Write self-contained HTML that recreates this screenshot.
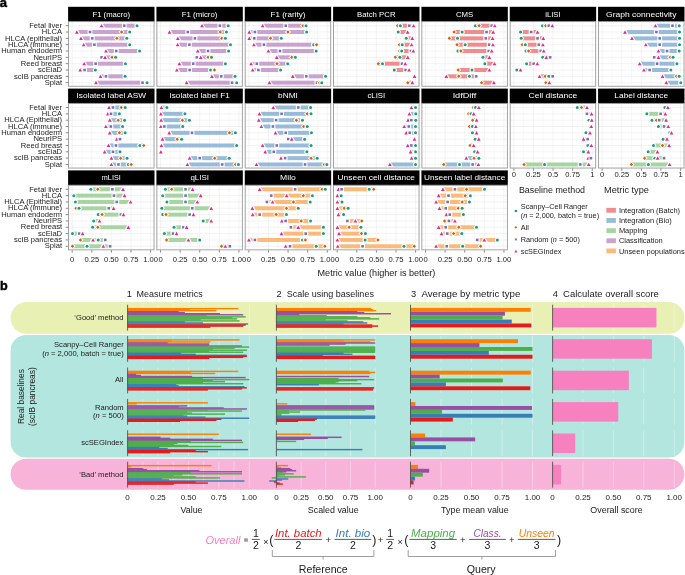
<!DOCTYPE html>
<html><head><meta charset="utf-8"><style>
html,body{margin:0;padding:0;background:#fff;width:685px;height:575px;overflow:hidden}
svg{display:block;will-change:transform}
text{font-family:"Liberation Sans", sans-serif}
</style></head><body>
<svg width="685" height="575" viewBox="0 0 685 575">
<rect x="0" y="0" width="685" height="575" fill="#fff"/>
<g font-family='"Liberation Sans", sans-serif'>
<text x="-0.2" y="6.9" font-size="13" fill="#000" font-weight="bold" stroke="#000" stroke-width="0.45">a</text>
<rect x="68.1" y="6.8" width="86.4" height="14.8" fill="#000"/>
<text x="111.3" y="16.5" font-size="8.1" fill="#fff" text-anchor="middle" textLength="37.6" lengthAdjust="spacingAndGlyphs">F1 (macro)</text>
<line x1="72.2" y1="21.6" x2="72.2" y2="86.7" stroke="#ebebeb" stroke-width="0.6"/>
<line x1="82" y1="21.6" x2="82" y2="86.7" stroke="#f4f4f4" stroke-width="0.6"/>
<line x1="91.8" y1="21.6" x2="91.8" y2="86.7" stroke="#ebebeb" stroke-width="0.6"/>
<line x1="101.6" y1="21.6" x2="101.6" y2="86.7" stroke="#f4f4f4" stroke-width="0.6"/>
<line x1="111.4" y1="21.6" x2="111.4" y2="86.7" stroke="#ebebeb" stroke-width="0.6"/>
<line x1="121.2" y1="21.6" x2="121.2" y2="86.7" stroke="#f4f4f4" stroke-width="0.6"/>
<line x1="131" y1="21.6" x2="131" y2="86.7" stroke="#ebebeb" stroke-width="0.6"/>
<line x1="140.8" y1="21.6" x2="140.8" y2="86.7" stroke="#f4f4f4" stroke-width="0.6"/>
<line x1="150.6" y1="21.6" x2="150.6" y2="86.7" stroke="#ebebeb" stroke-width="0.6"/>
<line x1="68.1" y1="25.7" x2="154.5" y2="25.7" stroke="#ebebeb" stroke-width="0.6"/>
<line x1="68.1" y1="32.03" x2="154.5" y2="32.03" stroke="#ebebeb" stroke-width="0.6"/>
<line x1="68.1" y1="38.36" x2="154.5" y2="38.36" stroke="#ebebeb" stroke-width="0.6"/>
<line x1="68.1" y1="44.69" x2="154.5" y2="44.69" stroke="#ebebeb" stroke-width="0.6"/>
<line x1="68.1" y1="51.02" x2="154.5" y2="51.02" stroke="#ebebeb" stroke-width="0.6"/>
<line x1="68.1" y1="57.35" x2="154.5" y2="57.35" stroke="#ebebeb" stroke-width="0.6"/>
<line x1="68.1" y1="63.68" x2="154.5" y2="63.68" stroke="#ebebeb" stroke-width="0.6"/>
<line x1="68.1" y1="70.01" x2="154.5" y2="70.01" stroke="#ebebeb" stroke-width="0.6"/>
<line x1="68.1" y1="76.34" x2="154.5" y2="76.34" stroke="#ebebeb" stroke-width="0.6"/>
<line x1="68.1" y1="82.67" x2="154.5" y2="82.67" stroke="#ebebeb" stroke-width="0.6"/>
<rect x="101.58" y="23.7" width="35.46" height="4" fill="#c9a2d0"/>
<polygon points="101.58,23.9 99.73,27.3 103.43,27.3" fill="#fff" stroke="#fff" stroke-width="2.4" stroke-linejoin="miter"/>
<polygon points="101.58,23.9 99.73,27.3 103.43,27.3" fill="#e7298a"/>
<rect x="121.83" y="23.3" width="4.8" height="4.8" fill="#fff"/>
<rect x="122.93" y="24.4" width="2.6" height="2.6" fill="#7570b3"/>
<circle cx="137.04" cy="25.7" r="2.6" fill="#fff"/>
<circle cx="137.04" cy="25.7" r="1.5" fill="#1b9e77"/>
<rect x="76.82" y="30.03" width="52.88" height="4" fill="#c9a2d0"/>
<polygon points="76.82,30.23 74.97,33.63 78.67,33.63" fill="#fff" stroke="#fff" stroke-width="2.4" stroke-linejoin="miter"/>
<polygon points="76.82,30.23 74.97,33.63 78.67,33.63" fill="#e7298a"/>
<rect x="87.62" y="29.63" width="4.8" height="4.8" fill="#fff"/>
<rect x="88.72" y="30.73" width="2.6" height="2.6" fill="#7570b3"/>
<polygon points="121.65,28.98 124.7,32.03 121.65,35.08 118.6,32.03" fill="#fff"/>
<polygon points="121.65,30.28 123.4,32.03 121.65,33.78 119.9,32.03" fill="#d95f02"/>
<circle cx="129.7" cy="32.03" r="2.6" fill="#fff"/>
<circle cx="129.7" cy="32.03" r="1.5" fill="#1b9e77"/>
<rect x="80.96" y="36.36" width="45.85" height="4" fill="#c9a2d0"/>
<polygon points="80.96,36.56 79.11,39.96 82.81,39.96" fill="#fff" stroke="#fff" stroke-width="2.4" stroke-linejoin="miter"/>
<polygon points="80.96,36.56 79.11,39.96 82.81,39.96" fill="#e7298a"/>
<rect x="89.81" y="35.96" width="4.8" height="4.8" fill="#fff"/>
<rect x="90.91" y="37.06" width="2.6" height="2.6" fill="#7570b3"/>
<polygon points="116.89,35.31 119.94,38.36 116.89,41.41 113.84,38.36" fill="#fff"/>
<polygon points="116.89,36.61 118.64,38.36 116.89,40.11 115.14,38.36" fill="#d95f02"/>
<circle cx="126.81" cy="38.36" r="2.6" fill="#fff"/>
<circle cx="126.81" cy="38.36" r="1.5" fill="#1b9e77"/>
<rect x="83.62" y="42.69" width="46.08" height="4" fill="#c9a2d0"/>
<polygon points="83.62,42.89 81.77,46.29 85.47,46.29" fill="#fff" stroke="#fff" stroke-width="2.4" stroke-linejoin="miter"/>
<polygon points="83.62,42.89 81.77,46.29 85.47,46.29" fill="#e7298a"/>
<rect x="91.99" y="42.29" width="4.8" height="4.8" fill="#fff"/>
<rect x="93.09" y="43.39" width="2.6" height="2.6" fill="#7570b3"/>
<circle cx="129.7" cy="44.69" r="2.6" fill="#fff"/>
<circle cx="129.7" cy="44.69" r="1.5" fill="#1b9e77"/>
<rect x="105.95" y="49.02" width="33.59" height="4" fill="#c9a2d0"/>
<polygon points="105.95,49.22 104.1,52.62 107.8,52.62" fill="#fff" stroke="#fff" stroke-width="2.4" stroke-linejoin="miter"/>
<polygon points="105.95,49.22 104.1,52.62 107.8,52.62" fill="#e7298a"/>
<rect x="113.86" y="48.62" width="4.8" height="4.8" fill="#fff"/>
<rect x="114.96" y="49.72" width="2.6" height="2.6" fill="#7570b3"/>
<circle cx="139.54" cy="51.02" r="2.6" fill="#fff"/>
<circle cx="139.54" cy="51.02" r="1.5" fill="#1b9e77"/>
<rect x="101.58" y="55.35" width="14.06" height="4" fill="#c9a2d0"/>
<rect x="99.18" y="54.95" width="4.8" height="4.8" fill="#fff"/>
<rect x="100.28" y="56.05" width="2.6" height="2.6" fill="#7570b3"/>
<polygon points="105.02,55.55 103.17,58.95 106.87,58.95" fill="#fff" stroke="#fff" stroke-width="2.4" stroke-linejoin="miter"/>
<polygon points="105.02,55.55 103.17,58.95 106.87,58.95" fill="#e7298a"/>
<polygon points="112.05,54.3 115.1,57.35 112.05,60.4 109,57.35" fill="#fff"/>
<polygon points="112.05,55.6 113.8,57.35 112.05,59.1 110.3,57.35" fill="#d95f02"/>
<circle cx="115.64" cy="57.35" r="2.6" fill="#fff"/>
<circle cx="115.64" cy="57.35" r="1.5" fill="#1b9e77"/>
<rect x="84.16" y="61.68" width="41.32" height="4" fill="#c9a2d0"/>
<polygon points="84.16,61.88 82.31,65.28 86.01,65.28" fill="#fff" stroke="#fff" stroke-width="2.4" stroke-linejoin="miter"/>
<polygon points="84.16,61.88 82.31,65.28 86.01,65.28" fill="#e7298a"/>
<rect x="93.24" y="61.28" width="4.8" height="4.8" fill="#fff"/>
<rect x="94.34" y="62.38" width="2.6" height="2.6" fill="#7570b3"/>
<circle cx="125.48" cy="63.68" r="2.6" fill="#fff"/>
<circle cx="125.48" cy="63.68" r="1.5" fill="#1b9e77"/>
<rect x="80.18" y="68.01" width="15.23" height="4" fill="#c9a2d0"/>
<polygon points="80.18,68.21 78.33,71.61 82.03,71.61" fill="#fff" stroke="#fff" stroke-width="2.4" stroke-linejoin="miter"/>
<polygon points="80.18,68.21 78.33,71.61 82.03,71.61" fill="#e7298a"/>
<rect x="82.15" y="67.61" width="4.8" height="4.8" fill="#fff"/>
<rect x="83.25" y="68.71" width="2.6" height="2.6" fill="#7570b3"/>
<circle cx="95.41" cy="70.01" r="2.6" fill="#fff"/>
<circle cx="95.41" cy="70.01" r="1.5" fill="#1b9e77"/>
<rect x="100.49" y="74.34" width="24.6" height="4" fill="#c9a2d0"/>
<polygon points="100.49,74.54 98.64,77.94 102.34,77.94" fill="#fff" stroke="#fff" stroke-width="2.4" stroke-linejoin="miter"/>
<polygon points="100.49,74.54 98.64,77.94 102.34,77.94" fill="#e7298a"/>
<rect x="103.55" y="73.94" width="4.8" height="4.8" fill="#fff"/>
<rect x="104.65" y="75.04" width="2.6" height="2.6" fill="#7570b3"/>
<circle cx="125.09" cy="76.34" r="2.6" fill="#fff"/>
<circle cx="125.09" cy="76.34" r="1.5" fill="#1b9e77"/>
<rect x="96.03" y="80.67" width="51" height="4" fill="#c9a2d0"/>
<polygon points="96.03,80.87 94.18,84.27 97.88,84.27" fill="#fff" stroke="#fff" stroke-width="2.4" stroke-linejoin="miter"/>
<polygon points="96.03,80.87 94.18,84.27 97.88,84.27" fill="#e7298a"/>
<rect x="140.11" y="80.27" width="4.8" height="4.8" fill="#fff"/>
<rect x="141.21" y="81.37" width="2.6" height="2.6" fill="#7570b3"/>
<circle cx="147.04" cy="82.67" r="2.6" fill="#fff"/>
<circle cx="147.04" cy="82.67" r="1.5" fill="#1b9e77"/>
<rect x="68.55" y="21.6" width="85.5" height="64.65" fill="none" stroke="#999" stroke-width="0.9"/>
<line x1="65.7" y1="25.7" x2="68.1" y2="25.7" stroke="#555" stroke-width="0.7"/>
<text x="62.1" y="27.9" font-size="7.6" fill="#1a1a1a" text-anchor="end">Fetal liver</text>
<line x1="65.7" y1="32.03" x2="68.1" y2="32.03" stroke="#555" stroke-width="0.7"/>
<text x="62.1" y="34.23" font-size="7.6" fill="#1a1a1a" text-anchor="end">HLCA</text>
<line x1="65.7" y1="38.36" x2="68.1" y2="38.36" stroke="#555" stroke-width="0.7"/>
<text x="62.1" y="40.56" font-size="7.6" fill="#1a1a1a" text-anchor="end">HLCA (epithelial)</text>
<line x1="65.7" y1="44.69" x2="68.1" y2="44.69" stroke="#555" stroke-width="0.7"/>
<text x="62.1" y="46.89" font-size="7.6" fill="#1a1a1a" text-anchor="end">HLCA (immune)</text>
<line x1="65.7" y1="51.02" x2="68.1" y2="51.02" stroke="#555" stroke-width="0.7"/>
<text x="62.1" y="53.22" font-size="7.6" fill="#1a1a1a" text-anchor="end">Human endoderm</text>
<line x1="65.7" y1="57.35" x2="68.1" y2="57.35" stroke="#555" stroke-width="0.7"/>
<text x="62.1" y="59.55" font-size="7.6" fill="#1a1a1a" text-anchor="end">NeurIPS</text>
<line x1="65.7" y1="63.68" x2="68.1" y2="63.68" stroke="#555" stroke-width="0.7"/>
<text x="62.1" y="65.88" font-size="7.6" fill="#1a1a1a" text-anchor="end">Reed breast</text>
<line x1="65.7" y1="70.01" x2="68.1" y2="70.01" stroke="#555" stroke-width="0.7"/>
<text x="62.1" y="72.21" font-size="7.6" fill="#1a1a1a" text-anchor="end">scEiaD</text>
<line x1="65.7" y1="76.34" x2="68.1" y2="76.34" stroke="#555" stroke-width="0.7"/>
<text x="62.1" y="78.54" font-size="7.6" fill="#1a1a1a" text-anchor="end">scIB pancreas</text>
<line x1="65.7" y1="82.67" x2="68.1" y2="82.67" stroke="#555" stroke-width="0.7"/>
<text x="62.1" y="84.87" font-size="7.6" fill="#1a1a1a" text-anchor="end">Splat</text>
<rect x="156.43" y="6.8" width="86.4" height="14.8" fill="#000"/>
<text x="199.63" y="16.5" font-size="8.1" fill="#fff" text-anchor="middle" textLength="35.6" lengthAdjust="spacingAndGlyphs">F1 (micro)</text>
<line x1="160.53" y1="21.6" x2="160.53" y2="86.7" stroke="#ebebeb" stroke-width="0.6"/>
<line x1="170.33" y1="21.6" x2="170.33" y2="86.7" stroke="#f4f4f4" stroke-width="0.6"/>
<line x1="180.13" y1="21.6" x2="180.13" y2="86.7" stroke="#ebebeb" stroke-width="0.6"/>
<line x1="189.93" y1="21.6" x2="189.93" y2="86.7" stroke="#f4f4f4" stroke-width="0.6"/>
<line x1="199.73" y1="21.6" x2="199.73" y2="86.7" stroke="#ebebeb" stroke-width="0.6"/>
<line x1="209.53" y1="21.6" x2="209.53" y2="86.7" stroke="#f4f4f4" stroke-width="0.6"/>
<line x1="219.33" y1="21.6" x2="219.33" y2="86.7" stroke="#ebebeb" stroke-width="0.6"/>
<line x1="229.13" y1="21.6" x2="229.13" y2="86.7" stroke="#f4f4f4" stroke-width="0.6"/>
<line x1="238.93" y1="21.6" x2="238.93" y2="86.7" stroke="#ebebeb" stroke-width="0.6"/>
<line x1="156.43" y1="25.7" x2="242.83" y2="25.7" stroke="#ebebeb" stroke-width="0.6"/>
<line x1="156.43" y1="32.03" x2="242.83" y2="32.03" stroke="#ebebeb" stroke-width="0.6"/>
<line x1="156.43" y1="38.36" x2="242.83" y2="38.36" stroke="#ebebeb" stroke-width="0.6"/>
<line x1="156.43" y1="44.69" x2="242.83" y2="44.69" stroke="#ebebeb" stroke-width="0.6"/>
<line x1="156.43" y1="51.02" x2="242.83" y2="51.02" stroke="#ebebeb" stroke-width="0.6"/>
<line x1="156.43" y1="57.35" x2="242.83" y2="57.35" stroke="#ebebeb" stroke-width="0.6"/>
<line x1="156.43" y1="63.68" x2="242.83" y2="63.68" stroke="#ebebeb" stroke-width="0.6"/>
<line x1="156.43" y1="70.01" x2="242.83" y2="70.01" stroke="#ebebeb" stroke-width="0.6"/>
<line x1="156.43" y1="76.34" x2="242.83" y2="76.34" stroke="#ebebeb" stroke-width="0.6"/>
<line x1="156.43" y1="82.67" x2="242.83" y2="82.67" stroke="#ebebeb" stroke-width="0.6"/>
<rect x="201.97" y="23.7" width="26.24" height="4" fill="#c9a2d0"/>
<polygon points="201.97,23.9 200.12,27.3 203.82,27.3" fill="#fff" stroke="#fff" stroke-width="2.4" stroke-linejoin="miter"/>
<polygon points="201.97,23.9 200.12,27.3 203.82,27.3" fill="#e7298a"/>
<rect x="217.45" y="23.3" width="4.8" height="4.8" fill="#fff"/>
<rect x="218.55" y="24.4" width="2.6" height="2.6" fill="#7570b3"/>
<circle cx="228.21" cy="25.7" r="2.6" fill="#fff"/>
<circle cx="228.21" cy="25.7" r="1.5" fill="#1b9e77"/>
<rect x="169.47" y="30.03" width="56.94" height="4" fill="#c9a2d0"/>
<polygon points="169.47,30.23 167.62,33.63 171.32,33.63" fill="#fff" stroke="#fff" stroke-width="2.4" stroke-linejoin="miter"/>
<polygon points="169.47,30.23 167.62,33.63 171.32,33.63" fill="#e7298a"/>
<rect x="185.43" y="29.63" width="4.8" height="4.8" fill="#fff"/>
<rect x="186.53" y="30.73" width="2.6" height="2.6" fill="#7570b3"/>
<polygon points="220.24,28.98 223.29,32.03 220.24,35.08 217.19,32.03" fill="#fff"/>
<polygon points="220.24,30.28 221.99,32.03 220.24,33.78 218.49,32.03" fill="#d95f02"/>
<circle cx="226.41" cy="32.03" r="2.6" fill="#fff"/>
<circle cx="226.41" cy="32.03" r="1.5" fill="#1b9e77"/>
<rect x="177.83" y="36.36" width="47.57" height="4" fill="#c9a2d0"/>
<polygon points="177.83,36.56 175.98,39.96 179.68,39.96" fill="#fff" stroke="#fff" stroke-width="2.4" stroke-linejoin="miter"/>
<polygon points="177.83,36.56 175.98,39.96 179.68,39.96" fill="#e7298a"/>
<rect x="192.54" y="35.96" width="4.8" height="4.8" fill="#fff"/>
<rect x="193.64" y="37.06" width="2.6" height="2.6" fill="#7570b3"/>
<polygon points="221.81,35.31 224.86,38.36 221.81,41.41 218.76,38.36" fill="#fff"/>
<polygon points="221.81,36.61 223.56,38.36 221.81,40.11 220.06,38.36" fill="#d95f02"/>
<circle cx="225.4" cy="38.36" r="2.6" fill="#fff"/>
<circle cx="225.4" cy="38.36" r="1.5" fill="#1b9e77"/>
<rect x="177.6" y="42.69" width="52.88" height="4" fill="#c9a2d0"/>
<polygon points="177.6,42.89 175.75,46.29 179.45,46.29" fill="#fff" stroke="#fff" stroke-width="2.4" stroke-linejoin="miter"/>
<polygon points="177.6,42.89 175.75,46.29 179.45,46.29" fill="#e7298a"/>
<rect x="186.99" y="42.29" width="4.8" height="4.8" fill="#fff"/>
<rect x="188.09" y="43.39" width="2.6" height="2.6" fill="#7570b3"/>
<circle cx="230.48" cy="44.69" r="2.6" fill="#fff"/>
<circle cx="230.48" cy="44.69" r="1.5" fill="#1b9e77"/>
<rect x="197.75" y="49.02" width="30.85" height="4" fill="#c9a2d0"/>
<polygon points="197.75,49.22 195.9,52.62 199.6,52.62" fill="#fff" stroke="#fff" stroke-width="2.4" stroke-linejoin="miter"/>
<polygon points="197.75,49.22 195.9,52.62 199.6,52.62" fill="#e7298a"/>
<rect x="205.66" y="48.62" width="4.8" height="4.8" fill="#fff"/>
<rect x="206.76" y="49.72" width="2.6" height="2.6" fill="#7570b3"/>
<circle cx="228.6" cy="51.02" r="2.6" fill="#fff"/>
<circle cx="228.6" cy="51.02" r="1.5" fill="#1b9e77"/>
<rect x="196.81" y="55.35" width="14.68" height="4" fill="#c9a2d0"/>
<rect x="194.41" y="54.95" width="4.8" height="4.8" fill="#fff"/>
<rect x="195.51" y="56.05" width="2.6" height="2.6" fill="#7570b3"/>
<polygon points="200.72,55.55 198.87,58.95 202.57,58.95" fill="#fff" stroke="#fff" stroke-width="2.4" stroke-linejoin="miter"/>
<polygon points="200.72,55.55 198.87,58.95 202.57,58.95" fill="#e7298a"/>
<polygon points="208.06,54.3 211.11,57.35 208.06,60.4 205.01,57.35" fill="#fff"/>
<polygon points="208.06,55.6 209.81,57.35 208.06,59.1 206.31,57.35" fill="#d95f02"/>
<circle cx="211.5" cy="57.35" r="2.6" fill="#fff"/>
<circle cx="211.5" cy="57.35" r="1.5" fill="#1b9e77"/>
<rect x="179.39" y="61.68" width="46.01" height="4" fill="#c9a2d0"/>
<polygon points="179.39,61.88 177.54,65.28 181.24,65.28" fill="#fff" stroke="#fff" stroke-width="2.4" stroke-linejoin="miter"/>
<polygon points="179.39,61.88 177.54,65.28 181.24,65.28" fill="#e7298a"/>
<rect x="190.82" y="61.28" width="4.8" height="4.8" fill="#fff"/>
<rect x="191.92" y="62.38" width="2.6" height="2.6" fill="#7570b3"/>
<circle cx="225.4" cy="63.68" r="2.6" fill="#fff"/>
<circle cx="225.4" cy="63.68" r="1.5" fill="#1b9e77"/>
<rect x="176.82" y="68.01" width="37.65" height="4" fill="#c9a2d0"/>
<polygon points="176.82,68.21 174.97,71.61 178.67,71.61" fill="#fff" stroke="#fff" stroke-width="2.4" stroke-linejoin="miter"/>
<polygon points="176.82,68.21 174.97,71.61 178.67,71.61" fill="#e7298a"/>
<rect x="187.23" y="67.61" width="4.8" height="4.8" fill="#fff"/>
<rect x="188.33" y="68.71" width="2.6" height="2.6" fill="#7570b3"/>
<circle cx="210.56" cy="70.01" r="2.6" fill="#fff"/>
<circle cx="210.56" cy="70.01" r="1.5" fill="#1b9e77"/>
<polygon points="214.46,66.96 217.51,70.01 214.46,73.06 211.41,70.01" fill="#fff"/>
<polygon points="214.46,68.26 216.21,70.01 214.46,71.76 212.71,70.01" fill="#d95f02"/>
<rect x="211.89" y="74.34" width="23.12" height="4" fill="#c9a2d0"/>
<polygon points="211.89,74.54 210.04,77.94 213.74,77.94" fill="#fff" stroke="#fff" stroke-width="2.4" stroke-linejoin="miter"/>
<polygon points="211.89,74.54 210.04,77.94 213.74,77.94" fill="#e7298a"/>
<rect x="218.86" y="73.94" width="4.8" height="4.8" fill="#fff"/>
<rect x="219.96" y="75.04" width="2.6" height="2.6" fill="#7570b3"/>
<circle cx="235.01" cy="76.34" r="2.6" fill="#fff"/>
<circle cx="235.01" cy="76.34" r="1.5" fill="#1b9e77"/>
<rect x="186.58" y="80.67" width="50.07" height="4" fill="#c9a2d0"/>
<polygon points="186.58,80.87 184.73,84.27 188.43,84.27" fill="#fff" stroke="#fff" stroke-width="2.4" stroke-linejoin="miter"/>
<polygon points="186.58,80.87 184.73,84.27 188.43,84.27" fill="#e7298a"/>
<rect x="229.64" y="80.27" width="4.8" height="4.8" fill="#fff"/>
<rect x="230.74" y="81.37" width="2.6" height="2.6" fill="#7570b3"/>
<circle cx="236.65" cy="82.67" r="2.6" fill="#fff"/>
<circle cx="236.65" cy="82.67" r="1.5" fill="#1b9e77"/>
<rect x="156.88" y="21.6" width="85.5" height="64.65" fill="none" stroke="#999" stroke-width="0.9"/>
<rect x="244.76" y="6.8" width="86.4" height="14.8" fill="#000"/>
<text x="287.96" y="16.5" font-size="8.1" fill="#fff" text-anchor="middle" textLength="34.7" lengthAdjust="spacingAndGlyphs">F1 (rarity)</text>
<line x1="248.86" y1="21.6" x2="248.86" y2="86.7" stroke="#ebebeb" stroke-width="0.6"/>
<line x1="258.66" y1="21.6" x2="258.66" y2="86.7" stroke="#f4f4f4" stroke-width="0.6"/>
<line x1="268.46" y1="21.6" x2="268.46" y2="86.7" stroke="#ebebeb" stroke-width="0.6"/>
<line x1="278.26" y1="21.6" x2="278.26" y2="86.7" stroke="#f4f4f4" stroke-width="0.6"/>
<line x1="288.06" y1="21.6" x2="288.06" y2="86.7" stroke="#ebebeb" stroke-width="0.6"/>
<line x1="297.86" y1="21.6" x2="297.86" y2="86.7" stroke="#f4f4f4" stroke-width="0.6"/>
<line x1="307.66" y1="21.6" x2="307.66" y2="86.7" stroke="#ebebeb" stroke-width="0.6"/>
<line x1="317.46" y1="21.6" x2="317.46" y2="86.7" stroke="#f4f4f4" stroke-width="0.6"/>
<line x1="327.26" y1="21.6" x2="327.26" y2="86.7" stroke="#ebebeb" stroke-width="0.6"/>
<line x1="244.76" y1="25.7" x2="331.16" y2="25.7" stroke="#ebebeb" stroke-width="0.6"/>
<line x1="244.76" y1="32.03" x2="331.16" y2="32.03" stroke="#ebebeb" stroke-width="0.6"/>
<line x1="244.76" y1="38.36" x2="331.16" y2="38.36" stroke="#ebebeb" stroke-width="0.6"/>
<line x1="244.76" y1="44.69" x2="331.16" y2="44.69" stroke="#ebebeb" stroke-width="0.6"/>
<line x1="244.76" y1="51.02" x2="331.16" y2="51.02" stroke="#ebebeb" stroke-width="0.6"/>
<line x1="244.76" y1="57.35" x2="331.16" y2="57.35" stroke="#ebebeb" stroke-width="0.6"/>
<line x1="244.76" y1="63.68" x2="331.16" y2="63.68" stroke="#ebebeb" stroke-width="0.6"/>
<line x1="244.76" y1="70.01" x2="331.16" y2="70.01" stroke="#ebebeb" stroke-width="0.6"/>
<line x1="244.76" y1="76.34" x2="331.16" y2="76.34" stroke="#ebebeb" stroke-width="0.6"/>
<line x1="244.76" y1="82.67" x2="331.16" y2="82.67" stroke="#ebebeb" stroke-width="0.6"/>
<rect x="262.62" y="23.7" width="43.43" height="4" fill="#c9a2d0"/>
<polygon points="262.62,23.9 260.77,27.3 264.47,27.3" fill="#fff" stroke="#fff" stroke-width="2.4" stroke-linejoin="miter"/>
<polygon points="262.62,23.9 260.77,27.3 264.47,27.3" fill="#e7298a"/>
<rect x="283.34" y="23.3" width="4.8" height="4.8" fill="#fff"/>
<rect x="284.44" y="24.4" width="2.6" height="2.6" fill="#7570b3"/>
<polygon points="303.08,22.65 306.13,25.7 303.08,28.75 300.03,25.7" fill="#fff"/>
<polygon points="303.08,23.95 304.83,25.7 303.08,27.45 301.33,25.7" fill="#d95f02"/>
<circle cx="306.05" cy="25.7" r="2.6" fill="#fff"/>
<circle cx="306.05" cy="25.7" r="1.5" fill="#1b9e77"/>
<rect x="249.27" y="30.03" width="57.33" height="4" fill="#c9a2d0"/>
<polygon points="249.27,30.23 247.42,33.63 251.12,33.63" fill="#fff" stroke="#fff" stroke-width="2.4" stroke-linejoin="miter"/>
<polygon points="249.27,30.23 247.42,33.63 251.12,33.63" fill="#e7298a"/>
<rect x="252.49" y="29.63" width="4.8" height="4.8" fill="#fff"/>
<rect x="253.59" y="30.73" width="2.6" height="2.6" fill="#7570b3"/>
<polygon points="287.93,28.98 290.98,32.03 287.93,35.08 284.88,32.03" fill="#fff"/>
<polygon points="287.93,30.28 289.68,32.03 287.93,33.78 286.18,32.03" fill="#d95f02"/>
<circle cx="306.6" cy="32.03" r="2.6" fill="#fff"/>
<circle cx="306.6" cy="32.03" r="1.5" fill="#1b9e77"/>
<rect x="249.27" y="36.36" width="32.02" height="4" fill="#c9a2d0"/>
<polygon points="249.27,36.56 247.42,39.96 251.12,39.96" fill="#fff" stroke="#fff" stroke-width="2.4" stroke-linejoin="miter"/>
<polygon points="249.27,36.56 247.42,39.96 251.12,39.96" fill="#e7298a"/>
<rect x="251.87" y="35.96" width="4.8" height="4.8" fill="#fff"/>
<rect x="252.97" y="37.06" width="2.6" height="2.6" fill="#7570b3"/>
<polygon points="270.59,35.31 273.64,38.36 270.59,41.41 267.54,38.36" fill="#fff"/>
<polygon points="270.59,36.61 272.34,38.36 270.59,40.11 268.84,38.36" fill="#d95f02"/>
<circle cx="281.29" cy="38.36" r="2.6" fill="#fff"/>
<circle cx="281.29" cy="38.36" r="1.5" fill="#1b9e77"/>
<rect x="253.88" y="42.69" width="62.72" height="4" fill="#c9a2d0"/>
<polygon points="253.88,42.89 252.03,46.29 255.73,46.29" fill="#fff" stroke="#fff" stroke-width="2.4" stroke-linejoin="miter"/>
<polygon points="253.88,42.89 252.03,46.29 255.73,46.29" fill="#e7298a"/>
<rect x="261.55" y="42.29" width="4.8" height="4.8" fill="#fff"/>
<rect x="262.65" y="43.39" width="2.6" height="2.6" fill="#7570b3"/>
<circle cx="313.63" cy="44.69" r="2.6" fill="#fff"/>
<circle cx="313.63" cy="44.69" r="1.5" fill="#1b9e77"/>
<polygon points="316.6,41.64 319.65,44.69 316.6,47.74 313.55,44.69" fill="#fff"/>
<polygon points="316.6,42.94 318.35,44.69 316.6,46.44 314.85,44.69" fill="#d95f02"/>
<rect x="268.4" y="49.02" width="47.8" height="4" fill="#c9a2d0"/>
<polygon points="268.4,49.22 266.55,52.62 270.25,52.62" fill="#fff" stroke="#fff" stroke-width="2.4" stroke-linejoin="miter"/>
<polygon points="268.4,49.22 266.55,52.62 270.25,52.62" fill="#e7298a"/>
<rect x="277.56" y="48.62" width="4.8" height="4.8" fill="#fff"/>
<rect x="278.66" y="49.72" width="2.6" height="2.6" fill="#7570b3"/>
<circle cx="316.21" cy="51.02" r="2.6" fill="#fff"/>
<circle cx="316.21" cy="51.02" r="1.5" fill="#1b9e77"/>
<rect x="276.76" y="55.35" width="18.59" height="4" fill="#c9a2d0"/>
<polygon points="276.76,55.55 274.91,58.95 278.61,58.95" fill="#fff" stroke="#fff" stroke-width="2.4" stroke-linejoin="miter"/>
<polygon points="276.76,55.55 274.91,58.95 278.61,58.95" fill="#e7298a"/>
<polygon points="291.76,54.3 294.81,57.35 291.76,60.4 288.71,57.35" fill="#fff"/>
<polygon points="291.76,55.6 293.51,57.35 291.76,59.1 290.01,57.35" fill="#d95f02"/>
<circle cx="295.35" cy="57.35" r="2.6" fill="#fff"/>
<circle cx="295.35" cy="57.35" r="1.5" fill="#1b9e77"/>
<rect x="251.06" y="61.68" width="36.63" height="4" fill="#c9a2d0"/>
<polygon points="251.06,61.88 249.21,65.28 252.91,65.28" fill="#fff" stroke="#fff" stroke-width="2.4" stroke-linejoin="miter"/>
<polygon points="251.06,61.88 249.21,65.28 252.91,65.28" fill="#e7298a"/>
<rect x="254.44" y="61.28" width="4.8" height="4.8" fill="#fff"/>
<rect x="255.54" y="62.38" width="2.6" height="2.6" fill="#7570b3"/>
<polygon points="277,60.63 280.05,63.68 277,66.73 273.95,63.68" fill="#fff"/>
<polygon points="277,61.93 278.75,63.68 277,65.43 275.25,63.68" fill="#d95f02"/>
<circle cx="287.7" cy="63.68" r="2.6" fill="#fff"/>
<circle cx="287.7" cy="63.68" r="1.5" fill="#1b9e77"/>
<rect x="252.7" y="68.01" width="27.88" height="4" fill="#c9a2d0"/>
<polygon points="252.7,68.21 250.85,71.61 254.55,71.61" fill="#fff" stroke="#fff" stroke-width="2.4" stroke-linejoin="miter"/>
<polygon points="252.7,68.21 250.85,71.61 254.55,71.61" fill="#e7298a"/>
<rect x="256.01" y="67.61" width="4.8" height="4.8" fill="#fff"/>
<rect x="257.11" y="68.71" width="2.6" height="2.6" fill="#7570b3"/>
<circle cx="280.59" cy="70.01" r="2.6" fill="#fff"/>
<circle cx="280.59" cy="70.01" r="1.5" fill="#1b9e77"/>
<rect x="292.77" y="74.34" width="32.81" height="4" fill="#c9a2d0"/>
<polygon points="292.77,74.54 290.92,77.94 294.62,77.94" fill="#fff" stroke="#fff" stroke-width="2.4" stroke-linejoin="miter"/>
<polygon points="292.77,74.54 290.92,77.94 294.62,77.94" fill="#e7298a"/>
<rect x="303.89" y="73.94" width="4.8" height="4.8" fill="#fff"/>
<rect x="304.99" y="75.04" width="2.6" height="2.6" fill="#7570b3"/>
<circle cx="325.58" cy="76.34" r="2.6" fill="#fff"/>
<circle cx="325.58" cy="76.34" r="1.5" fill="#1b9e77"/>
<rect x="269.42" y="80.67" width="52.33" height="4" fill="#c9a2d0"/>
<polygon points="269.42,80.87 267.57,84.27 271.27,84.27" fill="#fff" stroke="#fff" stroke-width="2.4" stroke-linejoin="miter"/>
<polygon points="269.42,80.87 267.57,84.27 271.27,84.27" fill="#e7298a"/>
<rect x="314.59" y="80.27" width="4.8" height="4.8" fill="#fff"/>
<rect x="315.69" y="81.37" width="2.6" height="2.6" fill="#7570b3"/>
<polygon points="319.56,79.62 322.61,82.67 319.56,85.72 316.51,82.67" fill="#fff"/>
<polygon points="319.56,80.92 321.31,82.67 319.56,84.42 317.81,82.67" fill="#d95f02"/>
<circle cx="321.75" cy="82.67" r="2.6" fill="#fff"/>
<circle cx="321.75" cy="82.67" r="1.5" fill="#1b9e77"/>
<rect x="245.21" y="21.6" width="85.5" height="64.65" fill="none" stroke="#999" stroke-width="0.9"/>
<rect x="333.09" y="6.8" width="86.4" height="14.8" fill="#000"/>
<text x="376.29" y="16.5" font-size="8.1" fill="#fff" text-anchor="middle" textLength="38.5" lengthAdjust="spacingAndGlyphs">Batch PCR</text>
<line x1="337.19" y1="21.6" x2="337.19" y2="86.7" stroke="#ebebeb" stroke-width="0.6"/>
<line x1="346.99" y1="21.6" x2="346.99" y2="86.7" stroke="#f4f4f4" stroke-width="0.6"/>
<line x1="356.79" y1="21.6" x2="356.79" y2="86.7" stroke="#ebebeb" stroke-width="0.6"/>
<line x1="366.59" y1="21.6" x2="366.59" y2="86.7" stroke="#f4f4f4" stroke-width="0.6"/>
<line x1="376.39" y1="21.6" x2="376.39" y2="86.7" stroke="#ebebeb" stroke-width="0.6"/>
<line x1="386.19" y1="21.6" x2="386.19" y2="86.7" stroke="#f4f4f4" stroke-width="0.6"/>
<line x1="395.99" y1="21.6" x2="395.99" y2="86.7" stroke="#ebebeb" stroke-width="0.6"/>
<line x1="405.79" y1="21.6" x2="405.79" y2="86.7" stroke="#f4f4f4" stroke-width="0.6"/>
<line x1="415.59" y1="21.6" x2="415.59" y2="86.7" stroke="#ebebeb" stroke-width="0.6"/>
<line x1="333.09" y1="25.7" x2="419.49" y2="25.7" stroke="#ebebeb" stroke-width="0.6"/>
<line x1="333.09" y1="32.03" x2="419.49" y2="32.03" stroke="#ebebeb" stroke-width="0.6"/>
<line x1="333.09" y1="38.36" x2="419.49" y2="38.36" stroke="#ebebeb" stroke-width="0.6"/>
<line x1="333.09" y1="44.69" x2="419.49" y2="44.69" stroke="#ebebeb" stroke-width="0.6"/>
<line x1="333.09" y1="51.02" x2="419.49" y2="51.02" stroke="#ebebeb" stroke-width="0.6"/>
<line x1="333.09" y1="57.35" x2="419.49" y2="57.35" stroke="#ebebeb" stroke-width="0.6"/>
<line x1="333.09" y1="63.68" x2="419.49" y2="63.68" stroke="#ebebeb" stroke-width="0.6"/>
<line x1="333.09" y1="70.01" x2="419.49" y2="70.01" stroke="#ebebeb" stroke-width="0.6"/>
<line x1="333.09" y1="76.34" x2="419.49" y2="76.34" stroke="#ebebeb" stroke-width="0.6"/>
<line x1="333.09" y1="82.67" x2="419.49" y2="82.67" stroke="#ebebeb" stroke-width="0.6"/>
<rect x="397.48" y="23.7" width="16.09" height="4" fill="#f08c8d"/>
<polygon points="397.48,22.65 400.53,25.7 397.48,28.75 394.43,25.7" fill="#fff"/>
<polygon points="397.48,23.95 399.23,25.7 397.48,27.45 395.73,25.7" fill="#d95f02"/>
<circle cx="400.37" cy="25.7" r="2.6" fill="#fff"/>
<circle cx="400.37" cy="25.7" r="1.5" fill="#1b9e77"/>
<rect x="406.96" y="23.3" width="4.8" height="4.8" fill="#fff"/>
<rect x="408.06" y="24.4" width="2.6" height="2.6" fill="#7570b3"/>
<polygon points="413.57,23.9 411.72,27.3 415.42,27.3" fill="#fff" stroke="#fff" stroke-width="2.4" stroke-linejoin="miter"/>
<polygon points="413.57,23.9 411.72,27.3 415.42,27.3" fill="#e7298a"/>
<rect x="398.19" y="30.03" width="9.37" height="4" fill="#f08c8d"/>
<circle cx="398.19" cy="32.03" r="2.6" fill="#fff"/>
<circle cx="398.19" cy="32.03" r="1.5" fill="#1b9e77"/>
<polygon points="407.56,30.23 405.71,33.63 409.41,33.63" fill="#fff" stroke="#fff" stroke-width="2.4" stroke-linejoin="miter"/>
<polygon points="407.56,30.23 405.71,33.63 409.41,33.63" fill="#e7298a"/>
<rect x="406.23" y="36.36" width="6.09" height="4" fill="#f08c8d"/>
<circle cx="406.23" cy="38.36" r="2.6" fill="#fff"/>
<circle cx="406.23" cy="38.36" r="1.5" fill="#1b9e77"/>
<polygon points="412.32,36.56 410.47,39.96 414.17,39.96" fill="#fff" stroke="#fff" stroke-width="2.4" stroke-linejoin="miter"/>
<polygon points="412.32,36.56 410.47,39.96 414.17,39.96" fill="#e7298a"/>
<rect x="399.44" y="42.69" width="12.18" height="4" fill="#f08c8d"/>
<polygon points="399.44,41.64 402.49,44.69 399.44,47.74 396.39,44.69" fill="#fff"/>
<polygon points="399.44,42.94 401.19,44.69 399.44,46.44 397.69,44.69" fill="#d95f02"/>
<circle cx="402.25" cy="44.69" r="2.6" fill="#fff"/>
<circle cx="402.25" cy="44.69" r="1.5" fill="#1b9e77"/>
<polygon points="411.62,42.89 409.77,46.29 413.47,46.29" fill="#fff" stroke="#fff" stroke-width="2.4" stroke-linejoin="miter"/>
<polygon points="411.62,42.89 409.77,46.29 413.47,46.29" fill="#e7298a"/>
<rect x="399.67" y="49.02" width="13.67" height="4" fill="#f08c8d"/>
<polygon points="399.67,47.97 402.72,51.02 399.67,54.07 396.62,51.02" fill="#fff"/>
<polygon points="399.67,49.27 401.42,51.02 399.67,52.77 397.92,51.02" fill="#d95f02"/>
<circle cx="401.7" cy="51.02" r="2.6" fill="#fff"/>
<circle cx="401.7" cy="51.02" r="1.5" fill="#1b9e77"/>
<rect x="408.6" y="48.62" width="4.8" height="4.8" fill="#fff"/>
<rect x="409.7" y="49.72" width="2.6" height="2.6" fill="#7570b3"/>
<polygon points="413.34,49.22 411.49,52.62 415.19,52.62" fill="#fff" stroke="#fff" stroke-width="2.4" stroke-linejoin="miter"/>
<polygon points="413.34,49.22 411.49,52.62 415.19,52.62" fill="#e7298a"/>
<rect x="395.3" y="55.35" width="12.5" height="4" fill="#f08c8d"/>
<polygon points="395.3,54.3 398.35,57.35 395.3,60.4 392.25,57.35" fill="#fff"/>
<polygon points="395.3,55.6 397.05,57.35 395.3,59.1 393.55,57.35" fill="#d95f02"/>
<circle cx="399.83" cy="57.35" r="2.6" fill="#fff"/>
<circle cx="399.83" cy="57.35" r="1.5" fill="#1b9e77"/>
<polygon points="407.79,55.55 405.94,58.95 409.64,58.95" fill="#fff" stroke="#fff" stroke-width="2.4" stroke-linejoin="miter"/>
<polygon points="407.79,55.55 405.94,58.95 409.64,58.95" fill="#e7298a"/>
<rect x="378.27" y="61.68" width="26.95" height="4" fill="#f08c8d"/>
<polygon points="378.27,60.63 381.32,63.68 378.27,66.73 375.22,63.68" fill="#fff"/>
<polygon points="378.27,61.93 380.02,63.68 378.27,65.43 376.52,63.68" fill="#d95f02"/>
<circle cx="382.49" cy="63.68" r="2.6" fill="#fff"/>
<circle cx="382.49" cy="63.68" r="1.5" fill="#1b9e77"/>
<rect x="399.61" y="61.28" width="4.8" height="4.8" fill="#fff"/>
<rect x="400.71" y="62.38" width="2.6" height="2.6" fill="#7570b3"/>
<polygon points="405.22,61.88 403.37,65.28 407.07,65.28" fill="#fff" stroke="#fff" stroke-width="2.4" stroke-linejoin="miter"/>
<polygon points="405.22,61.88 403.37,65.28 407.07,65.28" fill="#e7298a"/>
<rect x="394.28" y="68.01" width="14.76" height="4" fill="#f08c8d"/>
<circle cx="394.28" cy="70.01" r="2.6" fill="#fff"/>
<circle cx="394.28" cy="70.01" r="1.5" fill="#1b9e77"/>
<rect x="403.21" y="67.61" width="4.8" height="4.8" fill="#fff"/>
<rect x="404.31" y="68.71" width="2.6" height="2.6" fill="#7570b3"/>
<polygon points="409.04,68.21 407.19,71.61 410.89,71.61" fill="#fff" stroke="#fff" stroke-width="2.4" stroke-linejoin="miter"/>
<polygon points="409.04,68.21 407.19,71.61 410.89,71.61" fill="#e7298a"/>
<polygon points="414.51,74.54 412.66,77.94 416.36,77.94" fill="#fff" stroke="#fff" stroke-width="2.4" stroke-linejoin="miter"/>
<polygon points="414.51,74.54 412.66,77.94 416.36,77.94" fill="#e7298a"/>
<rect x="407.79" y="80.67" width="4.53" height="4" fill="#f08c8d"/>
<polygon points="407.79,79.62 410.84,82.67 407.79,85.72 404.74,82.67" fill="#fff"/>
<polygon points="407.79,80.92 409.54,82.67 407.79,84.42 406.04,82.67" fill="#d95f02"/>
<polygon points="412.32,80.87 410.47,84.27 414.17,84.27" fill="#fff" stroke="#fff" stroke-width="2.4" stroke-linejoin="miter"/>
<polygon points="412.32,80.87 410.47,84.27 414.17,84.27" fill="#e7298a"/>
<rect x="333.54" y="21.6" width="85.5" height="64.65" fill="none" stroke="#999" stroke-width="0.9"/>
<rect x="421.42" y="6.8" width="86.4" height="14.8" fill="#000"/>
<text x="464.62" y="16.5" font-size="8.1" fill="#fff" text-anchor="middle" textLength="17.3" lengthAdjust="spacingAndGlyphs">CMS</text>
<line x1="425.52" y1="21.6" x2="425.52" y2="86.7" stroke="#ebebeb" stroke-width="0.6"/>
<line x1="435.32" y1="21.6" x2="435.32" y2="86.7" stroke="#f4f4f4" stroke-width="0.6"/>
<line x1="445.12" y1="21.6" x2="445.12" y2="86.7" stroke="#ebebeb" stroke-width="0.6"/>
<line x1="454.92" y1="21.6" x2="454.92" y2="86.7" stroke="#f4f4f4" stroke-width="0.6"/>
<line x1="464.72" y1="21.6" x2="464.72" y2="86.7" stroke="#ebebeb" stroke-width="0.6"/>
<line x1="474.52" y1="21.6" x2="474.52" y2="86.7" stroke="#f4f4f4" stroke-width="0.6"/>
<line x1="484.32" y1="21.6" x2="484.32" y2="86.7" stroke="#ebebeb" stroke-width="0.6"/>
<line x1="494.12" y1="21.6" x2="494.12" y2="86.7" stroke="#f4f4f4" stroke-width="0.6"/>
<line x1="503.92" y1="21.6" x2="503.92" y2="86.7" stroke="#ebebeb" stroke-width="0.6"/>
<line x1="421.42" y1="25.7" x2="507.82" y2="25.7" stroke="#ebebeb" stroke-width="0.6"/>
<line x1="421.42" y1="32.03" x2="507.82" y2="32.03" stroke="#ebebeb" stroke-width="0.6"/>
<line x1="421.42" y1="38.36" x2="507.82" y2="38.36" stroke="#ebebeb" stroke-width="0.6"/>
<line x1="421.42" y1="44.69" x2="507.82" y2="44.69" stroke="#ebebeb" stroke-width="0.6"/>
<line x1="421.42" y1="51.02" x2="507.82" y2="51.02" stroke="#ebebeb" stroke-width="0.6"/>
<line x1="421.42" y1="57.35" x2="507.82" y2="57.35" stroke="#ebebeb" stroke-width="0.6"/>
<line x1="421.42" y1="63.68" x2="507.82" y2="63.68" stroke="#ebebeb" stroke-width="0.6"/>
<line x1="421.42" y1="70.01" x2="507.82" y2="70.01" stroke="#ebebeb" stroke-width="0.6"/>
<line x1="421.42" y1="76.34" x2="507.82" y2="76.34" stroke="#ebebeb" stroke-width="0.6"/>
<line x1="421.42" y1="82.67" x2="507.82" y2="82.67" stroke="#ebebeb" stroke-width="0.6"/>
<rect x="475.47" y="23.7" width="19.29" height="4" fill="#f08c8d"/>
<circle cx="475.47" cy="25.7" r="2.6" fill="#fff"/>
<circle cx="475.47" cy="25.7" r="1.5" fill="#1b9e77"/>
<polygon points="479.06,22.65 482.11,25.7 479.06,28.75 476.01,25.7" fill="#fff"/>
<polygon points="479.06,23.95 480.81,25.7 479.06,27.45 477.31,25.7" fill="#d95f02"/>
<rect x="489.31" y="23.3" width="4.8" height="4.8" fill="#fff"/>
<rect x="490.41" y="24.4" width="2.6" height="2.6" fill="#7570b3"/>
<polygon points="494.76,23.9 492.91,27.3 496.61,27.3" fill="#fff" stroke="#fff" stroke-width="2.4" stroke-linejoin="miter"/>
<polygon points="494.76,23.9 492.91,27.3 496.61,27.3" fill="#e7298a"/>
<rect x="454.06" y="30.03" width="39.13" height="4" fill="#f08c8d"/>
<polygon points="454.06,28.98 457.11,32.03 454.06,35.08 451.01,32.03" fill="#fff"/>
<polygon points="454.06,30.28 455.81,32.03 454.06,33.78 452.31,32.03" fill="#d95f02"/>
<circle cx="462.11" cy="32.03" r="2.6" fill="#fff"/>
<circle cx="462.11" cy="32.03" r="1.5" fill="#1b9e77"/>
<rect x="484.16" y="29.63" width="4.8" height="4.8" fill="#fff"/>
<rect x="485.26" y="30.73" width="2.6" height="2.6" fill="#7570b3"/>
<polygon points="493.2,30.23 491.35,33.63 495.05,33.63" fill="#fff" stroke="#fff" stroke-width="2.4" stroke-linejoin="miter"/>
<polygon points="493.2,30.23 491.35,33.63 495.05,33.63" fill="#e7298a"/>
<rect x="449.3" y="36.36" width="43.27" height="4" fill="#f08c8d"/>
<polygon points="449.3,35.31 452.35,38.36 449.3,41.41 446.25,38.36" fill="#fff"/>
<polygon points="449.3,36.61 451.05,38.36 449.3,40.11 447.55,38.36" fill="#d95f02"/>
<circle cx="457.5" cy="38.36" r="2.6" fill="#fff"/>
<circle cx="457.5" cy="38.36" r="1.5" fill="#1b9e77"/>
<rect x="483.38" y="35.96" width="4.8" height="4.8" fill="#fff"/>
<rect x="484.48" y="37.06" width="2.6" height="2.6" fill="#7570b3"/>
<polygon points="492.57,36.56 490.72,39.96 494.42,39.96" fill="#fff" stroke="#fff" stroke-width="2.4" stroke-linejoin="miter"/>
<polygon points="492.57,36.56 490.72,39.96 494.42,39.96" fill="#e7298a"/>
<rect x="457.03" y="42.69" width="35.93" height="4" fill="#f08c8d"/>
<polygon points="457.03,41.64 460.08,44.69 457.03,47.74 453.98,44.69" fill="#fff"/>
<polygon points="457.03,42.94 458.78,44.69 457.03,46.44 455.28,44.69" fill="#d95f02"/>
<circle cx="465.16" cy="44.69" r="2.6" fill="#fff"/>
<circle cx="465.16" cy="44.69" r="1.5" fill="#1b9e77"/>
<rect x="486.74" y="42.29" width="4.8" height="4.8" fill="#fff"/>
<rect x="487.84" y="43.39" width="2.6" height="2.6" fill="#7570b3"/>
<polygon points="492.96,42.89 491.11,46.29 494.81,46.29" fill="#fff" stroke="#fff" stroke-width="2.4" stroke-linejoin="miter"/>
<polygon points="492.96,42.89 491.11,46.29 494.81,46.29" fill="#e7298a"/>
<rect x="457.89" y="49.02" width="33.82" height="4" fill="#f08c8d"/>
<circle cx="457.89" cy="51.02" r="2.6" fill="#fff"/>
<circle cx="457.89" cy="51.02" r="1.5" fill="#1b9e77"/>
<polygon points="460.86,47.97 463.91,51.02 460.86,54.07 457.81,51.02" fill="#fff"/>
<polygon points="460.86,49.27 462.61,51.02 460.86,52.77 459.11,51.02" fill="#d95f02"/>
<rect x="486.34" y="48.62" width="4.8" height="4.8" fill="#fff"/>
<rect x="487.44" y="49.72" width="2.6" height="2.6" fill="#7570b3"/>
<polygon points="491.71,49.22 489.86,52.62 493.56,52.62" fill="#fff" stroke="#fff" stroke-width="2.4" stroke-linejoin="miter"/>
<polygon points="491.71,49.22 489.86,52.62 493.56,52.62" fill="#e7298a"/>
<rect x="482.96" y="55.35" width="6.4" height="4" fill="#f08c8d"/>
<circle cx="482.96" cy="57.35" r="2.6" fill="#fff"/>
<circle cx="482.96" cy="57.35" r="1.5" fill="#1b9e77"/>
<polygon points="489.37,55.55 487.52,58.95 491.22,58.95" fill="#fff" stroke="#fff" stroke-width="2.4" stroke-linejoin="miter"/>
<polygon points="489.37,55.55 487.52,58.95 491.22,58.95" fill="#e7298a"/>
<rect x="484.84" y="61.68" width="9.69" height="4" fill="#f08c8d"/>
<circle cx="484.84" cy="63.68" r="2.6" fill="#fff"/>
<circle cx="484.84" cy="63.68" r="1.5" fill="#1b9e77"/>
<polygon points="494.52,61.88 492.67,65.28 496.37,65.28" fill="#fff" stroke="#fff" stroke-width="2.4" stroke-linejoin="miter"/>
<polygon points="494.52,61.88 492.67,65.28 496.37,65.28" fill="#e7298a"/>
<rect x="458.13" y="68.01" width="31.24" height="4" fill="#f08c8d"/>
<polygon points="458.13,66.96 461.18,70.01 458.13,73.06 455.08,70.01" fill="#fff"/>
<polygon points="458.13,68.26 459.88,70.01 458.13,71.76 456.38,70.01" fill="#d95f02"/>
<circle cx="472.03" cy="70.01" r="2.6" fill="#fff"/>
<circle cx="472.03" cy="70.01" r="1.5" fill="#1b9e77"/>
<polygon points="489.37,68.21 487.52,71.61 491.22,71.61" fill="#fff" stroke="#fff" stroke-width="2.4" stroke-linejoin="miter"/>
<polygon points="489.37,68.21 487.52,71.61 491.22,71.61" fill="#e7298a"/>
<rect x="446.33" y="74.34" width="29.84" height="4" fill="#f08c8d"/>
<polygon points="446.33,74.54 444.48,77.94 448.18,77.94" fill="#fff" stroke="#fff" stroke-width="2.4" stroke-linejoin="miter"/>
<polygon points="446.33,74.54 444.48,77.94 448.18,77.94" fill="#e7298a"/>
<polygon points="458.83,73.29 461.88,76.34 458.83,79.39 455.78,76.34" fill="#fff"/>
<polygon points="458.83,74.59 460.58,76.34 458.83,78.09 457.08,76.34" fill="#d95f02"/>
<circle cx="469.45" cy="76.34" r="2.6" fill="#fff"/>
<circle cx="469.45" cy="76.34" r="1.5" fill="#1b9e77"/>
<rect x="473.77" y="73.94" width="4.8" height="4.8" fill="#fff"/>
<rect x="474.87" y="75.04" width="2.6" height="2.6" fill="#7570b3"/>
<rect x="481.64" y="80.67" width="12.26" height="4" fill="#f08c8d"/>
<polygon points="481.64,79.62 484.69,82.67 481.64,85.72 478.59,82.67" fill="#fff"/>
<polygon points="481.64,80.92 483.39,82.67 481.64,84.42 479.89,82.67" fill="#d95f02"/>
<polygon points="493.9,80.87 492.05,84.27 495.75,84.27" fill="#fff" stroke="#fff" stroke-width="2.4" stroke-linejoin="miter"/>
<polygon points="493.9,80.87 492.05,84.27 495.75,84.27" fill="#e7298a"/>
<rect x="421.87" y="21.6" width="85.5" height="64.65" fill="none" stroke="#999" stroke-width="0.9"/>
<rect x="509.75" y="6.8" width="86.4" height="14.8" fill="#000"/>
<text x="552.95" y="16.5" font-size="8.1" fill="#fff" text-anchor="middle" textLength="15.5" lengthAdjust="spacingAndGlyphs">iLISI</text>
<line x1="513.85" y1="21.6" x2="513.85" y2="86.7" stroke="#ebebeb" stroke-width="0.6"/>
<line x1="523.65" y1="21.6" x2="523.65" y2="86.7" stroke="#f4f4f4" stroke-width="0.6"/>
<line x1="533.45" y1="21.6" x2="533.45" y2="86.7" stroke="#ebebeb" stroke-width="0.6"/>
<line x1="543.25" y1="21.6" x2="543.25" y2="86.7" stroke="#f4f4f4" stroke-width="0.6"/>
<line x1="553.05" y1="21.6" x2="553.05" y2="86.7" stroke="#ebebeb" stroke-width="0.6"/>
<line x1="562.85" y1="21.6" x2="562.85" y2="86.7" stroke="#f4f4f4" stroke-width="0.6"/>
<line x1="572.65" y1="21.6" x2="572.65" y2="86.7" stroke="#ebebeb" stroke-width="0.6"/>
<line x1="582.45" y1="21.6" x2="582.45" y2="86.7" stroke="#f4f4f4" stroke-width="0.6"/>
<line x1="592.25" y1="21.6" x2="592.25" y2="86.7" stroke="#ebebeb" stroke-width="0.6"/>
<line x1="509.75" y1="25.7" x2="596.15" y2="25.7" stroke="#ebebeb" stroke-width="0.6"/>
<line x1="509.75" y1="32.03" x2="596.15" y2="32.03" stroke="#ebebeb" stroke-width="0.6"/>
<line x1="509.75" y1="38.36" x2="596.15" y2="38.36" stroke="#ebebeb" stroke-width="0.6"/>
<line x1="509.75" y1="44.69" x2="596.15" y2="44.69" stroke="#ebebeb" stroke-width="0.6"/>
<line x1="509.75" y1="51.02" x2="596.15" y2="51.02" stroke="#ebebeb" stroke-width="0.6"/>
<line x1="509.75" y1="57.35" x2="596.15" y2="57.35" stroke="#ebebeb" stroke-width="0.6"/>
<line x1="509.75" y1="63.68" x2="596.15" y2="63.68" stroke="#ebebeb" stroke-width="0.6"/>
<line x1="509.75" y1="70.01" x2="596.15" y2="70.01" stroke="#ebebeb" stroke-width="0.6"/>
<line x1="509.75" y1="76.34" x2="596.15" y2="76.34" stroke="#ebebeb" stroke-width="0.6"/>
<line x1="509.75" y1="82.67" x2="596.15" y2="82.67" stroke="#ebebeb" stroke-width="0.6"/>
<rect x="542.46" y="23.7" width="9.84" height="4" fill="#f08c8d"/>
<circle cx="542.46" cy="25.7" r="2.6" fill="#fff"/>
<circle cx="542.46" cy="25.7" r="1.5" fill="#1b9e77"/>
<polygon points="545.67,22.65 548.72,25.7 545.67,28.75 542.62,25.7" fill="#fff"/>
<polygon points="545.67,23.95 547.42,25.7 545.67,27.45 543.92,25.7" fill="#d95f02"/>
<rect x="546.47" y="23.3" width="4.8" height="4.8" fill="#fff"/>
<rect x="547.57" y="24.4" width="2.6" height="2.6" fill="#7570b3"/>
<polygon points="552.3,23.9 550.45,27.3 554.15,27.3" fill="#fff" stroke="#fff" stroke-width="2.4" stroke-linejoin="miter"/>
<polygon points="552.3,23.9 550.45,27.3 554.15,27.3" fill="#e7298a"/>
<rect x="520.59" y="30.03" width="16.95" height="4" fill="#f08c8d"/>
<circle cx="520.59" cy="32.03" r="2.6" fill="#fff"/>
<circle cx="520.59" cy="32.03" r="1.5" fill="#1b9e77"/>
<rect x="528.74" y="29.63" width="4.8" height="4.8" fill="#fff"/>
<rect x="529.84" y="30.73" width="2.6" height="2.6" fill="#7570b3"/>
<polygon points="537.54,30.23 535.69,33.63 539.39,33.63" fill="#fff" stroke="#fff" stroke-width="2.4" stroke-linejoin="miter"/>
<polygon points="537.54,30.23 535.69,33.63 539.39,33.63" fill="#e7298a"/>
<rect x="521.22" y="36.36" width="22.1" height="4" fill="#f08c8d"/>
<circle cx="521.22" cy="38.36" r="2.6" fill="#fff"/>
<circle cx="521.22" cy="38.36" r="1.5" fill="#1b9e77"/>
<rect x="535.14" y="35.96" width="4.8" height="4.8" fill="#fff"/>
<rect x="536.24" y="37.06" width="2.6" height="2.6" fill="#7570b3"/>
<polygon points="543.32,36.56 541.47,39.96 545.17,39.96" fill="#fff" stroke="#fff" stroke-width="2.4" stroke-linejoin="miter"/>
<polygon points="543.32,36.56 541.47,39.96 545.17,39.96" fill="#e7298a"/>
<rect x="522.16" y="42.69" width="20.78" height="4" fill="#f08c8d"/>
<polygon points="522.16,41.64 525.21,44.69 522.16,47.74 519.11,44.69" fill="#fff"/>
<polygon points="522.16,42.94 523.91,44.69 522.16,46.44 520.41,44.69" fill="#d95f02"/>
<circle cx="525.36" cy="44.69" r="2.6" fill="#fff"/>
<circle cx="525.36" cy="44.69" r="1.5" fill="#1b9e77"/>
<rect x="536.47" y="42.29" width="4.8" height="4.8" fill="#fff"/>
<rect x="537.57" y="43.39" width="2.6" height="2.6" fill="#7570b3"/>
<polygon points="542.93,42.89 541.08,46.29 544.78,46.29" fill="#fff" stroke="#fff" stroke-width="2.4" stroke-linejoin="miter"/>
<polygon points="542.93,42.89 541.08,46.29 544.78,46.29" fill="#e7298a"/>
<rect x="525.98" y="49.02" width="17.73" height="4" fill="#f08c8d"/>
<circle cx="525.98" cy="51.02" r="2.6" fill="#fff"/>
<circle cx="525.98" cy="51.02" r="1.5" fill="#1b9e77"/>
<polygon points="528.56,47.97 531.61,51.02 528.56,54.07 525.51,51.02" fill="#fff"/>
<polygon points="528.56,49.27 530.31,51.02 528.56,52.77 526.81,51.02" fill="#d95f02"/>
<rect x="538.34" y="48.62" width="4.8" height="4.8" fill="#fff"/>
<rect x="539.44" y="49.72" width="2.6" height="2.6" fill="#7570b3"/>
<polygon points="543.71,49.22 541.86,52.62 545.56,52.62" fill="#fff" stroke="#fff" stroke-width="2.4" stroke-linejoin="miter"/>
<polygon points="543.71,49.22 541.86,52.62 545.56,52.62" fill="#e7298a"/>
<rect x="542.7" y="55.35" width="7.42" height="4" fill="#f08c8d"/>
<circle cx="542.7" cy="57.35" r="2.6" fill="#fff"/>
<circle cx="542.7" cy="57.35" r="1.5" fill="#1b9e77"/>
<polygon points="546.29,55.55 544.44,58.95 548.14,58.95" fill="#fff" stroke="#fff" stroke-width="2.4" stroke-linejoin="miter"/>
<polygon points="546.29,55.55 544.44,58.95 548.14,58.95" fill="#e7298a"/>
<rect x="547.72" y="54.95" width="4.8" height="4.8" fill="#fff"/>
<rect x="548.82" y="56.05" width="2.6" height="2.6" fill="#7570b3"/>
<rect x="526.61" y="61.68" width="10.7" height="4" fill="#f08c8d"/>
<circle cx="526.61" cy="63.68" r="2.6" fill="#fff"/>
<circle cx="526.61" cy="63.68" r="1.5" fill="#1b9e77"/>
<rect x="531.32" y="61.28" width="4.8" height="4.8" fill="#fff"/>
<rect x="532.42" y="62.38" width="2.6" height="2.6" fill="#7570b3"/>
<polygon points="537.31,61.88 535.46,65.28 539.16,65.28" fill="#fff" stroke="#fff" stroke-width="2.4" stroke-linejoin="miter"/>
<polygon points="537.31,61.88 535.46,65.28 539.16,65.28" fill="#e7298a"/>
<rect x="516.77" y="68.01" width="3.83" height="4" fill="#f08c8d"/>
<circle cx="516.77" cy="70.01" r="2.6" fill="#fff"/>
<circle cx="516.77" cy="70.01" r="1.5" fill="#1b9e77"/>
<polygon points="520.59,68.21 518.74,71.61 522.44,71.61" fill="#fff" stroke="#fff" stroke-width="2.4" stroke-linejoin="miter"/>
<polygon points="520.59,68.21 518.74,71.61 522.44,71.61" fill="#e7298a"/>
<rect x="539.5" y="74.34" width="13.2" height="4" fill="#f08c8d"/>
<polygon points="539.5,74.54 537.65,77.94 541.35,77.94" fill="#fff" stroke="#fff" stroke-width="2.4" stroke-linejoin="miter"/>
<polygon points="539.5,74.54 537.65,77.94 541.35,77.94" fill="#e7298a"/>
<polygon points="545.28,73.29 548.33,76.34 545.28,79.39 542.23,76.34" fill="#fff"/>
<polygon points="545.28,74.59 547.03,76.34 545.28,78.09 543.53,76.34" fill="#d95f02"/>
<circle cx="548.87" cy="76.34" r="2.6" fill="#fff"/>
<circle cx="548.87" cy="76.34" r="1.5" fill="#1b9e77"/>
<rect x="550.3" y="73.94" width="4.8" height="4.8" fill="#fff"/>
<rect x="551.4" y="75.04" width="2.6" height="2.6" fill="#7570b3"/>
<rect x="545.9" y="80.67" width="3.44" height="4" fill="#f08c8d"/>
<polygon points="545.9,79.62 548.95,82.67 545.9,85.72 542.85,82.67" fill="#fff"/>
<polygon points="545.9,80.92 547.65,82.67 545.9,84.42 544.15,82.67" fill="#d95f02"/>
<polygon points="549.34,80.87 547.49,84.27 551.19,84.27" fill="#fff" stroke="#fff" stroke-width="2.4" stroke-linejoin="miter"/>
<polygon points="549.34,80.87 547.49,84.27 551.19,84.27" fill="#e7298a"/>
<rect x="510.2" y="21.6" width="85.5" height="64.65" fill="none" stroke="#999" stroke-width="0.9"/>
<rect x="598.08" y="6.8" width="86.4" height="14.8" fill="#000"/>
<text x="641.28" y="16.5" font-size="8.1" fill="#fff" text-anchor="middle" textLength="70.4" lengthAdjust="spacingAndGlyphs">Graph connectivity</text>
<line x1="602.18" y1="21.6" x2="602.18" y2="86.7" stroke="#ebebeb" stroke-width="0.6"/>
<line x1="611.98" y1="21.6" x2="611.98" y2="86.7" stroke="#f4f4f4" stroke-width="0.6"/>
<line x1="621.78" y1="21.6" x2="621.78" y2="86.7" stroke="#ebebeb" stroke-width="0.6"/>
<line x1="631.58" y1="21.6" x2="631.58" y2="86.7" stroke="#f4f4f4" stroke-width="0.6"/>
<line x1="641.38" y1="21.6" x2="641.38" y2="86.7" stroke="#ebebeb" stroke-width="0.6"/>
<line x1="651.18" y1="21.6" x2="651.18" y2="86.7" stroke="#f4f4f4" stroke-width="0.6"/>
<line x1="660.98" y1="21.6" x2="660.98" y2="86.7" stroke="#ebebeb" stroke-width="0.6"/>
<line x1="670.78" y1="21.6" x2="670.78" y2="86.7" stroke="#f4f4f4" stroke-width="0.6"/>
<line x1="680.58" y1="21.6" x2="680.58" y2="86.7" stroke="#ebebeb" stroke-width="0.6"/>
<line x1="598.08" y1="25.7" x2="684.48" y2="25.7" stroke="#ebebeb" stroke-width="0.6"/>
<line x1="598.08" y1="32.03" x2="684.48" y2="32.03" stroke="#ebebeb" stroke-width="0.6"/>
<line x1="598.08" y1="38.36" x2="684.48" y2="38.36" stroke="#ebebeb" stroke-width="0.6"/>
<line x1="598.08" y1="44.69" x2="684.48" y2="44.69" stroke="#ebebeb" stroke-width="0.6"/>
<line x1="598.08" y1="51.02" x2="684.48" y2="51.02" stroke="#ebebeb" stroke-width="0.6"/>
<line x1="598.08" y1="57.35" x2="684.48" y2="57.35" stroke="#ebebeb" stroke-width="0.6"/>
<line x1="598.08" y1="63.68" x2="684.48" y2="63.68" stroke="#ebebeb" stroke-width="0.6"/>
<line x1="598.08" y1="70.01" x2="684.48" y2="70.01" stroke="#ebebeb" stroke-width="0.6"/>
<line x1="598.08" y1="76.34" x2="684.48" y2="76.34" stroke="#ebebeb" stroke-width="0.6"/>
<line x1="598.08" y1="82.67" x2="684.48" y2="82.67" stroke="#ebebeb" stroke-width="0.6"/>
<rect x="655.45" y="23.7" width="23.74" height="4" fill="#99bbda"/>
<polygon points="655.45,23.9 653.6,27.3 657.3,27.3" fill="#fff" stroke="#fff" stroke-width="2.4" stroke-linejoin="miter"/>
<polygon points="655.45,23.9 653.6,27.3 657.3,27.3" fill="#e7298a"/>
<rect x="670.13" y="23.3" width="4.8" height="4.8" fill="#fff"/>
<rect x="671.23" y="24.4" width="2.6" height="2.6" fill="#7570b3"/>
<circle cx="679.19" cy="25.7" r="2.6" fill="#fff"/>
<circle cx="679.19" cy="25.7" r="1.5" fill="#1b9e77"/>
<rect x="625.04" y="30.03" width="54.46" height="4" fill="#99bbda"/>
<polygon points="625.04,30.23 623.19,33.63 626.89,33.63" fill="#fff" stroke="#fff" stroke-width="2.4" stroke-linejoin="miter"/>
<polygon points="625.04,30.23 623.19,33.63 626.89,33.63" fill="#e7298a"/>
<rect x="653.99" y="29.63" width="4.8" height="4.8" fill="#fff"/>
<rect x="655.09" y="30.73" width="2.6" height="2.6" fill="#7570b3"/>
<circle cx="679.51" cy="32.03" r="2.6" fill="#fff"/>
<circle cx="679.51" cy="32.03" r="1.5" fill="#1b9e77"/>
<rect x="631.94" y="36.36" width="47.57" height="4" fill="#99bbda"/>
<polygon points="631.94,36.56 630.09,39.96 633.79,39.96" fill="#fff" stroke="#fff" stroke-width="2.4" stroke-linejoin="miter"/>
<polygon points="631.94,36.56 630.09,39.96 633.79,39.96" fill="#e7298a"/>
<rect x="657.28" y="35.96" width="4.8" height="4.8" fill="#fff"/>
<rect x="658.38" y="37.06" width="2.6" height="2.6" fill="#7570b3"/>
<circle cx="679.51" cy="38.36" r="2.6" fill="#fff"/>
<circle cx="679.51" cy="38.36" r="1.5" fill="#1b9e77"/>
<rect x="645.81" y="42.69" width="33.7" height="4" fill="#99bbda"/>
<polygon points="645.81,42.89 643.96,46.29 647.66,46.29" fill="#fff" stroke="#fff" stroke-width="2.4" stroke-linejoin="miter"/>
<polygon points="645.81,42.89 643.96,46.29 647.66,46.29" fill="#e7298a"/>
<rect x="657.28" y="42.29" width="4.8" height="4.8" fill="#fff"/>
<rect x="658.38" y="43.39" width="2.6" height="2.6" fill="#7570b3"/>
<circle cx="679.51" cy="44.69" r="2.6" fill="#fff"/>
<circle cx="679.51" cy="44.69" r="1.5" fill="#1b9e77"/>
<rect x="658.43" y="49.02" width="20.77" height="4" fill="#99bbda"/>
<polygon points="658.43,49.22 656.58,52.62 660.28,52.62" fill="#fff" stroke="#fff" stroke-width="2.4" stroke-linejoin="miter"/>
<polygon points="658.43,49.22 656.58,52.62 660.28,52.62" fill="#e7298a"/>
<rect x="664.65" y="48.62" width="4.8" height="4.8" fill="#fff"/>
<rect x="665.75" y="49.72" width="2.6" height="2.6" fill="#7570b3"/>
<circle cx="679.19" cy="51.02" r="2.6" fill="#fff"/>
<circle cx="679.19" cy="51.02" r="1.5" fill="#1b9e77"/>
<rect x="654.19" y="55.35" width="18.89" height="4" fill="#99bbda"/>
<rect x="651.79" y="54.95" width="4.8" height="4.8" fill="#fff"/>
<rect x="652.89" y="56.05" width="2.6" height="2.6" fill="#7570b3"/>
<polygon points="658.43,55.55 656.58,58.95 660.28,58.95" fill="#fff" stroke="#fff" stroke-width="2.4" stroke-linejoin="miter"/>
<polygon points="658.43,55.55 656.58,58.95 660.28,58.95" fill="#e7298a"/>
<polygon points="670.26,54.3 673.31,57.35 670.26,60.4 667.21,57.35" fill="#fff"/>
<polygon points="670.26,55.6 672.01,57.35 670.26,59.1 668.51,57.35" fill="#d95f02"/>
<circle cx="673.08" cy="57.35" r="2.6" fill="#fff"/>
<circle cx="673.08" cy="57.35" r="1.5" fill="#1b9e77"/>
<rect x="639.62" y="61.68" width="37.3" height="4" fill="#99bbda"/>
<polygon points="639.62,61.88 637.77,65.28 641.47,65.28" fill="#fff" stroke="#fff" stroke-width="2.4" stroke-linejoin="miter"/>
<polygon points="639.62,61.88 637.77,65.28 641.47,65.28" fill="#e7298a"/>
<rect x="654.69" y="61.28" width="4.8" height="4.8" fill="#fff"/>
<rect x="655.79" y="62.38" width="2.6" height="2.6" fill="#7570b3"/>
<circle cx="676.92" cy="63.68" r="2.6" fill="#fff"/>
<circle cx="676.92" cy="63.68" r="1.5" fill="#1b9e77"/>
<rect x="643.93" y="68.01" width="26.96" height="4" fill="#99bbda"/>
<polygon points="643.93,68.21 642.08,71.61 645.78,71.61" fill="#fff" stroke="#fff" stroke-width="2.4" stroke-linejoin="miter"/>
<polygon points="643.93,68.21 642.08,71.61 645.78,71.61" fill="#e7298a"/>
<rect x="647.25" y="67.61" width="4.8" height="4.8" fill="#fff"/>
<rect x="648.35" y="68.71" width="2.6" height="2.6" fill="#7570b3"/>
<circle cx="670.89" cy="70.01" r="2.6" fill="#fff"/>
<circle cx="670.89" cy="70.01" r="1.5" fill="#1b9e77"/>
<rect x="662.5" y="74.34" width="16.69" height="4" fill="#99bbda"/>
<polygon points="662.5,74.54 660.65,77.94 664.35,77.94" fill="#fff" stroke="#fff" stroke-width="2.4" stroke-linejoin="miter"/>
<polygon points="662.5,74.54 660.65,77.94 664.35,77.94" fill="#e7298a"/>
<polygon points="676.37,73.29 679.42,76.34 676.37,79.39 673.32,76.34" fill="#fff"/>
<polygon points="676.37,74.59 678.12,76.34 676.37,78.09 674.62,76.34" fill="#d95f02"/>
<circle cx="679.19" cy="76.34" r="2.6" fill="#fff"/>
<circle cx="679.19" cy="76.34" r="1.5" fill="#1b9e77"/>
<rect x="666.34" y="80.67" width="14.42" height="4" fill="#99bbda"/>
<polygon points="666.34,80.87 664.49,84.27 668.19,84.27" fill="#fff" stroke="#fff" stroke-width="2.4" stroke-linejoin="miter"/>
<polygon points="666.34,80.87 664.49,84.27 668.19,84.27" fill="#e7298a"/>
<circle cx="680.76" cy="82.67" r="2.6" fill="#fff"/>
<circle cx="680.76" cy="82.67" r="1.5" fill="#1b9e77"/>
<rect x="598.53" y="21.6" width="85.5" height="64.65" fill="none" stroke="#999" stroke-width="0.9"/>
<rect x="68.1" y="88.6" width="86.4" height="14.8" fill="#000"/>
<text x="111.3" y="98.3" font-size="8.1" fill="#fff" text-anchor="middle" textLength="69.5" lengthAdjust="spacingAndGlyphs">Isolated label ASW</text>
<line x1="72.2" y1="103.4" x2="72.2" y2="168.5" stroke="#ebebeb" stroke-width="0.6"/>
<line x1="82" y1="103.4" x2="82" y2="168.5" stroke="#f4f4f4" stroke-width="0.6"/>
<line x1="91.8" y1="103.4" x2="91.8" y2="168.5" stroke="#ebebeb" stroke-width="0.6"/>
<line x1="101.6" y1="103.4" x2="101.6" y2="168.5" stroke="#f4f4f4" stroke-width="0.6"/>
<line x1="111.4" y1="103.4" x2="111.4" y2="168.5" stroke="#ebebeb" stroke-width="0.6"/>
<line x1="121.2" y1="103.4" x2="121.2" y2="168.5" stroke="#f4f4f4" stroke-width="0.6"/>
<line x1="131" y1="103.4" x2="131" y2="168.5" stroke="#ebebeb" stroke-width="0.6"/>
<line x1="140.8" y1="103.4" x2="140.8" y2="168.5" stroke="#f4f4f4" stroke-width="0.6"/>
<line x1="150.6" y1="103.4" x2="150.6" y2="168.5" stroke="#ebebeb" stroke-width="0.6"/>
<line x1="68.1" y1="107.5" x2="154.5" y2="107.5" stroke="#ebebeb" stroke-width="0.6"/>
<line x1="68.1" y1="113.83" x2="154.5" y2="113.83" stroke="#ebebeb" stroke-width="0.6"/>
<line x1="68.1" y1="120.16" x2="154.5" y2="120.16" stroke="#ebebeb" stroke-width="0.6"/>
<line x1="68.1" y1="126.49" x2="154.5" y2="126.49" stroke="#ebebeb" stroke-width="0.6"/>
<line x1="68.1" y1="132.82" x2="154.5" y2="132.82" stroke="#ebebeb" stroke-width="0.6"/>
<line x1="68.1" y1="139.15" x2="154.5" y2="139.15" stroke="#ebebeb" stroke-width="0.6"/>
<line x1="68.1" y1="145.48" x2="154.5" y2="145.48" stroke="#ebebeb" stroke-width="0.6"/>
<line x1="68.1" y1="151.81" x2="154.5" y2="151.81" stroke="#ebebeb" stroke-width="0.6"/>
<line x1="68.1" y1="158.14" x2="154.5" y2="158.14" stroke="#ebebeb" stroke-width="0.6"/>
<line x1="68.1" y1="164.47" x2="154.5" y2="164.47" stroke="#ebebeb" stroke-width="0.6"/>
<rect x="109.08" y="105.5" width="16.09" height="4" fill="#99bbda"/>
<polygon points="109.08,105.7 107.23,109.1 110.93,109.1" fill="#fff" stroke="#fff" stroke-width="2.4" stroke-linejoin="miter"/>
<polygon points="109.08,105.7 107.23,109.1 110.93,109.1" fill="#e7298a"/>
<rect x="110.58" y="105.1" width="4.8" height="4.8" fill="#fff"/>
<rect x="111.68" y="106.2" width="2.6" height="2.6" fill="#7570b3"/>
<polygon points="121.34,104.45 124.39,107.5 121.34,110.55 118.29,107.5" fill="#fff"/>
<polygon points="121.34,105.75 123.09,107.5 121.34,109.25 119.59,107.5" fill="#d95f02"/>
<circle cx="125.17" cy="107.5" r="2.6" fill="#fff"/>
<circle cx="125.17" cy="107.5" r="1.5" fill="#1b9e77"/>
<rect x="107.83" y="111.83" width="11.56" height="4" fill="#99bbda"/>
<polygon points="107.83,112.03 105.98,115.43 109.68,115.43" fill="#fff" stroke="#fff" stroke-width="2.4" stroke-linejoin="miter"/>
<polygon points="107.83,112.03 105.98,115.43 109.68,115.43" fill="#e7298a"/>
<rect x="108.63" y="111.43" width="4.8" height="4.8" fill="#fff"/>
<rect x="109.73" y="112.53" width="2.6" height="2.6" fill="#7570b3"/>
<circle cx="119.39" cy="113.83" r="2.6" fill="#fff"/>
<circle cx="119.39" cy="113.83" r="1.5" fill="#1b9e77"/>
<rect x="109.78" y="118.16" width="14.76" height="4" fill="#99bbda"/>
<polygon points="109.78,118.36 107.93,121.76 111.63,121.76" fill="#fff" stroke="#fff" stroke-width="2.4" stroke-linejoin="miter"/>
<polygon points="109.78,118.36 107.93,121.76 111.63,121.76" fill="#e7298a"/>
<polygon points="118.14,117.11 121.19,120.16 118.14,123.21 115.09,120.16" fill="#fff"/>
<polygon points="118.14,118.41 119.89,120.16 118.14,121.91 116.39,120.16" fill="#d95f02"/>
<circle cx="124.54" cy="120.16" r="2.6" fill="#fff"/>
<circle cx="124.54" cy="120.16" r="1.5" fill="#1b9e77"/>
<rect x="105.88" y="124.49" width="16.72" height="4" fill="#99bbda"/>
<polygon points="105.88,124.69 104.03,128.09 107.73,128.09" fill="#fff" stroke="#fff" stroke-width="2.4" stroke-linejoin="miter"/>
<polygon points="105.88,124.69 104.03,128.09 107.73,128.09" fill="#e7298a"/>
<rect x="108.4" y="124.09" width="4.8" height="4.8" fill="#fff"/>
<rect x="109.5" y="125.19" width="2.6" height="2.6" fill="#7570b3"/>
<circle cx="122.59" cy="126.49" r="2.6" fill="#fff"/>
<circle cx="122.59" cy="126.49" r="1.5" fill="#1b9e77"/>
<rect x="109.78" y="130.82" width="15.39" height="4" fill="#99bbda"/>
<polygon points="109.78,131.02 107.93,134.42 111.63,134.42" fill="#fff" stroke="#fff" stroke-width="2.4" stroke-linejoin="miter"/>
<polygon points="109.78,131.02 107.93,134.42 111.63,134.42" fill="#e7298a"/>
<polygon points="119.39,129.77 122.44,132.82 119.39,135.87 116.34,132.82" fill="#fff"/>
<polygon points="119.39,131.07 121.14,132.82 119.39,134.57 117.64,132.82" fill="#d95f02"/>
<circle cx="125.17" cy="132.82" r="2.6" fill="#fff"/>
<circle cx="125.17" cy="132.82" r="1.5" fill="#1b9e77"/>
<rect x="116.81" y="137.15" width="3.2" height="4" fill="#99bbda"/>
<polygon points="116.81,137.35 114.96,140.75 118.66,140.75" fill="#fff" stroke="#fff" stroke-width="2.4" stroke-linejoin="miter"/>
<polygon points="116.81,137.35 114.96,140.75 118.66,140.75" fill="#e7298a"/>
<rect x="117.61" y="136.75" width="4.8" height="4.8" fill="#fff"/>
<rect x="118.71" y="137.85" width="2.6" height="2.6" fill="#7570b3"/>
<rect x="108.45" y="143.48" width="35.3" height="4" fill="#99bbda"/>
<polygon points="108.45,143.68 106.6,147.08 110.3,147.08" fill="#fff" stroke="#fff" stroke-width="2.4" stroke-linejoin="miter"/>
<polygon points="108.45,143.68 106.6,147.08 110.3,147.08" fill="#e7298a"/>
<rect x="113.55" y="143.08" width="4.8" height="4.8" fill="#fff"/>
<rect x="114.65" y="144.18" width="2.6" height="2.6" fill="#7570b3"/>
<circle cx="139.93" cy="145.48" r="2.6" fill="#fff"/>
<circle cx="139.93" cy="145.48" r="1.5" fill="#1b9e77"/>
<polygon points="143.76,142.43 146.81,145.48 143.76,148.53 140.71,145.48" fill="#fff"/>
<polygon points="143.76,143.73 145.51,145.48 143.76,147.23 142.01,145.48" fill="#d95f02"/>
<rect x="104.63" y="149.81" width="15.39" height="4" fill="#99bbda"/>
<polygon points="104.63,150.01 102.78,153.41 106.48,153.41" fill="#fff" stroke="#fff" stroke-width="2.4" stroke-linejoin="miter"/>
<polygon points="104.63,150.01 102.78,153.41 106.48,153.41" fill="#e7298a"/>
<rect x="110.58" y="149.41" width="4.8" height="4.8" fill="#fff"/>
<rect x="111.68" y="150.51" width="2.6" height="2.6" fill="#7570b3"/>
<circle cx="120.01" cy="151.81" r="2.6" fill="#fff"/>
<circle cx="120.01" cy="151.81" r="1.5" fill="#1b9e77"/>
<rect x="111.42" y="156.14" width="15.62" height="4" fill="#99bbda"/>
<polygon points="111.42,156.34 109.57,159.74 113.27,159.74" fill="#fff" stroke="#fff" stroke-width="2.4" stroke-linejoin="miter"/>
<polygon points="111.42,156.34 109.57,159.74 113.27,159.74" fill="#e7298a"/>
<polygon points="120.64,155.09 123.69,158.14 120.64,161.19 117.59,158.14" fill="#fff"/>
<polygon points="120.64,156.39 122.39,158.14 120.64,159.89 118.89,158.14" fill="#d95f02"/>
<circle cx="127.04" cy="158.14" r="2.6" fill="#fff"/>
<circle cx="127.04" cy="158.14" r="1.5" fill="#1b9e77"/>
<rect x="111.42" y="162.47" width="19.76" height="4" fill="#99bbda"/>
<polygon points="111.42,162.67 109.57,166.07 113.27,166.07" fill="#fff" stroke="#fff" stroke-width="2.4" stroke-linejoin="miter"/>
<polygon points="111.42,162.67 109.57,166.07 113.27,166.07" fill="#e7298a"/>
<rect x="116.05" y="162.07" width="4.8" height="4.8" fill="#fff"/>
<rect x="117.15" y="163.17" width="2.6" height="2.6" fill="#7570b3"/>
<circle cx="128.37" cy="164.47" r="2.6" fill="#fff"/>
<circle cx="128.37" cy="164.47" r="1.5" fill="#1b9e77"/>
<polygon points="131.18,161.42 134.23,164.47 131.18,167.52 128.13,164.47" fill="#fff"/>
<polygon points="131.18,162.72 132.93,164.47 131.18,166.22 129.43,164.47" fill="#d95f02"/>
<rect x="68.55" y="103.4" width="85.5" height="64.65" fill="none" stroke="#999" stroke-width="0.9"/>
<line x1="65.7" y1="107.5" x2="68.1" y2="107.5" stroke="#555" stroke-width="0.7"/>
<text x="62.1" y="109.7" font-size="7.6" fill="#1a1a1a" text-anchor="end">Fetal liver</text>
<line x1="65.7" y1="113.83" x2="68.1" y2="113.83" stroke="#555" stroke-width="0.7"/>
<text x="62.1" y="116.03" font-size="7.6" fill="#1a1a1a" text-anchor="end">HLCA</text>
<line x1="65.7" y1="120.16" x2="68.1" y2="120.16" stroke="#555" stroke-width="0.7"/>
<text x="62.1" y="122.36" font-size="7.6" fill="#1a1a1a" text-anchor="end">HLCA (Epithelial)</text>
<line x1="65.7" y1="126.49" x2="68.1" y2="126.49" stroke="#555" stroke-width="0.7"/>
<text x="62.1" y="128.69" font-size="7.6" fill="#1a1a1a" text-anchor="end">HLCA (immune)</text>
<line x1="65.7" y1="132.82" x2="68.1" y2="132.82" stroke="#555" stroke-width="0.7"/>
<text x="62.1" y="135.02" font-size="7.6" fill="#1a1a1a" text-anchor="end">Human endoderm</text>
<line x1="65.7" y1="139.15" x2="68.1" y2="139.15" stroke="#555" stroke-width="0.7"/>
<text x="62.1" y="141.35" font-size="7.6" fill="#1a1a1a" text-anchor="end">NeurIPS</text>
<line x1="65.7" y1="145.48" x2="68.1" y2="145.48" stroke="#555" stroke-width="0.7"/>
<text x="62.1" y="147.68" font-size="7.6" fill="#1a1a1a" text-anchor="end">Reed breast</text>
<line x1="65.7" y1="151.81" x2="68.1" y2="151.81" stroke="#555" stroke-width="0.7"/>
<text x="62.1" y="154.01" font-size="7.6" fill="#1a1a1a" text-anchor="end">scEiaD</text>
<line x1="65.7" y1="158.14" x2="68.1" y2="158.14" stroke="#555" stroke-width="0.7"/>
<text x="62.1" y="160.34" font-size="7.6" fill="#1a1a1a" text-anchor="end">scIB pancreas</text>
<line x1="65.7" y1="164.47" x2="68.1" y2="164.47" stroke="#555" stroke-width="0.7"/>
<text x="62.1" y="166.67" font-size="7.6" fill="#1a1a1a" text-anchor="end">Splat</text>
<rect x="156.43" y="88.6" width="86.4" height="14.8" fill="#000"/>
<text x="199.63" y="98.3" font-size="8.1" fill="#fff" text-anchor="middle" textLength="60.3" lengthAdjust="spacingAndGlyphs">Isolated label F1</text>
<line x1="160.53" y1="103.4" x2="160.53" y2="168.5" stroke="#ebebeb" stroke-width="0.6"/>
<line x1="170.33" y1="103.4" x2="170.33" y2="168.5" stroke="#f4f4f4" stroke-width="0.6"/>
<line x1="180.13" y1="103.4" x2="180.13" y2="168.5" stroke="#ebebeb" stroke-width="0.6"/>
<line x1="189.93" y1="103.4" x2="189.93" y2="168.5" stroke="#f4f4f4" stroke-width="0.6"/>
<line x1="199.73" y1="103.4" x2="199.73" y2="168.5" stroke="#ebebeb" stroke-width="0.6"/>
<line x1="209.53" y1="103.4" x2="209.53" y2="168.5" stroke="#f4f4f4" stroke-width="0.6"/>
<line x1="219.33" y1="103.4" x2="219.33" y2="168.5" stroke="#ebebeb" stroke-width="0.6"/>
<line x1="229.13" y1="103.4" x2="229.13" y2="168.5" stroke="#f4f4f4" stroke-width="0.6"/>
<line x1="238.93" y1="103.4" x2="238.93" y2="168.5" stroke="#ebebeb" stroke-width="0.6"/>
<line x1="156.43" y1="107.5" x2="242.83" y2="107.5" stroke="#ebebeb" stroke-width="0.6"/>
<line x1="156.43" y1="113.83" x2="242.83" y2="113.83" stroke="#ebebeb" stroke-width="0.6"/>
<line x1="156.43" y1="120.16" x2="242.83" y2="120.16" stroke="#ebebeb" stroke-width="0.6"/>
<line x1="156.43" y1="126.49" x2="242.83" y2="126.49" stroke="#ebebeb" stroke-width="0.6"/>
<line x1="156.43" y1="132.82" x2="242.83" y2="132.82" stroke="#ebebeb" stroke-width="0.6"/>
<line x1="156.43" y1="139.15" x2="242.83" y2="139.15" stroke="#ebebeb" stroke-width="0.6"/>
<line x1="156.43" y1="145.48" x2="242.83" y2="145.48" stroke="#ebebeb" stroke-width="0.6"/>
<line x1="156.43" y1="151.81" x2="242.83" y2="151.81" stroke="#ebebeb" stroke-width="0.6"/>
<line x1="156.43" y1="158.14" x2="242.83" y2="158.14" stroke="#ebebeb" stroke-width="0.6"/>
<line x1="156.43" y1="164.47" x2="242.83" y2="164.47" stroke="#ebebeb" stroke-width="0.6"/>
<rect x="161.43" y="105.5" width="5.47" height="4" fill="#99bbda"/>
<polygon points="161.43,105.7 159.58,109.1 163.28,109.1" fill="#fff" stroke="#fff" stroke-width="2.4" stroke-linejoin="miter"/>
<polygon points="161.43,105.7 159.58,109.1 163.28,109.1" fill="#e7298a"/>
<circle cx="166.9" cy="107.5" r="2.6" fill="#fff"/>
<circle cx="166.9" cy="107.5" r="1.5" fill="#1b9e77"/>
<rect x="160.88" y="111.83" width="24.06" height="4" fill="#99bbda"/>
<polygon points="160.88,112.03 159.03,115.43 162.73,115.43" fill="#fff" stroke="#fff" stroke-width="2.4" stroke-linejoin="miter"/>
<polygon points="160.88,112.03 159.03,115.43 162.73,115.43" fill="#e7298a"/>
<circle cx="184.94" cy="113.83" r="2.6" fill="#fff"/>
<circle cx="184.94" cy="113.83" r="1.5" fill="#1b9e77"/>
<rect x="161.12" y="118.16" width="28.28" height="4" fill="#99bbda"/>
<polygon points="161.12,118.36 159.27,121.76 162.97,121.76" fill="#fff" stroke="#fff" stroke-width="2.4" stroke-linejoin="miter"/>
<polygon points="161.12,118.36 159.27,121.76 162.97,121.76" fill="#e7298a"/>
<polygon points="182.36,117.11 185.41,120.16 182.36,123.21 179.31,120.16" fill="#fff"/>
<polygon points="182.36,118.41 184.11,120.16 182.36,121.91 180.61,120.16" fill="#d95f02"/>
<circle cx="189.39" cy="120.16" r="2.6" fill="#fff"/>
<circle cx="189.39" cy="120.16" r="1.5" fill="#1b9e77"/>
<rect x="160.88" y="124.49" width="21.87" height="4" fill="#99bbda"/>
<polygon points="160.88,124.69 159.03,128.09 162.73,128.09" fill="#fff" stroke="#fff" stroke-width="2.4" stroke-linejoin="miter"/>
<polygon points="160.88,124.69 159.03,128.09 162.73,128.09" fill="#e7298a"/>
<rect x="161.92" y="124.09" width="4.8" height="4.8" fill="#fff"/>
<rect x="163.02" y="125.19" width="2.6" height="2.6" fill="#7570b3"/>
<circle cx="182.75" cy="126.49" r="2.6" fill="#fff"/>
<circle cx="182.75" cy="126.49" r="1.5" fill="#1b9e77"/>
<rect x="169.24" y="130.82" width="66.16" height="4" fill="#99bbda"/>
<polygon points="169.24,131.02 167.39,134.42 171.09,134.42" fill="#fff" stroke="#fff" stroke-width="2.4" stroke-linejoin="miter"/>
<polygon points="169.24,131.02 167.39,134.42 171.09,134.42" fill="#e7298a"/>
<rect x="189.57" y="130.42" width="4.8" height="4.8" fill="#fff"/>
<rect x="190.67" y="131.52" width="2.6" height="2.6" fill="#7570b3"/>
<polygon points="229.46,129.77 232.51,132.82 229.46,135.87 226.41,132.82" fill="#fff"/>
<polygon points="229.46,131.07 231.21,132.82 229.46,134.57 227.71,132.82" fill="#d95f02"/>
<circle cx="235.4" cy="132.82" r="2.6" fill="#fff"/>
<circle cx="235.4" cy="132.82" r="1.5" fill="#1b9e77"/>
<rect x="162.44" y="137.15" width="19.21" height="4" fill="#99bbda"/>
<polygon points="162.44,137.35 160.59,140.75 164.29,140.75" fill="#fff" stroke="#fff" stroke-width="2.4" stroke-linejoin="miter"/>
<polygon points="162.44,137.35 160.59,140.75 164.29,140.75" fill="#e7298a"/>
<polygon points="177.21,136.1 180.26,139.15 177.21,142.2 174.16,139.15" fill="#fff"/>
<polygon points="177.21,137.4 178.96,139.15 177.21,140.9 175.46,139.15" fill="#d95f02"/>
<circle cx="181.66" cy="139.15" r="2.6" fill="#fff"/>
<circle cx="181.66" cy="139.15" r="1.5" fill="#1b9e77"/>
<rect x="161.43" y="143.48" width="75.22" height="4" fill="#99bbda"/>
<polygon points="161.43,143.68 159.58,147.08 163.28,147.08" fill="#fff" stroke="#fff" stroke-width="2.4" stroke-linejoin="miter"/>
<polygon points="161.43,143.68 159.58,147.08 163.28,147.08" fill="#e7298a"/>
<circle cx="236.65" cy="145.48" r="2.6" fill="#fff"/>
<circle cx="236.65" cy="145.48" r="1.5" fill="#1b9e77"/>
<polygon points="160.88,150.01 159.03,153.41 162.73,153.41" fill="#fff" stroke="#fff" stroke-width="2.4" stroke-linejoin="miter"/>
<polygon points="160.88,150.01 159.03,153.41 162.73,153.41" fill="#e7298a"/>
<rect x="189.63" y="156.14" width="39.6" height="4" fill="#99bbda"/>
<polygon points="189.63,156.34 187.78,159.74 191.48,159.74" fill="#fff" stroke="#fff" stroke-width="2.4" stroke-linejoin="miter"/>
<polygon points="189.63,156.34 187.78,159.74 191.48,159.74" fill="#e7298a"/>
<rect x="197.3" y="155.74" width="4.8" height="4.8" fill="#fff"/>
<rect x="198.4" y="156.84" width="2.6" height="2.6" fill="#7570b3"/>
<polygon points="214.78,155.09 217.83,158.14 214.78,161.19 211.73,158.14" fill="#fff"/>
<polygon points="214.78,156.39 216.53,158.14 214.78,159.89 213.03,158.14" fill="#d95f02"/>
<circle cx="229.23" cy="158.14" r="2.6" fill="#fff"/>
<circle cx="229.23" cy="158.14" r="1.5" fill="#1b9e77"/>
<rect x="187.44" y="162.47" width="51" height="4" fill="#99bbda"/>
<polygon points="187.44,162.67 185.59,166.07 189.29,166.07" fill="#fff" stroke="#fff" stroke-width="2.4" stroke-linejoin="miter"/>
<polygon points="187.44,162.67 185.59,166.07 189.29,166.07" fill="#e7298a"/>
<rect x="219.8" y="162.07" width="4.8" height="4.8" fill="#fff"/>
<rect x="220.9" y="163.17" width="2.6" height="2.6" fill="#7570b3"/>
<polygon points="235.63,161.42 238.68,164.47 235.63,167.52 232.58,164.47" fill="#fff"/>
<polygon points="235.63,162.72 237.38,164.47 235.63,166.22 233.88,164.47" fill="#d95f02"/>
<circle cx="238.44" cy="164.47" r="2.6" fill="#fff"/>
<circle cx="238.44" cy="164.47" r="1.5" fill="#1b9e77"/>
<rect x="156.88" y="103.4" width="85.5" height="64.65" fill="none" stroke="#999" stroke-width="0.9"/>
<rect x="244.76" y="88.6" width="86.4" height="14.8" fill="#000"/>
<text x="287.96" y="98.3" font-size="8.1" fill="#fff" text-anchor="middle" textLength="19.7" lengthAdjust="spacingAndGlyphs">bNMI</text>
<line x1="248.86" y1="103.4" x2="248.86" y2="168.5" stroke="#ebebeb" stroke-width="0.6"/>
<line x1="258.66" y1="103.4" x2="258.66" y2="168.5" stroke="#f4f4f4" stroke-width="0.6"/>
<line x1="268.46" y1="103.4" x2="268.46" y2="168.5" stroke="#ebebeb" stroke-width="0.6"/>
<line x1="278.26" y1="103.4" x2="278.26" y2="168.5" stroke="#f4f4f4" stroke-width="0.6"/>
<line x1="288.06" y1="103.4" x2="288.06" y2="168.5" stroke="#ebebeb" stroke-width="0.6"/>
<line x1="297.86" y1="103.4" x2="297.86" y2="168.5" stroke="#f4f4f4" stroke-width="0.6"/>
<line x1="307.66" y1="103.4" x2="307.66" y2="168.5" stroke="#ebebeb" stroke-width="0.6"/>
<line x1="317.46" y1="103.4" x2="317.46" y2="168.5" stroke="#f4f4f4" stroke-width="0.6"/>
<line x1="327.26" y1="103.4" x2="327.26" y2="168.5" stroke="#ebebeb" stroke-width="0.6"/>
<line x1="244.76" y1="107.5" x2="331.16" y2="107.5" stroke="#ebebeb" stroke-width="0.6"/>
<line x1="244.76" y1="113.83" x2="331.16" y2="113.83" stroke="#ebebeb" stroke-width="0.6"/>
<line x1="244.76" y1="120.16" x2="331.16" y2="120.16" stroke="#ebebeb" stroke-width="0.6"/>
<line x1="244.76" y1="126.49" x2="331.16" y2="126.49" stroke="#ebebeb" stroke-width="0.6"/>
<line x1="244.76" y1="132.82" x2="331.16" y2="132.82" stroke="#ebebeb" stroke-width="0.6"/>
<line x1="244.76" y1="139.15" x2="331.16" y2="139.15" stroke="#ebebeb" stroke-width="0.6"/>
<line x1="244.76" y1="145.48" x2="331.16" y2="145.48" stroke="#ebebeb" stroke-width="0.6"/>
<line x1="244.76" y1="151.81" x2="331.16" y2="151.81" stroke="#ebebeb" stroke-width="0.6"/>
<line x1="244.76" y1="158.14" x2="331.16" y2="158.14" stroke="#ebebeb" stroke-width="0.6"/>
<line x1="244.76" y1="164.47" x2="331.16" y2="164.47" stroke="#ebebeb" stroke-width="0.6"/>
<rect x="273.32" y="105.5" width="37.26" height="4" fill="#99bbda"/>
<polygon points="273.32,105.7 271.47,109.1 275.17,109.1" fill="#fff" stroke="#fff" stroke-width="2.4" stroke-linejoin="miter"/>
<polygon points="273.32,105.7 271.47,109.1 275.17,109.1" fill="#e7298a"/>
<rect x="295.84" y="105.1" width="4.8" height="4.8" fill="#fff"/>
<rect x="296.94" y="106.2" width="2.6" height="2.6" fill="#7570b3"/>
<circle cx="310.58" cy="107.5" r="2.6" fill="#fff"/>
<circle cx="310.58" cy="107.5" r="1.5" fill="#1b9e77"/>
<rect x="259.42" y="111.83" width="51.63" height="4" fill="#99bbda"/>
<polygon points="259.42,112.03 257.57,115.43 261.27,115.43" fill="#fff" stroke="#fff" stroke-width="2.4" stroke-linejoin="miter"/>
<polygon points="259.42,112.03 257.57,115.43 261.27,115.43" fill="#e7298a"/>
<rect x="279.2" y="111.43" width="4.8" height="4.8" fill="#fff"/>
<rect x="280.3" y="112.53" width="2.6" height="2.6" fill="#7570b3"/>
<polygon points="307.22,110.78 310.27,113.83 307.22,116.88 304.17,113.83" fill="#fff"/>
<polygon points="307.22,112.08 308.97,113.83 307.22,115.58 305.47,113.83" fill="#d95f02"/>
<circle cx="311.05" cy="113.83" r="2.6" fill="#fff"/>
<circle cx="311.05" cy="113.83" r="1.5" fill="#1b9e77"/>
<rect x="258.8" y="118.16" width="43.66" height="4" fill="#99bbda"/>
<polygon points="258.8,118.36 256.95,121.76 260.65,121.76" fill="#fff" stroke="#fff" stroke-width="2.4" stroke-linejoin="miter"/>
<polygon points="258.8,118.36 256.95,121.76 260.65,121.76" fill="#e7298a"/>
<rect x="273.74" y="117.76" width="4.8" height="4.8" fill="#fff"/>
<rect x="274.84" y="118.86" width="2.6" height="2.6" fill="#7570b3"/>
<polygon points="296.44,117.11 299.49,120.16 296.44,123.21 293.39,120.16" fill="#fff"/>
<polygon points="296.44,118.41 298.19,120.16 296.44,121.91 294.69,120.16" fill="#d95f02"/>
<circle cx="302.46" cy="120.16" r="2.6" fill="#fff"/>
<circle cx="302.46" cy="120.16" r="1.5" fill="#1b9e77"/>
<rect x="261.37" y="124.49" width="45.85" height="4" fill="#99bbda"/>
<polygon points="261.37,124.69 259.52,128.09 263.22,128.09" fill="#fff" stroke="#fff" stroke-width="2.4" stroke-linejoin="miter"/>
<polygon points="261.37,124.69 259.52,128.09 263.22,128.09" fill="#e7298a"/>
<rect x="270.53" y="124.09" width="4.8" height="4.8" fill="#fff"/>
<rect x="271.63" y="125.19" width="2.6" height="2.6" fill="#7570b3"/>
<polygon points="303.71,123.44 306.76,126.49 303.71,129.54 300.66,126.49" fill="#fff"/>
<polygon points="303.71,124.74 305.46,126.49 303.71,128.24 301.96,126.49" fill="#d95f02"/>
<circle cx="307.22" cy="126.49" r="2.6" fill="#fff"/>
<circle cx="307.22" cy="126.49" r="1.5" fill="#1b9e77"/>
<rect x="275.51" y="130.82" width="35.93" height="4" fill="#99bbda"/>
<polygon points="275.51,131.02 273.66,134.42 277.36,134.42" fill="#fff" stroke="#fff" stroke-width="2.4" stroke-linejoin="miter"/>
<polygon points="275.51,131.02 273.66,134.42 277.36,134.42" fill="#e7298a"/>
<rect x="283.34" y="130.42" width="4.8" height="4.8" fill="#fff"/>
<rect x="284.44" y="131.52" width="2.6" height="2.6" fill="#7570b3"/>
<circle cx="311.44" cy="132.82" r="2.6" fill="#fff"/>
<circle cx="311.44" cy="132.82" r="1.5" fill="#1b9e77"/>
<rect x="288.32" y="137.15" width="16.32" height="4" fill="#99bbda"/>
<rect x="285.92" y="136.75" width="4.8" height="4.8" fill="#fff"/>
<rect x="287.02" y="137.85" width="2.6" height="2.6" fill="#7570b3"/>
<polygon points="291.76,137.35 289.91,140.75 293.61,140.75" fill="#fff" stroke="#fff" stroke-width="2.4" stroke-linejoin="miter"/>
<polygon points="291.76,137.35 289.91,140.75 293.61,140.75" fill="#e7298a"/>
<circle cx="304.65" cy="139.15" r="2.6" fill="#fff"/>
<circle cx="304.65" cy="139.15" r="1.5" fill="#1b9e77"/>
<rect x="262.62" y="143.48" width="48.43" height="4" fill="#99bbda"/>
<polygon points="262.62,143.68 260.77,147.08 264.47,147.08" fill="#fff" stroke="#fff" stroke-width="2.4" stroke-linejoin="miter"/>
<polygon points="262.62,143.68 260.77,147.08 264.47,147.08" fill="#e7298a"/>
<rect x="274.36" y="143.08" width="4.8" height="4.8" fill="#fff"/>
<rect x="275.46" y="144.18" width="2.6" height="2.6" fill="#7570b3"/>
<circle cx="311.05" cy="145.48" r="2.6" fill="#fff"/>
<circle cx="311.05" cy="145.48" r="1.5" fill="#1b9e77"/>
<rect x="265.2" y="149.81" width="41.71" height="4" fill="#99bbda"/>
<polygon points="265.2,150.01 263.35,153.41 267.05,153.41" fill="#fff" stroke="#fff" stroke-width="2.4" stroke-linejoin="miter"/>
<polygon points="265.2,150.01 263.35,153.41 267.05,153.41" fill="#e7298a"/>
<rect x="271.39" y="149.41" width="4.8" height="4.8" fill="#fff"/>
<rect x="272.49" y="150.51" width="2.6" height="2.6" fill="#7570b3"/>
<circle cx="306.91" cy="151.81" r="2.6" fill="#fff"/>
<circle cx="306.91" cy="151.81" r="1.5" fill="#1b9e77"/>
<rect x="280.98" y="156.14" width="36.24" height="4" fill="#99bbda"/>
<polygon points="280.98,156.34 279.13,159.74 282.83,159.74" fill="#fff" stroke="#fff" stroke-width="2.4" stroke-linejoin="miter"/>
<polygon points="280.98,156.34 279.13,159.74 282.83,159.74" fill="#e7298a"/>
<rect x="282.72" y="155.74" width="4.8" height="4.8" fill="#fff"/>
<rect x="283.82" y="156.84" width="2.6" height="2.6" fill="#7570b3"/>
<polygon points="311.05,155.09 314.1,158.14 311.05,161.19 308,158.14" fill="#fff"/>
<polygon points="311.05,156.39 312.8,158.14 311.05,159.89 309.3,158.14" fill="#d95f02"/>
<circle cx="317.22" cy="158.14" r="2.6" fill="#fff"/>
<circle cx="317.22" cy="158.14" r="1.5" fill="#1b9e77"/>
<rect x="256.45" y="162.47" width="70.38" height="4" fill="#99bbda"/>
<polygon points="256.45,162.67 254.6,166.07 258.3,166.07" fill="#fff" stroke="#fff" stroke-width="2.4" stroke-linejoin="miter"/>
<polygon points="256.45,162.67 254.6,166.07 258.3,166.07" fill="#e7298a"/>
<rect x="302.64" y="162.07" width="4.8" height="4.8" fill="#fff"/>
<rect x="303.74" y="163.17" width="2.6" height="2.6" fill="#7570b3"/>
<polygon points="324.25,161.42 327.3,164.47 324.25,167.52 321.2,164.47" fill="#fff"/>
<polygon points="324.25,162.72 326,164.47 324.25,166.22 322.5,164.47" fill="#d95f02"/>
<circle cx="326.83" cy="164.47" r="2.6" fill="#fff"/>
<circle cx="326.83" cy="164.47" r="1.5" fill="#1b9e77"/>
<rect x="245.21" y="103.4" width="85.5" height="64.65" fill="none" stroke="#999" stroke-width="0.9"/>
<rect x="333.09" y="88.6" width="86.4" height="14.8" fill="#000"/>
<text x="376.29" y="98.3" font-size="8.1" fill="#fff" text-anchor="middle" textLength="17.7" lengthAdjust="spacingAndGlyphs">cLISI</text>
<line x1="337.19" y1="103.4" x2="337.19" y2="168.5" stroke="#ebebeb" stroke-width="0.6"/>
<line x1="346.99" y1="103.4" x2="346.99" y2="168.5" stroke="#f4f4f4" stroke-width="0.6"/>
<line x1="356.79" y1="103.4" x2="356.79" y2="168.5" stroke="#ebebeb" stroke-width="0.6"/>
<line x1="366.59" y1="103.4" x2="366.59" y2="168.5" stroke="#f4f4f4" stroke-width="0.6"/>
<line x1="376.39" y1="103.4" x2="376.39" y2="168.5" stroke="#ebebeb" stroke-width="0.6"/>
<line x1="386.19" y1="103.4" x2="386.19" y2="168.5" stroke="#f4f4f4" stroke-width="0.6"/>
<line x1="395.99" y1="103.4" x2="395.99" y2="168.5" stroke="#ebebeb" stroke-width="0.6"/>
<line x1="405.79" y1="103.4" x2="405.79" y2="168.5" stroke="#f4f4f4" stroke-width="0.6"/>
<line x1="415.59" y1="103.4" x2="415.59" y2="168.5" stroke="#ebebeb" stroke-width="0.6"/>
<line x1="333.09" y1="107.5" x2="419.49" y2="107.5" stroke="#ebebeb" stroke-width="0.6"/>
<line x1="333.09" y1="113.83" x2="419.49" y2="113.83" stroke="#ebebeb" stroke-width="0.6"/>
<line x1="333.09" y1="120.16" x2="419.49" y2="120.16" stroke="#ebebeb" stroke-width="0.6"/>
<line x1="333.09" y1="126.49" x2="419.49" y2="126.49" stroke="#ebebeb" stroke-width="0.6"/>
<line x1="333.09" y1="132.82" x2="419.49" y2="132.82" stroke="#ebebeb" stroke-width="0.6"/>
<line x1="333.09" y1="139.15" x2="419.49" y2="139.15" stroke="#ebebeb" stroke-width="0.6"/>
<line x1="333.09" y1="145.48" x2="419.49" y2="145.48" stroke="#ebebeb" stroke-width="0.6"/>
<line x1="333.09" y1="151.81" x2="419.49" y2="151.81" stroke="#ebebeb" stroke-width="0.6"/>
<line x1="333.09" y1="158.14" x2="419.49" y2="158.14" stroke="#ebebeb" stroke-width="0.6"/>
<line x1="333.09" y1="164.47" x2="419.49" y2="164.47" stroke="#ebebeb" stroke-width="0.6"/>
<rect x="411.39" y="105.5" width="4.14" height="4" fill="#99bbda"/>
<polygon points="411.39,105.7 409.54,109.1 413.24,109.1" fill="#fff" stroke="#fff" stroke-width="2.4" stroke-linejoin="miter"/>
<polygon points="411.39,105.7 409.54,109.1 413.24,109.1" fill="#e7298a"/>
<circle cx="415.53" cy="107.5" r="2.6" fill="#fff"/>
<circle cx="415.53" cy="107.5" r="1.5" fill="#1b9e77"/>
<rect x="409.36" y="111.83" width="6.4" height="4" fill="#99bbda"/>
<polygon points="409.36,112.03 407.51,115.43 411.21,115.43" fill="#fff" stroke="#fff" stroke-width="2.4" stroke-linejoin="miter"/>
<polygon points="409.36,112.03 407.51,115.43 411.21,115.43" fill="#e7298a"/>
<circle cx="415.76" cy="113.83" r="2.6" fill="#fff"/>
<circle cx="415.76" cy="113.83" r="1.5" fill="#1b9e77"/>
<rect x="408.03" y="118.16" width="7.73" height="4" fill="#99bbda"/>
<polygon points="408.03,118.36 406.18,121.76 409.88,121.76" fill="#fff" stroke="#fff" stroke-width="2.4" stroke-linejoin="miter"/>
<polygon points="408.03,118.36 406.18,121.76 409.88,121.76" fill="#e7298a"/>
<rect x="408.99" y="117.76" width="4.8" height="4.8" fill="#fff"/>
<rect x="410.09" y="118.86" width="2.6" height="2.6" fill="#7570b3"/>
<circle cx="415.76" cy="120.16" r="2.6" fill="#fff"/>
<circle cx="415.76" cy="120.16" r="1.5" fill="#1b9e77"/>
<rect x="404.2" y="124.49" width="11.33" height="4" fill="#99bbda"/>
<polygon points="404.2,124.69 402.35,128.09 406.05,128.09" fill="#fff" stroke="#fff" stroke-width="2.4" stroke-linejoin="miter"/>
<polygon points="404.2,124.69 402.35,128.09 406.05,128.09" fill="#e7298a"/>
<rect x="406.41" y="124.09" width="4.8" height="4.8" fill="#fff"/>
<rect x="407.51" y="125.19" width="2.6" height="2.6" fill="#7570b3"/>
<circle cx="415.53" cy="126.49" r="2.6" fill="#fff"/>
<circle cx="415.53" cy="126.49" r="1.5" fill="#1b9e77"/>
<rect x="406.23" y="130.82" width="9.29" height="4" fill="#99bbda"/>
<polygon points="406.23,131.02 404.38,134.42 408.08,134.42" fill="#fff" stroke="#fff" stroke-width="2.4" stroke-linejoin="miter"/>
<polygon points="406.23,131.02 404.38,134.42 408.08,134.42" fill="#e7298a"/>
<rect x="407.35" y="130.42" width="4.8" height="4.8" fill="#fff"/>
<rect x="408.45" y="131.52" width="2.6" height="2.6" fill="#7570b3"/>
<circle cx="415.53" cy="132.82" r="2.6" fill="#fff"/>
<circle cx="415.53" cy="132.82" r="1.5" fill="#1b9e77"/>
<polygon points="414.51,137.35 412.66,140.75 416.36,140.75" fill="#fff" stroke="#fff" stroke-width="2.4" stroke-linejoin="miter"/>
<polygon points="414.51,137.35 412.66,140.75 416.36,140.75" fill="#e7298a"/>
<rect x="407.79" y="143.48" width="7.73" height="4" fill="#99bbda"/>
<polygon points="407.79,143.68 405.94,147.08 409.64,147.08" fill="#fff" stroke="#fff" stroke-width="2.4" stroke-linejoin="miter"/>
<polygon points="407.79,143.68 405.94,147.08 409.64,147.08" fill="#e7298a"/>
<rect x="408.99" y="143.08" width="4.8" height="4.8" fill="#fff"/>
<rect x="410.09" y="144.18" width="2.6" height="2.6" fill="#7570b3"/>
<circle cx="415.53" cy="145.48" r="2.6" fill="#fff"/>
<circle cx="415.53" cy="145.48" r="1.5" fill="#1b9e77"/>
<rect x="410.61" y="149.81" width="4.92" height="4" fill="#99bbda"/>
<polygon points="410.61,150.01 408.76,153.41 412.46,153.41" fill="#fff" stroke="#fff" stroke-width="2.4" stroke-linejoin="miter"/>
<polygon points="410.61,150.01 408.76,153.41 412.46,153.41" fill="#e7298a"/>
<circle cx="415.53" cy="151.81" r="2.6" fill="#fff"/>
<circle cx="415.53" cy="151.81" r="1.5" fill="#1b9e77"/>
<rect x="411.62" y="156.14" width="3.91" height="4" fill="#99bbda"/>
<polygon points="411.62,156.34 409.77,159.74 413.47,159.74" fill="#fff" stroke="#fff" stroke-width="2.4" stroke-linejoin="miter"/>
<polygon points="411.62,156.34 409.77,159.74 413.47,159.74" fill="#e7298a"/>
<circle cx="415.53" cy="158.14" r="2.6" fill="#fff"/>
<circle cx="415.53" cy="158.14" r="1.5" fill="#1b9e77"/>
<rect x="389.83" y="162.47" width="25.7" height="4" fill="#99bbda"/>
<polygon points="389.83,162.67 387.98,166.07 391.68,166.07" fill="#fff" stroke="#fff" stroke-width="2.4" stroke-linejoin="miter"/>
<polygon points="389.83,162.67 387.98,166.07 391.68,166.07" fill="#e7298a"/>
<circle cx="415.53" cy="164.47" r="2.6" fill="#fff"/>
<circle cx="415.53" cy="164.47" r="1.5" fill="#1b9e77"/>
<rect x="333.54" y="103.4" width="85.5" height="64.65" fill="none" stroke="#999" stroke-width="0.9"/>
<rect x="421.42" y="88.6" width="86.4" height="14.8" fill="#000"/>
<text x="464.62" y="98.3" font-size="8.1" fill="#fff" text-anchor="middle" textLength="23.2" lengthAdjust="spacingAndGlyphs">ldfDiff</text>
<line x1="425.52" y1="103.4" x2="425.52" y2="168.5" stroke="#ebebeb" stroke-width="0.6"/>
<line x1="435.32" y1="103.4" x2="435.32" y2="168.5" stroke="#f4f4f4" stroke-width="0.6"/>
<line x1="445.12" y1="103.4" x2="445.12" y2="168.5" stroke="#ebebeb" stroke-width="0.6"/>
<line x1="454.92" y1="103.4" x2="454.92" y2="168.5" stroke="#f4f4f4" stroke-width="0.6"/>
<line x1="464.72" y1="103.4" x2="464.72" y2="168.5" stroke="#ebebeb" stroke-width="0.6"/>
<line x1="474.52" y1="103.4" x2="474.52" y2="168.5" stroke="#f4f4f4" stroke-width="0.6"/>
<line x1="484.32" y1="103.4" x2="484.32" y2="168.5" stroke="#ebebeb" stroke-width="0.6"/>
<line x1="494.12" y1="103.4" x2="494.12" y2="168.5" stroke="#f4f4f4" stroke-width="0.6"/>
<line x1="503.92" y1="103.4" x2="503.92" y2="168.5" stroke="#ebebeb" stroke-width="0.6"/>
<line x1="421.42" y1="107.5" x2="507.82" y2="107.5" stroke="#ebebeb" stroke-width="0.6"/>
<line x1="421.42" y1="113.83" x2="507.82" y2="113.83" stroke="#ebebeb" stroke-width="0.6"/>
<line x1="421.42" y1="120.16" x2="507.82" y2="120.16" stroke="#ebebeb" stroke-width="0.6"/>
<line x1="421.42" y1="126.49" x2="507.82" y2="126.49" stroke="#ebebeb" stroke-width="0.6"/>
<line x1="421.42" y1="132.82" x2="507.82" y2="132.82" stroke="#ebebeb" stroke-width="0.6"/>
<line x1="421.42" y1="139.15" x2="507.82" y2="139.15" stroke="#ebebeb" stroke-width="0.6"/>
<line x1="421.42" y1="145.48" x2="507.82" y2="145.48" stroke="#ebebeb" stroke-width="0.6"/>
<line x1="421.42" y1="151.81" x2="507.82" y2="151.81" stroke="#ebebeb" stroke-width="0.6"/>
<line x1="421.42" y1="158.14" x2="507.82" y2="158.14" stroke="#ebebeb" stroke-width="0.6"/>
<line x1="421.42" y1="164.47" x2="507.82" y2="164.47" stroke="#ebebeb" stroke-width="0.6"/>
<rect x="473.28" y="105.5" width="5.55" height="4" fill="#99bbda"/>
<polygon points="473.28,104.45 476.33,107.5 473.28,110.55 470.23,107.5" fill="#fff"/>
<polygon points="473.28,105.75 475.03,107.5 473.28,109.25 471.53,107.5" fill="#d95f02"/>
<circle cx="475.47" cy="107.5" r="2.6" fill="#fff"/>
<circle cx="475.47" cy="107.5" r="1.5" fill="#1b9e77"/>
<polygon points="478.83,105.7 476.98,109.1 480.68,109.1" fill="#fff" stroke="#fff" stroke-width="2.4" stroke-linejoin="miter"/>
<polygon points="478.83,105.7 476.98,109.1 480.68,109.1" fill="#e7298a"/>
<rect x="468.59" y="111.83" width="5.08" height="4" fill="#99bbda"/>
<polygon points="468.59,110.78 471.64,113.83 468.59,116.88 465.54,113.83" fill="#fff"/>
<polygon points="468.59,112.08 470.34,113.83 468.59,115.58 466.84,113.83" fill="#d95f02"/>
<circle cx="471.09" cy="113.83" r="2.6" fill="#fff"/>
<circle cx="471.09" cy="113.83" r="1.5" fill="#1b9e77"/>
<polygon points="473.67,112.03 471.82,115.43 475.52,115.43" fill="#fff" stroke="#fff" stroke-width="2.4" stroke-linejoin="miter"/>
<polygon points="473.67,112.03 471.82,115.43 475.52,115.43" fill="#e7298a"/>
<rect x="472.65" y="118.16" width="3.91" height="4" fill="#99bbda"/>
<polygon points="472.65,117.11 475.7,120.16 472.65,123.21 469.6,120.16" fill="#fff"/>
<polygon points="472.65,118.41 474.4,120.16 472.65,121.91 470.9,120.16" fill="#d95f02"/>
<polygon points="476.56,118.36 474.71,121.76 478.41,121.76" fill="#fff" stroke="#fff" stroke-width="2.4" stroke-linejoin="miter"/>
<polygon points="476.56,118.36 474.71,121.76 478.41,121.76" fill="#e7298a"/>
<rect x="469.45" y="124.49" width="6.4" height="4" fill="#99bbda"/>
<polygon points="469.45,123.44 472.5,126.49 469.45,129.54 466.4,126.49" fill="#fff"/>
<polygon points="469.45,124.74 471.2,126.49 469.45,128.24 467.7,126.49" fill="#d95f02"/>
<circle cx="472.42" cy="126.49" r="2.6" fill="#fff"/>
<circle cx="472.42" cy="126.49" r="1.5" fill="#1b9e77"/>
<polygon points="475.86,124.69 474.01,128.09 477.71,128.09" fill="#fff" stroke="#fff" stroke-width="2.4" stroke-linejoin="miter"/>
<polygon points="475.86,124.69 474.01,128.09 477.71,128.09" fill="#e7298a"/>
<rect x="472.42" y="130.82" width="4.14" height="4" fill="#99bbda"/>
<circle cx="472.42" cy="132.82" r="2.6" fill="#fff"/>
<circle cx="472.42" cy="132.82" r="1.5" fill="#1b9e77"/>
<polygon points="476.56,131.02 474.71,134.42 478.41,134.42" fill="#fff" stroke="#fff" stroke-width="2.4" stroke-linejoin="miter"/>
<polygon points="476.56,131.02 474.71,134.42 478.41,134.42" fill="#e7298a"/>
<rect x="475.23" y="137.15" width="3.59" height="4" fill="#99bbda"/>
<circle cx="475.23" cy="139.15" r="2.6" fill="#fff"/>
<circle cx="475.23" cy="139.15" r="1.5" fill="#1b9e77"/>
<polygon points="478.83,137.35 476.98,140.75 480.68,140.75" fill="#fff" stroke="#fff" stroke-width="2.4" stroke-linejoin="miter"/>
<polygon points="478.83,137.35 476.98,140.75 480.68,140.75" fill="#e7298a"/>
<rect x="470.08" y="143.48" width="3.59" height="4" fill="#99bbda"/>
<polygon points="470.08,142.43 473.13,145.48 470.08,148.53 467.03,145.48" fill="#fff"/>
<polygon points="470.08,143.73 471.83,145.48 470.08,147.23 468.33,145.48" fill="#d95f02"/>
<polygon points="473.67,143.68 471.82,147.08 475.52,147.08" fill="#fff" stroke="#fff" stroke-width="2.4" stroke-linejoin="miter"/>
<polygon points="473.67,143.68 471.82,147.08 475.52,147.08" fill="#e7298a"/>
<rect x="474.61" y="149.81" width="2.97" height="4" fill="#99bbda"/>
<circle cx="474.61" cy="151.81" r="2.6" fill="#fff"/>
<circle cx="474.61" cy="151.81" r="1.5" fill="#1b9e77"/>
<polygon points="477.58,150.01 475.73,153.41 479.43,153.41" fill="#fff" stroke="#fff" stroke-width="2.4" stroke-linejoin="miter"/>
<polygon points="477.58,150.01 475.73,153.41 479.43,153.41" fill="#e7298a"/>
<rect x="466.25" y="156.14" width="12.58" height="4" fill="#99bbda"/>
<polygon points="466.25,156.34 464.4,159.74 468.1,159.74" fill="#fff" stroke="#fff" stroke-width="2.4" stroke-linejoin="miter"/>
<polygon points="466.25,156.34 464.4,159.74 468.1,159.74" fill="#e7298a"/>
<polygon points="473.98,155.09 477.03,158.14 473.98,161.19 470.93,158.14" fill="#fff"/>
<polygon points="473.98,156.39 475.73,158.14 473.98,159.89 472.23,158.14" fill="#d95f02"/>
<circle cx="478.83" cy="158.14" r="2.6" fill="#fff"/>
<circle cx="478.83" cy="158.14" r="1.5" fill="#1b9e77"/>
<rect x="443.75" y="162.47" width="34.68" height="4" fill="#99bbda"/>
<polygon points="443.75,161.42 446.8,164.47 443.75,167.52 440.7,164.47" fill="#fff"/>
<polygon points="443.75,162.72 445.5,164.47 443.75,166.22 442,164.47" fill="#d95f02"/>
<circle cx="459.53" cy="164.47" r="2.6" fill="#fff"/>
<circle cx="459.53" cy="164.47" r="1.5" fill="#1b9e77"/>
<rect x="470.25" y="162.07" width="4.8" height="4.8" fill="#fff"/>
<rect x="471.35" y="163.17" width="2.6" height="2.6" fill="#7570b3"/>
<polygon points="478.43,162.67 476.58,166.07 480.28,166.07" fill="#fff" stroke="#fff" stroke-width="2.4" stroke-linejoin="miter"/>
<polygon points="478.43,162.67 476.58,166.07 480.28,166.07" fill="#e7298a"/>
<rect x="421.87" y="103.4" width="85.5" height="64.65" fill="none" stroke="#999" stroke-width="0.9"/>
<rect x="509.75" y="88.6" width="86.4" height="14.8" fill="#000"/>
<text x="552.95" y="98.3" font-size="8.1" fill="#fff" text-anchor="middle" textLength="48.7" lengthAdjust="spacingAndGlyphs">Cell distance</text>
<line x1="513.85" y1="103.4" x2="513.85" y2="168.5" stroke="#ebebeb" stroke-width="0.6"/>
<line x1="523.65" y1="103.4" x2="523.65" y2="168.5" stroke="#f4f4f4" stroke-width="0.6"/>
<line x1="533.45" y1="103.4" x2="533.45" y2="168.5" stroke="#ebebeb" stroke-width="0.6"/>
<line x1="543.25" y1="103.4" x2="543.25" y2="168.5" stroke="#f4f4f4" stroke-width="0.6"/>
<line x1="553.05" y1="103.4" x2="553.05" y2="168.5" stroke="#ebebeb" stroke-width="0.6"/>
<line x1="562.85" y1="103.4" x2="562.85" y2="168.5" stroke="#f4f4f4" stroke-width="0.6"/>
<line x1="572.65" y1="103.4" x2="572.65" y2="168.5" stroke="#ebebeb" stroke-width="0.6"/>
<line x1="582.45" y1="103.4" x2="582.45" y2="168.5" stroke="#f4f4f4" stroke-width="0.6"/>
<line x1="592.25" y1="103.4" x2="592.25" y2="168.5" stroke="#ebebeb" stroke-width="0.6"/>
<line x1="509.75" y1="107.5" x2="596.15" y2="107.5" stroke="#ebebeb" stroke-width="0.6"/>
<line x1="509.75" y1="113.83" x2="596.15" y2="113.83" stroke="#ebebeb" stroke-width="0.6"/>
<line x1="509.75" y1="120.16" x2="596.15" y2="120.16" stroke="#ebebeb" stroke-width="0.6"/>
<line x1="509.75" y1="126.49" x2="596.15" y2="126.49" stroke="#ebebeb" stroke-width="0.6"/>
<line x1="509.75" y1="132.82" x2="596.15" y2="132.82" stroke="#ebebeb" stroke-width="0.6"/>
<line x1="509.75" y1="139.15" x2="596.15" y2="139.15" stroke="#ebebeb" stroke-width="0.6"/>
<line x1="509.75" y1="145.48" x2="596.15" y2="145.48" stroke="#ebebeb" stroke-width="0.6"/>
<line x1="509.75" y1="151.81" x2="596.15" y2="151.81" stroke="#ebebeb" stroke-width="0.6"/>
<line x1="509.75" y1="158.14" x2="596.15" y2="158.14" stroke="#ebebeb" stroke-width="0.6"/>
<line x1="509.75" y1="164.47" x2="596.15" y2="164.47" stroke="#ebebeb" stroke-width="0.6"/>
<rect x="577.34" y="105.5" width="9.64" height="4" fill="#a7d5a2"/>
<circle cx="577.34" cy="107.5" r="2.6" fill="#fff"/>
<circle cx="577.34" cy="107.5" r="1.5" fill="#1b9e77"/>
<polygon points="581.49,104.45 584.54,107.5 581.49,110.55 578.44,107.5" fill="#fff"/>
<polygon points="581.49,105.75 583.24,107.5 581.49,109.25 579.74,107.5" fill="#d95f02"/>
<polygon points="586.97,105.7 585.12,109.1 588.82,109.1" fill="#fff" stroke="#fff" stroke-width="2.4" stroke-linejoin="miter"/>
<polygon points="586.97,105.7 585.12,109.1 588.82,109.1" fill="#e7298a"/>
<rect x="586.97" y="111.83" width="4.55" height="4" fill="#a7d5a2"/>
<rect x="584.57" y="111.43" width="4.8" height="4.8" fill="#fff"/>
<rect x="585.67" y="112.53" width="2.6" height="2.6" fill="#7570b3"/>
<polygon points="591.52,112.03 589.67,115.43 593.37,115.43" fill="#fff" stroke="#fff" stroke-width="2.4" stroke-linejoin="miter"/>
<polygon points="591.52,112.03 589.67,115.43 593.37,115.43" fill="#e7298a"/>
<rect x="588.93" y="118.16" width="2.82" height="4" fill="#a7d5a2"/>
<circle cx="588.93" cy="120.16" r="2.6" fill="#fff"/>
<circle cx="588.93" cy="120.16" r="1.5" fill="#1b9e77"/>
<polygon points="591.75,118.36 589.9,121.76 593.6,121.76" fill="#fff" stroke="#fff" stroke-width="2.4" stroke-linejoin="miter"/>
<polygon points="591.75,118.36 589.9,121.76 593.6,121.76" fill="#e7298a"/>
<polygon points="591.28,124.69 589.43,128.09 593.13,128.09" fill="#fff" stroke="#fff" stroke-width="2.4" stroke-linejoin="miter"/>
<polygon points="591.28,124.69 589.43,128.09 593.13,128.09" fill="#e7298a"/>
<rect x="585.96" y="130.82" width="4" height="4" fill="#a7d5a2"/>
<circle cx="585.96" cy="132.82" r="2.6" fill="#fff"/>
<circle cx="585.96" cy="132.82" r="1.5" fill="#1b9e77"/>
<polygon points="589.95,131.02 588.1,134.42 591.8,134.42" fill="#fff" stroke="#fff" stroke-width="2.4" stroke-linejoin="miter"/>
<polygon points="589.95,131.02 588.1,134.42 591.8,134.42" fill="#e7298a"/>
<rect x="583.53" y="137.15" width="4.15" height="4" fill="#a7d5a2"/>
<polygon points="583.53,137.35 581.68,140.75 585.38,140.75" fill="#fff" stroke="#fff" stroke-width="2.4" stroke-linejoin="miter"/>
<polygon points="583.53,137.35 581.68,140.75 585.38,140.75" fill="#e7298a"/>
<rect x="585.28" y="136.75" width="4.8" height="4.8" fill="#fff"/>
<rect x="586.38" y="137.85" width="2.6" height="2.6" fill="#7570b3"/>
<rect x="587.91" y="143.48" width="3.37" height="4" fill="#a7d5a2"/>
<circle cx="587.91" cy="145.48" r="2.6" fill="#fff"/>
<circle cx="587.91" cy="145.48" r="1.5" fill="#1b9e77"/>
<polygon points="591.28,143.68 589.43,147.08 593.13,147.08" fill="#fff" stroke="#fff" stroke-width="2.4" stroke-linejoin="miter"/>
<polygon points="591.28,143.68 589.43,147.08 593.13,147.08" fill="#e7298a"/>
<rect x="583.53" y="149.81" width="4.78" height="4" fill="#a7d5a2"/>
<circle cx="583.53" cy="151.81" r="2.6" fill="#fff"/>
<circle cx="583.53" cy="151.81" r="1.5" fill="#1b9e77"/>
<polygon points="588.31,150.01 586.46,153.41 590.16,153.41" fill="#fff" stroke="#fff" stroke-width="2.4" stroke-linejoin="miter"/>
<polygon points="588.31,150.01 586.46,153.41 590.16,153.41" fill="#e7298a"/>
<rect x="588.31" y="156.14" width="2.59" height="4" fill="#a7d5a2"/>
<polygon points="588.31,156.34 586.46,159.74 590.16,159.74" fill="#fff" stroke="#fff" stroke-width="2.4" stroke-linejoin="miter"/>
<polygon points="588.31,156.34 586.46,159.74 590.16,159.74" fill="#e7298a"/>
<rect x="588.49" y="155.74" width="4.8" height="4.8" fill="#fff"/>
<rect x="589.59" y="156.84" width="2.6" height="2.6" fill="#7570b3"/>
<rect x="524.05" y="162.47" width="64.65" height="4" fill="#a7d5a2"/>
<polygon points="524.05,161.42 527.1,164.47 524.05,167.52 521,164.47" fill="#fff"/>
<polygon points="524.05,162.72 525.8,164.47 524.05,166.22 522.3,164.47" fill="#d95f02"/>
<circle cx="544.58" cy="164.47" r="2.6" fill="#fff"/>
<circle cx="544.58" cy="164.47" r="1.5" fill="#1b9e77"/>
<rect x="577.83" y="162.07" width="4.8" height="4.8" fill="#fff"/>
<rect x="578.93" y="163.17" width="2.6" height="2.6" fill="#7570b3"/>
<polygon points="588.7,162.67 586.85,166.07 590.55,166.07" fill="#fff" stroke="#fff" stroke-width="2.4" stroke-linejoin="miter"/>
<polygon points="588.7,162.67 586.85,166.07 590.55,166.07" fill="#e7298a"/>
<rect x="510.2" y="103.4" width="85.5" height="64.65" fill="none" stroke="#999" stroke-width="0.9"/>
<line x1="513.85" y1="168.5" x2="513.85" y2="170.8" stroke="#555" stroke-width="0.7"/>
<text x="513.85" y="177.2" font-size="7.6" fill="#1a1a1a" text-anchor="middle">0</text>
<line x1="533.45" y1="168.5" x2="533.45" y2="170.8" stroke="#555" stroke-width="0.7"/>
<text x="533.45" y="177.2" font-size="7.6" fill="#1a1a1a" text-anchor="middle">0.25</text>
<line x1="553.05" y1="168.5" x2="553.05" y2="170.8" stroke="#555" stroke-width="0.7"/>
<text x="553.05" y="177.2" font-size="7.6" fill="#1a1a1a" text-anchor="middle">0.5</text>
<line x1="572.65" y1="168.5" x2="572.65" y2="170.8" stroke="#555" stroke-width="0.7"/>
<text x="572.65" y="177.2" font-size="7.6" fill="#1a1a1a" text-anchor="middle">0.75</text>
<line x1="592.25" y1="168.5" x2="592.25" y2="170.8" stroke="#555" stroke-width="0.7"/>
<text x="592.25" y="177.2" font-size="7.6" fill="#1a1a1a" text-anchor="middle">1</text>
<rect x="598.08" y="88.6" width="86.4" height="14.8" fill="#000"/>
<text x="641.28" y="98.3" font-size="8.1" fill="#fff" text-anchor="middle" textLength="53.8" lengthAdjust="spacingAndGlyphs">Label distance</text>
<line x1="602.18" y1="103.4" x2="602.18" y2="168.5" stroke="#ebebeb" stroke-width="0.6"/>
<line x1="611.98" y1="103.4" x2="611.98" y2="168.5" stroke="#f4f4f4" stroke-width="0.6"/>
<line x1="621.78" y1="103.4" x2="621.78" y2="168.5" stroke="#ebebeb" stroke-width="0.6"/>
<line x1="631.58" y1="103.4" x2="631.58" y2="168.5" stroke="#f4f4f4" stroke-width="0.6"/>
<line x1="641.38" y1="103.4" x2="641.38" y2="168.5" stroke="#ebebeb" stroke-width="0.6"/>
<line x1="651.18" y1="103.4" x2="651.18" y2="168.5" stroke="#f4f4f4" stroke-width="0.6"/>
<line x1="660.98" y1="103.4" x2="660.98" y2="168.5" stroke="#ebebeb" stroke-width="0.6"/>
<line x1="670.78" y1="103.4" x2="670.78" y2="168.5" stroke="#f4f4f4" stroke-width="0.6"/>
<line x1="680.58" y1="103.4" x2="680.58" y2="168.5" stroke="#ebebeb" stroke-width="0.6"/>
<line x1="598.08" y1="107.5" x2="684.48" y2="107.5" stroke="#ebebeb" stroke-width="0.6"/>
<line x1="598.08" y1="113.83" x2="684.48" y2="113.83" stroke="#ebebeb" stroke-width="0.6"/>
<line x1="598.08" y1="120.16" x2="684.48" y2="120.16" stroke="#ebebeb" stroke-width="0.6"/>
<line x1="598.08" y1="126.49" x2="684.48" y2="126.49" stroke="#ebebeb" stroke-width="0.6"/>
<line x1="598.08" y1="132.82" x2="684.48" y2="132.82" stroke="#ebebeb" stroke-width="0.6"/>
<line x1="598.08" y1="139.15" x2="684.48" y2="139.15" stroke="#ebebeb" stroke-width="0.6"/>
<line x1="598.08" y1="145.48" x2="684.48" y2="145.48" stroke="#ebebeb" stroke-width="0.6"/>
<line x1="598.08" y1="151.81" x2="684.48" y2="151.81" stroke="#ebebeb" stroke-width="0.6"/>
<line x1="598.08" y1="158.14" x2="684.48" y2="158.14" stroke="#ebebeb" stroke-width="0.6"/>
<line x1="598.08" y1="164.47" x2="684.48" y2="164.47" stroke="#ebebeb" stroke-width="0.6"/>
<rect x="664.85" y="105.5" width="3.06" height="4" fill="#a7d5a2"/>
<circle cx="664.85" cy="107.5" r="2.6" fill="#fff"/>
<circle cx="664.85" cy="107.5" r="1.5" fill="#1b9e77"/>
<polygon points="667.91,105.7 666.06,109.1 669.76,109.1" fill="#fff" stroke="#fff" stroke-width="2.4" stroke-linejoin="miter"/>
<polygon points="667.91,105.7 666.06,109.1 669.76,109.1" fill="#e7298a"/>
<rect x="646.83" y="111.83" width="18.49" height="4" fill="#a7d5a2"/>
<circle cx="646.83" cy="113.83" r="2.6" fill="#fff"/>
<circle cx="646.83" cy="113.83" r="1.5" fill="#1b9e77"/>
<rect x="658.22" y="111.43" width="4.8" height="4.8" fill="#fff"/>
<rect x="659.32" y="112.53" width="2.6" height="2.6" fill="#7570b3"/>
<polygon points="665.32,112.03 663.47,115.43 667.17,115.43" fill="#fff" stroke="#fff" stroke-width="2.4" stroke-linejoin="miter"/>
<polygon points="665.32,112.03 663.47,115.43 667.17,115.43" fill="#e7298a"/>
<rect x="652" y="118.16" width="14.11" height="4" fill="#a7d5a2"/>
<circle cx="652" cy="120.16" r="2.6" fill="#fff"/>
<circle cx="652" cy="120.16" r="1.5" fill="#1b9e77"/>
<polygon points="656.39,117.11 659.44,120.16 656.39,123.21 653.34,120.16" fill="#fff"/>
<polygon points="656.39,118.41 658.14,120.16 656.39,121.91 654.64,120.16" fill="#d95f02"/>
<rect x="656.89" y="117.76" width="4.8" height="4.8" fill="#fff"/>
<rect x="657.99" y="118.86" width="2.6" height="2.6" fill="#7570b3"/>
<polygon points="666.11,118.36 664.26,121.76 667.96,121.76" fill="#fff" stroke="#fff" stroke-width="2.4" stroke-linejoin="miter"/>
<polygon points="666.11,118.36 664.26,121.76 667.96,121.76" fill="#e7298a"/>
<rect x="658.43" y="124.49" width="9.87" height="4" fill="#a7d5a2"/>
<circle cx="658.43" cy="126.49" r="2.6" fill="#fff"/>
<circle cx="658.43" cy="126.49" r="1.5" fill="#1b9e77"/>
<rect x="661.67" y="124.09" width="4.8" height="4.8" fill="#fff"/>
<rect x="662.77" y="125.19" width="2.6" height="2.6" fill="#7570b3"/>
<polygon points="668.3,124.69 666.45,128.09 670.15,128.09" fill="#fff" stroke="#fff" stroke-width="2.4" stroke-linejoin="miter"/>
<polygon points="668.3,124.69 666.45,128.09 670.15,128.09" fill="#e7298a"/>
<rect x="669.79" y="130.82" width="1.72" height="4" fill="#a7d5a2"/>
<circle cx="669.79" cy="132.82" r="2.6" fill="#fff"/>
<circle cx="669.79" cy="132.82" r="1.5" fill="#1b9e77"/>
<polygon points="671.51,131.02 669.66,134.42 673.36,134.42" fill="#fff" stroke="#fff" stroke-width="2.4" stroke-linejoin="miter"/>
<polygon points="671.51,131.02 669.66,134.42 673.36,134.42" fill="#e7298a"/>
<rect x="663.13" y="137.15" width="3.92" height="4" fill="#a7d5a2"/>
<circle cx="663.13" cy="139.15" r="2.6" fill="#fff"/>
<circle cx="663.13" cy="139.15" r="1.5" fill="#1b9e77"/>
<polygon points="667.05,137.35 665.2,140.75 668.9,140.75" fill="#fff" stroke="#fff" stroke-width="2.4" stroke-linejoin="miter"/>
<polygon points="667.05,137.35 665.2,140.75 668.9,140.75" fill="#e7298a"/>
<rect x="653.49" y="143.48" width="15.67" height="4" fill="#a7d5a2"/>
<circle cx="653.49" cy="145.48" r="2.6" fill="#fff"/>
<circle cx="653.49" cy="145.48" r="1.5" fill="#1b9e77"/>
<polygon points="662.5,142.43 665.55,145.48 662.5,148.53 659.45,145.48" fill="#fff"/>
<polygon points="662.5,143.73 664.25,145.48 662.5,147.23 660.75,145.48" fill="#d95f02"/>
<polygon points="669.16,143.68 667.31,147.08 671.01,147.08" fill="#fff" stroke="#fff" stroke-width="2.4" stroke-linejoin="miter"/>
<polygon points="669.16,143.68 667.31,147.08 671.01,147.08" fill="#e7298a"/>
<rect x="648.16" y="149.81" width="9.25" height="4" fill="#a7d5a2"/>
<circle cx="648.16" cy="151.81" r="2.6" fill="#fff"/>
<circle cx="648.16" cy="151.81" r="1.5" fill="#1b9e77"/>
<polygon points="657.41,150.01 655.56,153.41 659.26,153.41" fill="#fff" stroke="#fff" stroke-width="2.4" stroke-linejoin="miter"/>
<polygon points="657.41,150.01 655.56,153.41 659.26,153.41" fill="#e7298a"/>
<rect x="644.56" y="156.14" width="19.51" height="4" fill="#a7d5a2"/>
<polygon points="644.56,155.09 647.61,158.14 644.56,161.19 641.51,158.14" fill="#fff"/>
<polygon points="644.56,156.39 646.31,158.14 644.56,159.89 642.81,158.14" fill="#d95f02"/>
<circle cx="654.82" cy="158.14" r="2.6" fill="#fff"/>
<circle cx="654.82" cy="158.14" r="1.5" fill="#1b9e77"/>
<polygon points="657.64,156.34 655.79,159.74 659.49,159.74" fill="#fff" stroke="#fff" stroke-width="2.4" stroke-linejoin="miter"/>
<polygon points="657.64,156.34 655.79,159.74 659.49,159.74" fill="#e7298a"/>
<rect x="661.67" y="155.74" width="4.8" height="4.8" fill="#fff"/>
<rect x="662.77" y="156.84" width="2.6" height="2.6" fill="#7570b3"/>
<rect x="631.39" y="162.47" width="38.16" height="4" fill="#a7d5a2"/>
<polygon points="631.39,161.42 634.44,164.47 631.39,167.52 628.34,164.47" fill="#fff"/>
<polygon points="631.39,162.72 633.14,164.47 631.39,166.22 629.64,164.47" fill="#d95f02"/>
<circle cx="648.4" cy="164.47" r="2.6" fill="#fff"/>
<circle cx="648.4" cy="164.47" r="1.5" fill="#1b9e77"/>
<polygon points="669.55,162.67 667.7,166.07 671.4,166.07" fill="#fff" stroke="#fff" stroke-width="2.4" stroke-linejoin="miter"/>
<polygon points="669.55,162.67 667.7,166.07 671.4,166.07" fill="#e7298a"/>
<rect x="598.53" y="103.4" width="85.5" height="64.65" fill="none" stroke="#999" stroke-width="0.9"/>
<line x1="602.18" y1="168.5" x2="602.18" y2="170.8" stroke="#555" stroke-width="0.7"/>
<text x="602.18" y="177.2" font-size="7.6" fill="#1a1a1a" text-anchor="middle">0</text>
<line x1="621.78" y1="168.5" x2="621.78" y2="170.8" stroke="#555" stroke-width="0.7"/>
<text x="621.78" y="177.2" font-size="7.6" fill="#1a1a1a" text-anchor="middle">0.25</text>
<line x1="641.38" y1="168.5" x2="641.38" y2="170.8" stroke="#555" stroke-width="0.7"/>
<text x="641.38" y="177.2" font-size="7.6" fill="#1a1a1a" text-anchor="middle">0.5</text>
<line x1="660.98" y1="168.5" x2="660.98" y2="170.8" stroke="#555" stroke-width="0.7"/>
<text x="660.98" y="177.2" font-size="7.6" fill="#1a1a1a" text-anchor="middle">0.75</text>
<line x1="680.58" y1="168.5" x2="680.58" y2="170.8" stroke="#555" stroke-width="0.7"/>
<text x="680.58" y="177.2" font-size="7.6" fill="#1a1a1a" text-anchor="middle">1</text>
<rect x="68.1" y="170.4" width="86.4" height="14.8" fill="#000"/>
<text x="111.3" y="180.1" font-size="8.1" fill="#fff" text-anchor="middle" textLength="18.9" lengthAdjust="spacingAndGlyphs">mLISI</text>
<line x1="72.2" y1="185.2" x2="72.2" y2="250.3" stroke="#ebebeb" stroke-width="0.6"/>
<line x1="82" y1="185.2" x2="82" y2="250.3" stroke="#f4f4f4" stroke-width="0.6"/>
<line x1="91.8" y1="185.2" x2="91.8" y2="250.3" stroke="#ebebeb" stroke-width="0.6"/>
<line x1="101.6" y1="185.2" x2="101.6" y2="250.3" stroke="#f4f4f4" stroke-width="0.6"/>
<line x1="111.4" y1="185.2" x2="111.4" y2="250.3" stroke="#ebebeb" stroke-width="0.6"/>
<line x1="121.2" y1="185.2" x2="121.2" y2="250.3" stroke="#f4f4f4" stroke-width="0.6"/>
<line x1="131" y1="185.2" x2="131" y2="250.3" stroke="#ebebeb" stroke-width="0.6"/>
<line x1="140.8" y1="185.2" x2="140.8" y2="250.3" stroke="#f4f4f4" stroke-width="0.6"/>
<line x1="150.6" y1="185.2" x2="150.6" y2="250.3" stroke="#ebebeb" stroke-width="0.6"/>
<line x1="68.1" y1="189.3" x2="154.5" y2="189.3" stroke="#ebebeb" stroke-width="0.6"/>
<line x1="68.1" y1="195.63" x2="154.5" y2="195.63" stroke="#ebebeb" stroke-width="0.6"/>
<line x1="68.1" y1="201.96" x2="154.5" y2="201.96" stroke="#ebebeb" stroke-width="0.6"/>
<line x1="68.1" y1="208.29" x2="154.5" y2="208.29" stroke="#ebebeb" stroke-width="0.6"/>
<line x1="68.1" y1="214.62" x2="154.5" y2="214.62" stroke="#ebebeb" stroke-width="0.6"/>
<line x1="68.1" y1="220.95" x2="154.5" y2="220.95" stroke="#ebebeb" stroke-width="0.6"/>
<line x1="68.1" y1="227.28" x2="154.5" y2="227.28" stroke="#ebebeb" stroke-width="0.6"/>
<line x1="68.1" y1="233.61" x2="154.5" y2="233.61" stroke="#ebebeb" stroke-width="0.6"/>
<line x1="68.1" y1="239.94" x2="154.5" y2="239.94" stroke="#ebebeb" stroke-width="0.6"/>
<line x1="68.1" y1="246.27" x2="154.5" y2="246.27" stroke="#ebebeb" stroke-width="0.6"/>
<rect x="90.87" y="187.3" width="32.15" height="4" fill="#a7d5a2"/>
<circle cx="90.87" cy="189.3" r="2.6" fill="#fff"/>
<circle cx="90.87" cy="189.3" r="1.5" fill="#1b9e77"/>
<polygon points="97.8,186.25 100.85,189.3 97.8,192.35 94.75,189.3" fill="#fff"/>
<polygon points="97.8,187.55 99.55,189.3 97.8,191.05 96.05,189.3" fill="#d95f02"/>
<rect x="109.96" y="186.9" width="4.8" height="4.8" fill="#fff"/>
<rect x="111.06" y="188" width="2.6" height="2.6" fill="#7570b3"/>
<polygon points="123.02,187.5 121.17,190.9 124.87,190.9" fill="#fff" stroke="#fff" stroke-width="2.4" stroke-linejoin="miter"/>
<polygon points="123.02,187.5 121.17,190.9 124.87,190.9" fill="#e7298a"/>
<rect x="73.82" y="193.63" width="50.68" height="4" fill="#a7d5a2"/>
<circle cx="73.82" cy="195.63" r="2.6" fill="#fff"/>
<circle cx="73.82" cy="195.63" r="1.5" fill="#1b9e77"/>
<rect x="111.59" y="193.23" width="4.8" height="4.8" fill="#fff"/>
<rect x="112.69" y="194.33" width="2.6" height="2.6" fill="#7570b3"/>
<polygon points="124.5,193.83 122.65,197.23 126.35,197.23" fill="#fff" stroke="#fff" stroke-width="2.4" stroke-linejoin="miter"/>
<polygon points="124.5,193.83 122.65,197.23 126.35,197.23" fill="#e7298a"/>
<rect x="75.45" y="199.96" width="55.12" height="4" fill="#a7d5a2"/>
<circle cx="75.45" cy="201.96" r="2.6" fill="#fff"/>
<circle cx="75.45" cy="201.96" r="1.5" fill="#1b9e77"/>
<rect x="114.39" y="199.56" width="4.8" height="4.8" fill="#fff"/>
<rect x="115.49" y="200.66" width="2.6" height="2.6" fill="#7570b3"/>
<polygon points="130.57,200.16 128.72,203.56 132.42,203.56" fill="#fff" stroke="#fff" stroke-width="2.4" stroke-linejoin="miter"/>
<polygon points="130.57,200.16 128.72,203.56 132.42,203.56" fill="#e7298a"/>
<rect x="76" y="206.29" width="37.6" height="4" fill="#a7d5a2"/>
<polygon points="76,205.24 79.05,208.29 76,211.34 72.95,208.29" fill="#fff"/>
<polygon points="76,206.54 77.75,208.29 76,210.04 74.25,208.29" fill="#d95f02"/>
<circle cx="78.96" cy="208.29" r="2.6" fill="#fff"/>
<circle cx="78.96" cy="208.29" r="1.5" fill="#1b9e77"/>
<rect x="106.45" y="205.89" width="4.8" height="4.8" fill="#fff"/>
<rect x="107.55" y="206.99" width="2.6" height="2.6" fill="#7570b3"/>
<polygon points="113.6,206.49 111.75,209.89 115.45,209.89" fill="#fff" stroke="#fff" stroke-width="2.4" stroke-linejoin="miter"/>
<polygon points="113.6,206.49 111.75,209.89 115.45,209.89" fill="#e7298a"/>
<rect x="98.19" y="212.62" width="25.3" height="4" fill="#a7d5a2"/>
<circle cx="98.19" cy="214.62" r="2.6" fill="#fff"/>
<circle cx="98.19" cy="214.62" r="1.5" fill="#1b9e77"/>
<polygon points="102.08,211.57 105.13,214.62 102.08,217.67 99.03,214.62" fill="#fff"/>
<polygon points="102.08,212.87 103.83,214.62 102.08,216.37 100.33,214.62" fill="#d95f02"/>
<rect x="118.52" y="212.22" width="4.8" height="4.8" fill="#fff"/>
<rect x="119.62" y="213.32" width="2.6" height="2.6" fill="#7570b3"/>
<polygon points="123.49,212.82 121.64,216.22 125.34,216.22" fill="#fff" stroke="#fff" stroke-width="2.4" stroke-linejoin="miter"/>
<polygon points="123.49,212.82 121.64,216.22 125.34,216.22" fill="#e7298a"/>
<rect x="93.67" y="218.95" width="5.84" height="4" fill="#a7d5a2"/>
<circle cx="93.67" cy="220.95" r="2.6" fill="#fff"/>
<circle cx="93.67" cy="220.95" r="1.5" fill="#1b9e77"/>
<polygon points="99.51,219.15 97.66,222.55 101.36,222.55" fill="#fff" stroke="#fff" stroke-width="2.4" stroke-linejoin="miter"/>
<polygon points="99.51,219.15 97.66,222.55 101.36,222.55" fill="#e7298a"/>
<rect x="92.66" y="225.28" width="35.73" height="4" fill="#a7d5a2"/>
<circle cx="92.66" cy="227.28" r="2.6" fill="#fff"/>
<circle cx="92.66" cy="227.28" r="1.5" fill="#1b9e77"/>
<polygon points="97.8,224.23 100.85,227.28 97.8,230.33 94.75,227.28" fill="#fff"/>
<polygon points="97.8,225.53 99.55,227.28 97.8,229.03 96.05,227.28" fill="#d95f02"/>
<polygon points="128.39,225.48 126.54,228.88 130.24,228.88" fill="#fff" stroke="#fff" stroke-width="2.4" stroke-linejoin="miter"/>
<polygon points="128.39,225.48 126.54,228.88 130.24,228.88" fill="#e7298a"/>
<rect x="72.5" y="231.61" width="10.04" height="4" fill="#a7d5a2"/>
<circle cx="72.5" cy="233.61" r="2.6" fill="#fff"/>
<circle cx="72.5" cy="233.61" r="1.5" fill="#1b9e77"/>
<rect x="76.87" y="231.21" width="4.8" height="4.8" fill="#fff"/>
<rect x="77.97" y="232.31" width="2.6" height="2.6" fill="#7570b3"/>
<polygon points="82.54,231.81 80.69,235.21 84.39,235.21" fill="#fff" stroke="#fff" stroke-width="2.4" stroke-linejoin="miter"/>
<polygon points="82.54,231.81 80.69,235.21 84.39,235.21" fill="#e7298a"/>
<rect x="80.44" y="237.94" width="24.83" height="4" fill="#a7d5a2"/>
<polygon points="80.44,236.89 83.49,239.94 80.44,242.99 77.39,239.94" fill="#fff"/>
<polygon points="80.44,238.19 82.19,239.94 80.44,241.69 78.69,239.94" fill="#d95f02"/>
<polygon points="93.05,238.14 91.2,241.54 94.9,241.54" fill="#fff" stroke="#fff" stroke-width="2.4" stroke-linejoin="miter"/>
<polygon points="93.05,238.14 91.2,241.54 94.9,241.54" fill="#e7298a"/>
<circle cx="98.19" cy="239.94" r="2.6" fill="#fff"/>
<circle cx="98.19" cy="239.94" r="1.5" fill="#1b9e77"/>
<rect x="102.87" y="237.54" width="4.8" height="4.8" fill="#fff"/>
<rect x="103.97" y="238.64" width="2.6" height="2.6" fill="#7570b3"/>
<rect x="72.5" y="244.27" width="37.6" height="4" fill="#a7d5a2"/>
<polygon points="72.5,243.22 75.55,246.27 72.5,249.32 69.45,246.27" fill="#fff"/>
<polygon points="72.5,244.52 74.25,246.27 72.5,248.02 70.75,246.27" fill="#d95f02"/>
<circle cx="86.98" cy="246.27" r="2.6" fill="#fff"/>
<circle cx="86.98" cy="246.27" r="1.5" fill="#1b9e77"/>
<polygon points="103.33,244.47 101.48,247.87 105.18,247.87" fill="#fff" stroke="#fff" stroke-width="2.4" stroke-linejoin="miter"/>
<polygon points="103.33,244.47 101.48,247.87 105.18,247.87" fill="#e7298a"/>
<rect x="107.7" y="243.87" width="4.8" height="4.8" fill="#fff"/>
<rect x="108.8" y="244.97" width="2.6" height="2.6" fill="#7570b3"/>
<rect x="68.55" y="185.2" width="85.5" height="64.65" fill="none" stroke="#999" stroke-width="0.9"/>
<line x1="65.7" y1="189.3" x2="68.1" y2="189.3" stroke="#555" stroke-width="0.7"/>
<text x="62.1" y="191.5" font-size="7.6" fill="#1a1a1a" text-anchor="end">Fetal liver</text>
<line x1="65.7" y1="195.63" x2="68.1" y2="195.63" stroke="#555" stroke-width="0.7"/>
<text x="62.1" y="197.83" font-size="7.6" fill="#1a1a1a" text-anchor="end">HLCA</text>
<line x1="65.7" y1="201.96" x2="68.1" y2="201.96" stroke="#555" stroke-width="0.7"/>
<text x="62.1" y="204.16" font-size="7.6" fill="#1a1a1a" text-anchor="end">HLCA (Epithelial)</text>
<line x1="65.7" y1="208.29" x2="68.1" y2="208.29" stroke="#555" stroke-width="0.7"/>
<text x="62.1" y="210.49" font-size="7.6" fill="#1a1a1a" text-anchor="end">HLCA (immune)</text>
<line x1="65.7" y1="214.62" x2="68.1" y2="214.62" stroke="#555" stroke-width="0.7"/>
<text x="62.1" y="216.82" font-size="7.6" fill="#1a1a1a" text-anchor="end">Human endoderm</text>
<line x1="65.7" y1="220.95" x2="68.1" y2="220.95" stroke="#555" stroke-width="0.7"/>
<text x="62.1" y="223.15" font-size="7.6" fill="#1a1a1a" text-anchor="end">NeurIPS</text>
<line x1="65.7" y1="227.28" x2="68.1" y2="227.28" stroke="#555" stroke-width="0.7"/>
<text x="62.1" y="229.48" font-size="7.6" fill="#1a1a1a" text-anchor="end">Reed breast</text>
<line x1="65.7" y1="233.61" x2="68.1" y2="233.61" stroke="#555" stroke-width="0.7"/>
<text x="62.1" y="235.81" font-size="7.6" fill="#1a1a1a" text-anchor="end">scEiaD</text>
<line x1="65.7" y1="239.94" x2="68.1" y2="239.94" stroke="#555" stroke-width="0.7"/>
<text x="62.1" y="242.14" font-size="7.6" fill="#1a1a1a" text-anchor="end">scIB pancreas</text>
<line x1="65.7" y1="246.27" x2="68.1" y2="246.27" stroke="#555" stroke-width="0.7"/>
<text x="62.1" y="248.47" font-size="7.6" fill="#1a1a1a" text-anchor="end">Splat</text>
<line x1="72.2" y1="250.3" x2="72.2" y2="252.6" stroke="#555" stroke-width="0.7"/>
<text x="72.2" y="262.3" font-size="7.6" fill="#1a1a1a" text-anchor="middle">0</text>
<line x1="91.8" y1="250.3" x2="91.8" y2="252.6" stroke="#555" stroke-width="0.7"/>
<text x="91.8" y="262.3" font-size="7.6" fill="#1a1a1a" text-anchor="middle">0.25</text>
<line x1="111.4" y1="250.3" x2="111.4" y2="252.6" stroke="#555" stroke-width="0.7"/>
<text x="111.4" y="262.3" font-size="7.6" fill="#1a1a1a" text-anchor="middle">0.50</text>
<line x1="131" y1="250.3" x2="131" y2="252.6" stroke="#555" stroke-width="0.7"/>
<text x="131" y="262.3" font-size="7.6" fill="#1a1a1a" text-anchor="middle">0.75</text>
<line x1="150.6" y1="250.3" x2="150.6" y2="252.6" stroke="#555" stroke-width="0.7"/>
<text x="150.6" y="262.3" font-size="7.6" fill="#1a1a1a" text-anchor="middle">1.00</text>
<rect x="156.43" y="170.4" width="86.4" height="14.8" fill="#000"/>
<text x="199.63" y="180.1" font-size="8.1" fill="#fff" text-anchor="middle" textLength="18.5" lengthAdjust="spacingAndGlyphs">qLISI</text>
<line x1="160.53" y1="185.2" x2="160.53" y2="250.3" stroke="#ebebeb" stroke-width="0.6"/>
<line x1="170.33" y1="185.2" x2="170.33" y2="250.3" stroke="#f4f4f4" stroke-width="0.6"/>
<line x1="180.13" y1="185.2" x2="180.13" y2="250.3" stroke="#ebebeb" stroke-width="0.6"/>
<line x1="189.93" y1="185.2" x2="189.93" y2="250.3" stroke="#f4f4f4" stroke-width="0.6"/>
<line x1="199.73" y1="185.2" x2="199.73" y2="250.3" stroke="#ebebeb" stroke-width="0.6"/>
<line x1="209.53" y1="185.2" x2="209.53" y2="250.3" stroke="#f4f4f4" stroke-width="0.6"/>
<line x1="219.33" y1="185.2" x2="219.33" y2="250.3" stroke="#ebebeb" stroke-width="0.6"/>
<line x1="229.13" y1="185.2" x2="229.13" y2="250.3" stroke="#f4f4f4" stroke-width="0.6"/>
<line x1="238.93" y1="185.2" x2="238.93" y2="250.3" stroke="#ebebeb" stroke-width="0.6"/>
<line x1="156.43" y1="189.3" x2="242.83" y2="189.3" stroke="#ebebeb" stroke-width="0.6"/>
<line x1="156.43" y1="195.63" x2="242.83" y2="195.63" stroke="#ebebeb" stroke-width="0.6"/>
<line x1="156.43" y1="201.96" x2="242.83" y2="201.96" stroke="#ebebeb" stroke-width="0.6"/>
<line x1="156.43" y1="208.29" x2="242.83" y2="208.29" stroke="#ebebeb" stroke-width="0.6"/>
<line x1="156.43" y1="214.62" x2="242.83" y2="214.62" stroke="#ebebeb" stroke-width="0.6"/>
<line x1="156.43" y1="220.95" x2="242.83" y2="220.95" stroke="#ebebeb" stroke-width="0.6"/>
<line x1="156.43" y1="227.28" x2="242.83" y2="227.28" stroke="#ebebeb" stroke-width="0.6"/>
<line x1="156.43" y1="233.61" x2="242.83" y2="233.61" stroke="#ebebeb" stroke-width="0.6"/>
<line x1="156.43" y1="239.94" x2="242.83" y2="239.94" stroke="#ebebeb" stroke-width="0.6"/>
<line x1="156.43" y1="246.27" x2="242.83" y2="246.27" stroke="#ebebeb" stroke-width="0.6"/>
<rect x="165.38" y="187.3" width="27.24" height="4" fill="#a7d5a2"/>
<circle cx="165.38" cy="189.3" r="2.6" fill="#fff"/>
<circle cx="165.38" cy="189.3" r="1.5" fill="#1b9e77"/>
<polygon points="171.67,186.25 174.72,189.3 171.67,192.35 168.62,189.3" fill="#fff"/>
<polygon points="171.67,187.55 173.42,189.3 171.67,191.05 169.92,189.3" fill="#d95f02"/>
<rect x="183.16" y="186.9" width="4.8" height="4.8" fill="#fff"/>
<rect x="184.26" y="188" width="2.6" height="2.6" fill="#7570b3"/>
<polygon points="192.62,187.5 190.77,190.9 194.47,190.9" fill="#fff" stroke="#fff" stroke-width="2.4" stroke-linejoin="miter"/>
<polygon points="192.62,187.5 190.77,190.9 194.47,190.9" fill="#e7298a"/>
<rect x="162.67" y="193.63" width="38.02" height="4" fill="#a7d5a2"/>
<circle cx="162.67" cy="195.63" r="2.6" fill="#fff"/>
<circle cx="162.67" cy="195.63" r="1.5" fill="#1b9e77"/>
<rect x="183.16" y="193.23" width="4.8" height="4.8" fill="#fff"/>
<rect x="184.26" y="194.33" width="2.6" height="2.6" fill="#7570b3"/>
<polygon points="200.69,193.83 198.84,197.23 202.54,197.23" fill="#fff" stroke="#fff" stroke-width="2.4" stroke-linejoin="miter"/>
<polygon points="200.69,193.83 198.84,197.23 202.54,197.23" fill="#e7298a"/>
<rect x="166.93" y="199.96" width="30.42" height="4" fill="#a7d5a2"/>
<circle cx="166.93" cy="201.96" r="2.6" fill="#fff"/>
<circle cx="166.93" cy="201.96" r="1.5" fill="#1b9e77"/>
<rect x="183.16" y="199.56" width="4.8" height="4.8" fill="#fff"/>
<rect x="184.26" y="200.66" width="2.6" height="2.6" fill="#7570b3"/>
<polygon points="197.35,200.16 195.5,203.56 199.2,203.56" fill="#fff" stroke="#fff" stroke-width="2.4" stroke-linejoin="miter"/>
<polygon points="197.35,200.16 195.5,203.56 199.2,203.56" fill="#e7298a"/>
<rect x="161.81" y="206.29" width="49.43" height="4" fill="#a7d5a2"/>
<circle cx="161.81" cy="208.29" r="2.6" fill="#fff"/>
<circle cx="161.81" cy="208.29" r="1.5" fill="#1b9e77"/>
<rect x="189.83" y="205.89" width="4.8" height="4.8" fill="#fff"/>
<rect x="190.93" y="206.99" width="2.6" height="2.6" fill="#7570b3"/>
<polygon points="211.24,206.49 209.39,209.89 213.09,209.89" fill="#fff" stroke="#fff" stroke-width="2.4" stroke-linejoin="miter"/>
<polygon points="211.24,206.49 209.39,209.89 213.09,209.89" fill="#e7298a"/>
<rect x="162.67" y="212.62" width="30.8" height="4" fill="#a7d5a2"/>
<circle cx="162.67" cy="214.62" r="2.6" fill="#fff"/>
<circle cx="162.67" cy="214.62" r="1.5" fill="#1b9e77"/>
<polygon points="166,211.57 169.05,214.62 166,217.67 162.95,214.62" fill="#fff"/>
<polygon points="166,212.87 167.75,214.62 166,216.37 164.25,214.62" fill="#d95f02"/>
<rect x="187.27" y="212.22" width="4.8" height="4.8" fill="#fff"/>
<rect x="188.37" y="213.32" width="2.6" height="2.6" fill="#7570b3"/>
<polygon points="193.47,212.82 191.62,216.22 195.32,216.22" fill="#fff" stroke="#fff" stroke-width="2.4" stroke-linejoin="miter"/>
<polygon points="193.47,212.82 191.62,216.22 195.32,216.22" fill="#e7298a"/>
<rect x="203.17" y="218.95" width="8.07" height="4" fill="#a7d5a2"/>
<circle cx="203.17" cy="220.95" r="2.6" fill="#fff"/>
<circle cx="203.17" cy="220.95" r="1.5" fill="#1b9e77"/>
<polygon points="211.24,219.15 209.39,222.55 213.09,222.55" fill="#fff" stroke="#fff" stroke-width="2.4" stroke-linejoin="miter"/>
<polygon points="211.24,219.15 209.39,222.55 213.09,222.55" fill="#e7298a"/>
<rect x="174" y="225.28" width="12.57" height="4" fill="#a7d5a2"/>
<circle cx="174" cy="227.28" r="2.6" fill="#fff"/>
<circle cx="174" cy="227.28" r="1.5" fill="#1b9e77"/>
<rect x="180.98" y="224.88" width="4.8" height="4.8" fill="#fff"/>
<rect x="182.08" y="225.98" width="2.6" height="2.6" fill="#7570b3"/>
<polygon points="186.57,225.48 184.72,228.88 188.42,228.88" fill="#fff" stroke="#fff" stroke-width="2.4" stroke-linejoin="miter"/>
<polygon points="186.57,225.48 184.72,228.88 188.42,228.88" fill="#e7298a"/>
<rect x="164.37" y="231.61" width="12.18" height="4" fill="#a7d5a2"/>
<circle cx="164.37" cy="233.61" r="2.6" fill="#fff"/>
<circle cx="164.37" cy="233.61" r="1.5" fill="#1b9e77"/>
<rect x="170.66" y="231.21" width="4.8" height="4.8" fill="#fff"/>
<rect x="171.76" y="232.31" width="2.6" height="2.6" fill="#7570b3"/>
<polygon points="176.56,231.81 174.71,235.21 178.41,235.21" fill="#fff" stroke="#fff" stroke-width="2.4" stroke-linejoin="miter"/>
<polygon points="176.56,231.81 174.71,235.21 178.41,235.21" fill="#e7298a"/>
<rect x="166.55" y="237.94" width="33.13" height="4" fill="#a7d5a2"/>
<polygon points="166.55,236.89 169.6,239.94 166.55,242.99 163.5,239.94" fill="#fff"/>
<polygon points="166.55,238.19 168.3,239.94 166.55,241.69 164.8,239.94" fill="#d95f02"/>
<polygon points="188.35,238.14 186.5,241.54 190.2,241.54" fill="#fff" stroke="#fff" stroke-width="2.4" stroke-linejoin="miter"/>
<polygon points="188.35,238.14 186.5,241.54 190.2,241.54" fill="#e7298a"/>
<circle cx="199.68" cy="239.94" r="2.6" fill="#fff"/>
<circle cx="199.68" cy="239.94" r="1.5" fill="#1b9e77"/>
<rect x="221.48" y="244.27" width="8.38" height="4" fill="#a7d5a2"/>
<polygon points="221.48,243.22 224.53,246.27 221.48,249.32 218.43,246.27" fill="#fff"/>
<polygon points="221.48,244.52 223.23,246.27 221.48,248.02 219.73,246.27" fill="#d95f02"/>
<polygon points="225.36,244.47 223.51,247.87 227.21,247.87" fill="#fff" stroke="#fff" stroke-width="2.4" stroke-linejoin="miter"/>
<polygon points="225.36,244.47 223.51,247.87 227.21,247.87" fill="#e7298a"/>
<rect x="227.46" y="243.87" width="4.8" height="4.8" fill="#fff"/>
<rect x="228.56" y="244.97" width="2.6" height="2.6" fill="#7570b3"/>
<rect x="156.88" y="185.2" width="85.5" height="64.65" fill="none" stroke="#999" stroke-width="0.9"/>
<line x1="160.53" y1="250.3" x2="160.53" y2="252.6" stroke="#555" stroke-width="0.7"/>
<text x="160.53" y="262.3" font-size="7.6" fill="#1a1a1a" text-anchor="middle">0</text>
<line x1="180.13" y1="250.3" x2="180.13" y2="252.6" stroke="#555" stroke-width="0.7"/>
<text x="180.13" y="262.3" font-size="7.6" fill="#1a1a1a" text-anchor="middle">0.25</text>
<line x1="199.73" y1="250.3" x2="199.73" y2="252.6" stroke="#555" stroke-width="0.7"/>
<text x="199.73" y="262.3" font-size="7.6" fill="#1a1a1a" text-anchor="middle">0.50</text>
<line x1="219.33" y1="250.3" x2="219.33" y2="252.6" stroke="#555" stroke-width="0.7"/>
<text x="219.33" y="262.3" font-size="7.6" fill="#1a1a1a" text-anchor="middle">0.75</text>
<line x1="238.93" y1="250.3" x2="238.93" y2="252.6" stroke="#555" stroke-width="0.7"/>
<text x="238.93" y="262.3" font-size="7.6" fill="#1a1a1a" text-anchor="middle">1.00</text>
<rect x="244.76" y="170.4" width="86.4" height="14.8" fill="#000"/>
<text x="287.96" y="180.1" font-size="8.1" fill="#fff" text-anchor="middle" textLength="15.7" lengthAdjust="spacingAndGlyphs">Milo</text>
<line x1="248.86" y1="185.2" x2="248.86" y2="250.3" stroke="#ebebeb" stroke-width="0.6"/>
<line x1="258.66" y1="185.2" x2="258.66" y2="250.3" stroke="#f4f4f4" stroke-width="0.6"/>
<line x1="268.46" y1="185.2" x2="268.46" y2="250.3" stroke="#ebebeb" stroke-width="0.6"/>
<line x1="278.26" y1="185.2" x2="278.26" y2="250.3" stroke="#f4f4f4" stroke-width="0.6"/>
<line x1="288.06" y1="185.2" x2="288.06" y2="250.3" stroke="#ebebeb" stroke-width="0.6"/>
<line x1="297.86" y1="185.2" x2="297.86" y2="250.3" stroke="#f4f4f4" stroke-width="0.6"/>
<line x1="307.66" y1="185.2" x2="307.66" y2="250.3" stroke="#ebebeb" stroke-width="0.6"/>
<line x1="317.46" y1="185.2" x2="317.46" y2="250.3" stroke="#f4f4f4" stroke-width="0.6"/>
<line x1="327.26" y1="185.2" x2="327.26" y2="250.3" stroke="#ebebeb" stroke-width="0.6"/>
<line x1="244.76" y1="189.3" x2="331.16" y2="189.3" stroke="#ebebeb" stroke-width="0.6"/>
<line x1="244.76" y1="195.63" x2="331.16" y2="195.63" stroke="#ebebeb" stroke-width="0.6"/>
<line x1="244.76" y1="201.96" x2="331.16" y2="201.96" stroke="#ebebeb" stroke-width="0.6"/>
<line x1="244.76" y1="208.29" x2="331.16" y2="208.29" stroke="#ebebeb" stroke-width="0.6"/>
<line x1="244.76" y1="214.62" x2="331.16" y2="214.62" stroke="#ebebeb" stroke-width="0.6"/>
<line x1="244.76" y1="220.95" x2="331.16" y2="220.95" stroke="#ebebeb" stroke-width="0.6"/>
<line x1="244.76" y1="227.28" x2="331.16" y2="227.28" stroke="#ebebeb" stroke-width="0.6"/>
<line x1="244.76" y1="233.61" x2="331.16" y2="233.61" stroke="#ebebeb" stroke-width="0.6"/>
<line x1="244.76" y1="239.94" x2="331.16" y2="239.94" stroke="#ebebeb" stroke-width="0.6"/>
<line x1="244.76" y1="246.27" x2="331.16" y2="246.27" stroke="#ebebeb" stroke-width="0.6"/>
<rect x="259.7" y="187.3" width="65.59" height="4" fill="#fcba7a"/>
<polygon points="259.7,187.5 257.85,190.9 261.55,190.9" fill="#fff" stroke="#fff" stroke-width="2.4" stroke-linejoin="miter"/>
<polygon points="259.7,187.5 257.85,190.9 261.55,190.9" fill="#e7298a"/>
<rect x="292.72" y="186.9" width="4.8" height="4.8" fill="#fff"/>
<rect x="293.82" y="188" width="2.6" height="2.6" fill="#7570b3"/>
<polygon points="322.07,186.25 325.12,189.3 322.07,192.35 319.02,189.3" fill="#fff"/>
<polygon points="322.07,187.55 323.82,189.3 322.07,191.05 320.32,189.3" fill="#d95f02"/>
<circle cx="325.29" cy="189.3" r="2.6" fill="#fff"/>
<circle cx="325.29" cy="189.3" r="1.5" fill="#1b9e77"/>
<rect x="271.22" y="193.63" width="41.14" height="4" fill="#fcba7a"/>
<rect x="268.82" y="193.23" width="4.8" height="4.8" fill="#fff"/>
<rect x="269.92" y="194.33" width="2.6" height="2.6" fill="#7570b3"/>
<polygon points="286.65,193.83 284.8,197.23 288.5,197.23" fill="#fff" stroke="#fff" stroke-width="2.4" stroke-linejoin="miter"/>
<polygon points="286.65,193.83 284.8,197.23 288.5,197.23" fill="#e7298a"/>
<polygon points="303.35,192.58 306.4,195.63 303.35,198.68 300.3,195.63" fill="#fff"/>
<polygon points="303.35,193.88 305.1,195.63 303.35,197.38 301.6,195.63" fill="#d95f02"/>
<circle cx="312.36" cy="195.63" r="2.6" fill="#fff"/>
<circle cx="312.36" cy="195.63" r="1.5" fill="#1b9e77"/>
<rect x="266.91" y="199.96" width="43.26" height="4" fill="#fcba7a"/>
<rect x="264.51" y="199.56" width="4.8" height="4.8" fill="#fff"/>
<rect x="265.61" y="200.66" width="2.6" height="2.6" fill="#7570b3"/>
<polygon points="272.55,200.16 270.7,203.56 274.4,203.56" fill="#fff" stroke="#fff" stroke-width="2.4" stroke-linejoin="miter"/>
<polygon points="272.55,200.16 270.7,203.56 274.4,203.56" fill="#e7298a"/>
<polygon points="293.47,198.91 296.52,201.96 293.47,205.01 290.42,201.96" fill="#fff"/>
<polygon points="293.47,200.21 295.22,201.96 293.47,203.71 291.72,201.96" fill="#d95f02"/>
<circle cx="310.16" cy="201.96" r="2.6" fill="#fff"/>
<circle cx="310.16" cy="201.96" r="1.5" fill="#1b9e77"/>
<rect x="252.33" y="206.29" width="45.92" height="4" fill="#fcba7a"/>
<polygon points="252.33,206.49 250.48,209.89 254.18,209.89" fill="#fff" stroke="#fff" stroke-width="2.4" stroke-linejoin="miter"/>
<polygon points="252.33,206.49 250.48,209.89 254.18,209.89" fill="#e7298a"/>
<polygon points="286.42,205.24 289.47,208.29 286.42,211.34 283.37,208.29" fill="#fff"/>
<polygon points="286.42,206.54 288.17,208.29 286.42,210.04 284.67,208.29" fill="#d95f02"/>
<circle cx="298.25" cy="208.29" r="2.6" fill="#fff"/>
<circle cx="298.25" cy="208.29" r="1.5" fill="#1b9e77"/>
<rect x="252.72" y="212.62" width="33.7" height="4" fill="#fcba7a"/>
<polygon points="252.72,212.82 250.87,216.22 254.57,216.22" fill="#fff" stroke="#fff" stroke-width="2.4" stroke-linejoin="miter"/>
<polygon points="252.72,212.82 250.87,216.22 254.57,216.22" fill="#e7298a"/>
<rect x="257.3" y="212.22" width="4.8" height="4.8" fill="#fff"/>
<rect x="258.4" y="213.32" width="2.6" height="2.6" fill="#7570b3"/>
<polygon points="276.15,211.57 279.2,214.62 276.15,217.67 273.1,214.62" fill="#fff"/>
<polygon points="276.15,212.87 277.9,214.62 276.15,216.37 274.4,214.62" fill="#d95f02"/>
<circle cx="286.42" cy="214.62" r="2.6" fill="#fff"/>
<circle cx="286.42" cy="214.62" r="1.5" fill="#1b9e77"/>
<rect x="281.87" y="218.95" width="28.68" height="4" fill="#fcba7a"/>
<polygon points="281.87,219.15 280.02,222.55 283.72,222.55" fill="#fff" stroke="#fff" stroke-width="2.4" stroke-linejoin="miter"/>
<polygon points="281.87,219.15 280.02,222.55 283.72,222.55" fill="#e7298a"/>
<rect x="283.31" y="218.55" width="4.8" height="4.8" fill="#fff"/>
<rect x="284.41" y="219.65" width="2.6" height="2.6" fill="#7570b3"/>
<polygon points="301.15,217.9 304.2,220.95 301.15,224 298.1,220.95" fill="#fff"/>
<polygon points="301.15,219.2 302.9,220.95 301.15,222.7 299.4,220.95" fill="#d95f02"/>
<circle cx="310.55" cy="220.95" r="2.6" fill="#fff"/>
<circle cx="310.55" cy="220.95" r="1.5" fill="#1b9e77"/>
<rect x="290.89" y="225.28" width="32.52" height="4" fill="#fcba7a"/>
<rect x="288.49" y="224.88" width="4.8" height="4.8" fill="#fff"/>
<rect x="289.59" y="225.98" width="2.6" height="2.6" fill="#7570b3"/>
<polygon points="298.25,225.48 296.4,228.88 300.1,228.88" fill="#fff" stroke="#fff" stroke-width="2.4" stroke-linejoin="miter"/>
<polygon points="298.25,225.48 296.4,228.88 300.1,228.88" fill="#e7298a"/>
<circle cx="323.41" cy="227.28" r="2.6" fill="#fff"/>
<circle cx="323.41" cy="227.28" r="1.5" fill="#1b9e77"/>
<rect x="281.48" y="231.61" width="41.93" height="4" fill="#fcba7a"/>
<polygon points="281.48,231.81 279.63,235.21 283.33,235.21" fill="#fff" stroke="#fff" stroke-width="2.4" stroke-linejoin="miter"/>
<polygon points="281.48,231.81 279.63,235.21 283.33,235.21" fill="#e7298a"/>
<rect x="303.3" y="231.21" width="4.8" height="4.8" fill="#fff"/>
<rect x="304.4" y="232.31" width="2.6" height="2.6" fill="#7570b3"/>
<circle cx="323.41" cy="233.61" r="2.6" fill="#fff"/>
<circle cx="323.41" cy="233.61" r="1.5" fill="#1b9e77"/>
<rect x="248.88" y="237.94" width="56.5" height="4" fill="#fcba7a"/>
<polygon points="248.88,238.14 247.03,241.54 250.73,241.54" fill="#fff" stroke="#fff" stroke-width="2.4" stroke-linejoin="miter"/>
<polygon points="248.88,238.14 247.03,241.54 250.73,241.54" fill="#e7298a"/>
<rect x="252.52" y="237.54" width="4.8" height="4.8" fill="#fff"/>
<rect x="253.62" y="238.64" width="2.6" height="2.6" fill="#7570b3"/>
<circle cx="302.48" cy="239.94" r="2.6" fill="#fff"/>
<circle cx="302.48" cy="239.94" r="1.5" fill="#1b9e77"/>
<polygon points="305.38,236.89 308.43,239.94 305.38,242.99 302.33,239.94" fill="#fff"/>
<polygon points="305.38,238.19 307.13,239.94 305.38,241.69 303.63,239.94" fill="#d95f02"/>
<rect x="285.71" y="244.27" width="39.18" height="4" fill="#fcba7a"/>
<polygon points="285.71,244.47 283.86,247.87 287.56,247.87" fill="#fff" stroke="#fff" stroke-width="2.4" stroke-linejoin="miter"/>
<polygon points="285.71,244.47 283.86,247.87 287.56,247.87" fill="#e7298a"/>
<rect x="287.62" y="243.87" width="4.8" height="4.8" fill="#fff"/>
<rect x="288.72" y="244.97" width="2.6" height="2.6" fill="#7570b3"/>
<circle cx="316.2" cy="246.27" r="2.6" fill="#fff"/>
<circle cx="316.2" cy="246.27" r="1.5" fill="#1b9e77"/>
<polygon points="324.9,243.22 327.95,246.27 324.9,249.32 321.85,246.27" fill="#fff"/>
<polygon points="324.9,244.52 326.65,246.27 324.9,248.02 323.15,246.27" fill="#d95f02"/>
<rect x="245.21" y="185.2" width="85.5" height="64.65" fill="none" stroke="#999" stroke-width="0.9"/>
<line x1="248.86" y1="250.3" x2="248.86" y2="252.6" stroke="#555" stroke-width="0.7"/>
<text x="248.86" y="262.3" font-size="7.6" fill="#1a1a1a" text-anchor="middle">0</text>
<line x1="268.46" y1="250.3" x2="268.46" y2="252.6" stroke="#555" stroke-width="0.7"/>
<text x="268.46" y="262.3" font-size="7.6" fill="#1a1a1a" text-anchor="middle">0.25</text>
<line x1="288.06" y1="250.3" x2="288.06" y2="252.6" stroke="#555" stroke-width="0.7"/>
<text x="288.06" y="262.3" font-size="7.6" fill="#1a1a1a" text-anchor="middle">0.50</text>
<line x1="307.66" y1="250.3" x2="307.66" y2="252.6" stroke="#555" stroke-width="0.7"/>
<text x="307.66" y="262.3" font-size="7.6" fill="#1a1a1a" text-anchor="middle">0.75</text>
<line x1="327.26" y1="250.3" x2="327.26" y2="252.6" stroke="#555" stroke-width="0.7"/>
<text x="327.26" y="262.3" font-size="7.6" fill="#1a1a1a" text-anchor="middle">1.00</text>
<rect x="333.09" y="170.4" width="86.4" height="14.8" fill="#000"/>
<text x="376.29" y="180.1" font-size="8.1" fill="#fff" text-anchor="middle" textLength="77.5" lengthAdjust="spacingAndGlyphs">Unseen cell distance</text>
<line x1="337.19" y1="185.2" x2="337.19" y2="250.3" stroke="#ebebeb" stroke-width="0.6"/>
<line x1="346.99" y1="185.2" x2="346.99" y2="250.3" stroke="#f4f4f4" stroke-width="0.6"/>
<line x1="356.79" y1="185.2" x2="356.79" y2="250.3" stroke="#ebebeb" stroke-width="0.6"/>
<line x1="366.59" y1="185.2" x2="366.59" y2="250.3" stroke="#f4f4f4" stroke-width="0.6"/>
<line x1="376.39" y1="185.2" x2="376.39" y2="250.3" stroke="#ebebeb" stroke-width="0.6"/>
<line x1="386.19" y1="185.2" x2="386.19" y2="250.3" stroke="#f4f4f4" stroke-width="0.6"/>
<line x1="395.99" y1="185.2" x2="395.99" y2="250.3" stroke="#ebebeb" stroke-width="0.6"/>
<line x1="405.79" y1="185.2" x2="405.79" y2="250.3" stroke="#f4f4f4" stroke-width="0.6"/>
<line x1="415.59" y1="185.2" x2="415.59" y2="250.3" stroke="#ebebeb" stroke-width="0.6"/>
<line x1="333.09" y1="189.3" x2="419.49" y2="189.3" stroke="#ebebeb" stroke-width="0.6"/>
<line x1="333.09" y1="195.63" x2="419.49" y2="195.63" stroke="#ebebeb" stroke-width="0.6"/>
<line x1="333.09" y1="201.96" x2="419.49" y2="201.96" stroke="#ebebeb" stroke-width="0.6"/>
<line x1="333.09" y1="208.29" x2="419.49" y2="208.29" stroke="#ebebeb" stroke-width="0.6"/>
<line x1="333.09" y1="214.62" x2="419.49" y2="214.62" stroke="#ebebeb" stroke-width="0.6"/>
<line x1="333.09" y1="220.95" x2="419.49" y2="220.95" stroke="#ebebeb" stroke-width="0.6"/>
<line x1="333.09" y1="227.28" x2="419.49" y2="227.28" stroke="#ebebeb" stroke-width="0.6"/>
<line x1="333.09" y1="233.61" x2="419.49" y2="233.61" stroke="#ebebeb" stroke-width="0.6"/>
<line x1="333.09" y1="239.94" x2="419.49" y2="239.94" stroke="#ebebeb" stroke-width="0.6"/>
<line x1="333.09" y1="246.27" x2="419.49" y2="246.27" stroke="#ebebeb" stroke-width="0.6"/>
<rect x="338.41" y="187.3" width="35.3" height="4" fill="#fcba7a"/>
<polygon points="338.41,187.5 336.56,190.9 340.26,190.9" fill="#fff" stroke="#fff" stroke-width="2.4" stroke-linejoin="miter"/>
<polygon points="338.41,187.5 336.56,190.9 340.26,190.9" fill="#e7298a"/>
<rect x="339.21" y="186.9" width="4.8" height="4.8" fill="#fff"/>
<rect x="340.31" y="188" width="2.6" height="2.6" fill="#7570b3"/>
<circle cx="369.26" cy="189.3" r="2.6" fill="#fff"/>
<circle cx="369.26" cy="189.3" r="1.5" fill="#1b9e77"/>
<polygon points="373.72,186.25 376.77,189.3 373.72,192.35 370.67,189.3" fill="#fff"/>
<polygon points="373.72,187.55 375.47,189.3 373.72,191.05 371.97,189.3" fill="#d95f02"/>
<rect x="337.4" y="193.63" width="3.83" height="4" fill="#fcba7a"/>
<polygon points="337.4,193.83 335.55,197.23 339.25,197.23" fill="#fff" stroke="#fff" stroke-width="2.4" stroke-linejoin="miter"/>
<polygon points="337.4,193.83 335.55,197.23 339.25,197.23" fill="#e7298a"/>
<circle cx="341.22" cy="195.63" r="2.6" fill="#fff"/>
<circle cx="341.22" cy="195.63" r="1.5" fill="#1b9e77"/>
<rect x="337.4" y="199.96" width="4.61" height="4" fill="#fcba7a"/>
<polygon points="337.4,200.16 335.55,203.56 339.25,203.56" fill="#fff" stroke="#fff" stroke-width="2.4" stroke-linejoin="miter"/>
<polygon points="337.4,200.16 335.55,203.56 339.25,203.56" fill="#e7298a"/>
<circle cx="342" cy="201.96" r="2.6" fill="#fff"/>
<circle cx="342" cy="201.96" r="1.5" fill="#1b9e77"/>
<rect x="337.4" y="206.29" width="10.7" height="4" fill="#fcba7a"/>
<polygon points="337.4,206.49 335.55,209.89 339.25,209.89" fill="#fff" stroke="#fff" stroke-width="2.4" stroke-linejoin="miter"/>
<polygon points="337.4,206.49 335.55,209.89 339.25,209.89" fill="#e7298a"/>
<polygon points="344.19,205.24 347.24,208.29 344.19,211.34 341.14,208.29" fill="#fff"/>
<polygon points="344.19,206.54 345.94,208.29 344.19,210.04 342.44,208.29" fill="#d95f02"/>
<circle cx="348.1" cy="208.29" r="2.6" fill="#fff"/>
<circle cx="348.1" cy="208.29" r="1.5" fill="#1b9e77"/>
<rect x="338.41" y="212.62" width="5.16" height="4" fill="#fcba7a"/>
<polygon points="338.41,212.82 336.56,216.22 340.26,216.22" fill="#fff" stroke="#fff" stroke-width="2.4" stroke-linejoin="miter"/>
<polygon points="338.41,212.82 336.56,216.22 340.26,216.22" fill="#e7298a"/>
<circle cx="343.57" cy="214.62" r="2.6" fill="#fff"/>
<circle cx="343.57" cy="214.62" r="1.5" fill="#1b9e77"/>
<rect x="347.39" y="218.95" width="14.41" height="4" fill="#fcba7a"/>
<rect x="344.99" y="218.55" width="4.8" height="4.8" fill="#fff"/>
<rect x="346.09" y="219.65" width="2.6" height="2.6" fill="#7570b3"/>
<polygon points="355.36,219.15 353.51,222.55 357.21,222.55" fill="#fff" stroke="#fff" stroke-width="2.4" stroke-linejoin="miter"/>
<polygon points="355.36,219.15 353.51,222.55 357.21,222.55" fill="#e7298a"/>
<polygon points="361.8,217.9 364.85,220.95 361.8,224 358.75,220.95" fill="#fff"/>
<polygon points="361.8,219.2 363.55,220.95 361.8,222.7 360.05,220.95" fill="#d95f02"/>
<rect x="337.4" y="225.28" width="23.51" height="4" fill="#fcba7a"/>
<polygon points="337.4,225.48 335.55,228.88 339.25,228.88" fill="#fff" stroke="#fff" stroke-width="2.4" stroke-linejoin="miter"/>
<polygon points="337.4,225.48 335.55,228.88 339.25,228.88" fill="#e7298a"/>
<polygon points="349.11,224.23 352.16,227.28 349.11,230.33 346.06,227.28" fill="#fff"/>
<polygon points="349.11,225.53 350.86,227.28 349.11,229.03 347.36,227.28" fill="#d95f02"/>
<circle cx="360.91" cy="227.28" r="2.6" fill="#fff"/>
<circle cx="360.91" cy="227.28" r="1.5" fill="#1b9e77"/>
<rect x="339.04" y="231.61" width="26.4" height="4" fill="#fcba7a"/>
<polygon points="339.04,231.81 337.19,235.21 340.89,235.21" fill="#fff" stroke="#fff" stroke-width="2.4" stroke-linejoin="miter"/>
<polygon points="339.04,231.81 337.19,235.21 340.89,235.21" fill="#e7298a"/>
<polygon points="361.53,230.56 364.58,233.61 361.53,236.66 358.48,233.61" fill="#fff"/>
<polygon points="361.53,231.86 363.28,233.61 361.53,235.36 359.78,233.61" fill="#d95f02"/>
<circle cx="365.44" cy="233.61" r="2.6" fill="#fff"/>
<circle cx="365.44" cy="233.61" r="1.5" fill="#1b9e77"/>
<rect x="337.4" y="237.94" width="40.62" height="4" fill="#fcba7a"/>
<polygon points="337.4,238.14 335.55,241.54 339.25,241.54" fill="#fff" stroke="#fff" stroke-width="2.4" stroke-linejoin="miter"/>
<polygon points="337.4,238.14 335.55,241.54 339.25,241.54" fill="#e7298a"/>
<circle cx="365.12" cy="239.94" r="2.6" fill="#fff"/>
<circle cx="365.12" cy="239.94" r="1.5" fill="#1b9e77"/>
<polygon points="378.01,236.89 381.06,239.94 378.01,242.99 374.96,239.94" fill="#fff"/>
<polygon points="378.01,238.19 379.76,239.94 378.01,241.69 376.26,239.94" fill="#d95f02"/>
<rect x="337.79" y="244.27" width="76.47" height="4" fill="#fcba7a"/>
<polygon points="337.79,244.47 335.94,247.87 339.64,247.87" fill="#fff" stroke="#fff" stroke-width="2.4" stroke-linejoin="miter"/>
<polygon points="337.79,244.47 335.94,247.87 339.64,247.87" fill="#e7298a"/>
<rect x="360.15" y="243.87" width="4.8" height="4.8" fill="#fff"/>
<rect x="361.25" y="244.97" width="2.6" height="2.6" fill="#7570b3"/>
<circle cx="403.94" cy="246.27" r="2.6" fill="#fff"/>
<circle cx="403.94" cy="246.27" r="1.5" fill="#1b9e77"/>
<polygon points="414.25,243.22 417.3,246.27 414.25,249.32 411.2,246.27" fill="#fff"/>
<polygon points="414.25,244.52 416,246.27 414.25,248.02 412.5,246.27" fill="#d95f02"/>
<rect x="333.54" y="185.2" width="85.5" height="64.65" fill="none" stroke="#999" stroke-width="0.9"/>
<line x1="337.19" y1="250.3" x2="337.19" y2="252.6" stroke="#555" stroke-width="0.7"/>
<text x="337.19" y="262.3" font-size="7.6" fill="#1a1a1a" text-anchor="middle">0</text>
<line x1="356.79" y1="250.3" x2="356.79" y2="252.6" stroke="#555" stroke-width="0.7"/>
<text x="356.79" y="262.3" font-size="7.6" fill="#1a1a1a" text-anchor="middle">0.25</text>
<line x1="376.39" y1="250.3" x2="376.39" y2="252.6" stroke="#555" stroke-width="0.7"/>
<text x="376.39" y="262.3" font-size="7.6" fill="#1a1a1a" text-anchor="middle">0.50</text>
<line x1="395.99" y1="250.3" x2="395.99" y2="252.6" stroke="#555" stroke-width="0.7"/>
<text x="395.99" y="262.3" font-size="7.6" fill="#1a1a1a" text-anchor="middle">0.75</text>
<line x1="415.59" y1="250.3" x2="415.59" y2="252.6" stroke="#555" stroke-width="0.7"/>
<text x="415.59" y="262.3" font-size="7.6" fill="#1a1a1a" text-anchor="middle">1.00</text>
<rect x="421.42" y="170.4" width="86.4" height="14.8" fill="#000"/>
<text x="464.62" y="180.1" font-size="8.1" fill="#fff" text-anchor="middle" textLength="81.4" lengthAdjust="spacingAndGlyphs">Unseen label distance</text>
<line x1="425.52" y1="185.2" x2="425.52" y2="250.3" stroke="#ebebeb" stroke-width="0.6"/>
<line x1="435.32" y1="185.2" x2="435.32" y2="250.3" stroke="#f4f4f4" stroke-width="0.6"/>
<line x1="445.12" y1="185.2" x2="445.12" y2="250.3" stroke="#ebebeb" stroke-width="0.6"/>
<line x1="454.92" y1="185.2" x2="454.92" y2="250.3" stroke="#f4f4f4" stroke-width="0.6"/>
<line x1="464.72" y1="185.2" x2="464.72" y2="250.3" stroke="#ebebeb" stroke-width="0.6"/>
<line x1="474.52" y1="185.2" x2="474.52" y2="250.3" stroke="#f4f4f4" stroke-width="0.6"/>
<line x1="484.32" y1="185.2" x2="484.32" y2="250.3" stroke="#ebebeb" stroke-width="0.6"/>
<line x1="494.12" y1="185.2" x2="494.12" y2="250.3" stroke="#f4f4f4" stroke-width="0.6"/>
<line x1="503.92" y1="185.2" x2="503.92" y2="250.3" stroke="#ebebeb" stroke-width="0.6"/>
<line x1="421.42" y1="189.3" x2="507.82" y2="189.3" stroke="#ebebeb" stroke-width="0.6"/>
<line x1="421.42" y1="195.63" x2="507.82" y2="195.63" stroke="#ebebeb" stroke-width="0.6"/>
<line x1="421.42" y1="201.96" x2="507.82" y2="201.96" stroke="#ebebeb" stroke-width="0.6"/>
<line x1="421.42" y1="208.29" x2="507.82" y2="208.29" stroke="#ebebeb" stroke-width="0.6"/>
<line x1="421.42" y1="214.62" x2="507.82" y2="214.62" stroke="#ebebeb" stroke-width="0.6"/>
<line x1="421.42" y1="220.95" x2="507.82" y2="220.95" stroke="#ebebeb" stroke-width="0.6"/>
<line x1="421.42" y1="227.28" x2="507.82" y2="227.28" stroke="#ebebeb" stroke-width="0.6"/>
<line x1="421.42" y1="233.61" x2="507.82" y2="233.61" stroke="#ebebeb" stroke-width="0.6"/>
<line x1="421.42" y1="239.94" x2="507.82" y2="239.94" stroke="#ebebeb" stroke-width="0.6"/>
<line x1="421.42" y1="246.27" x2="507.82" y2="246.27" stroke="#ebebeb" stroke-width="0.6"/>
<rect x="442.9" y="187.3" width="41.6" height="4" fill="#fcba7a"/>
<polygon points="442.9,187.5 441.05,190.9 444.75,190.9" fill="#fff" stroke="#fff" stroke-width="2.4" stroke-linejoin="miter"/>
<polygon points="442.9,187.5 441.05,190.9 444.75,190.9" fill="#e7298a"/>
<rect x="452.51" y="186.9" width="4.8" height="4.8" fill="#fff"/>
<rect x="453.61" y="188" width="2.6" height="2.6" fill="#7570b3"/>
<polygon points="466.53,186.25 469.58,189.3 466.53,192.35 463.48,189.3" fill="#fff"/>
<polygon points="466.53,187.55 468.28,189.3 466.53,191.05 464.78,189.3" fill="#d95f02"/>
<circle cx="484.5" cy="189.3" r="2.6" fill="#fff"/>
<circle cx="484.5" cy="189.3" r="1.5" fill="#1b9e77"/>
<rect x="438.66" y="193.63" width="31.71" height="4" fill="#fcba7a"/>
<polygon points="438.66,193.83 436.81,197.23 440.51,197.23" fill="#fff" stroke="#fff" stroke-width="2.4" stroke-linejoin="miter"/>
<polygon points="438.66,193.83 436.81,197.23 440.51,197.23" fill="#e7298a"/>
<rect x="446.15" y="193.23" width="4.8" height="4.8" fill="#fff"/>
<rect x="447.25" y="194.33" width="2.6" height="2.6" fill="#7570b3"/>
<polygon points="465.19,192.58 468.24,195.63 465.19,198.68 462.14,195.63" fill="#fff"/>
<polygon points="465.19,193.88 466.94,195.63 465.19,197.38 463.44,195.63" fill="#d95f02"/>
<circle cx="470.37" cy="195.63" r="2.6" fill="#fff"/>
<circle cx="470.37" cy="195.63" r="1.5" fill="#1b9e77"/>
<rect x="436.07" y="199.96" width="33.36" height="4" fill="#fcba7a"/>
<polygon points="436.07,200.16 434.22,203.56 437.92,203.56" fill="#fff" stroke="#fff" stroke-width="2.4" stroke-linejoin="miter"/>
<polygon points="436.07,200.16 434.22,203.56 437.92,203.56" fill="#e7298a"/>
<rect x="445.21" y="199.56" width="4.8" height="4.8" fill="#fff"/>
<rect x="446.31" y="200.66" width="2.6" height="2.6" fill="#7570b3"/>
<polygon points="462.13,198.91 465.18,201.96 462.13,205.01 459.08,201.96" fill="#fff"/>
<polygon points="462.13,200.21 463.88,201.96 462.13,203.71 460.38,201.96" fill="#d95f02"/>
<circle cx="469.43" cy="201.96" r="2.6" fill="#fff"/>
<circle cx="469.43" cy="201.96" r="1.5" fill="#1b9e77"/>
<rect x="439.52" y="206.29" width="22.61" height="4" fill="#fcba7a"/>
<polygon points="439.52,206.49 437.67,209.89 441.37,209.89" fill="#fff" stroke="#fff" stroke-width="2.4" stroke-linejoin="miter"/>
<polygon points="439.52,206.49 437.67,209.89 441.37,209.89" fill="#e7298a"/>
<rect x="443.33" y="205.89" width="4.8" height="4.8" fill="#fff"/>
<rect x="444.43" y="206.99" width="2.6" height="2.6" fill="#7570b3"/>
<polygon points="458.28,205.24 461.33,208.29 458.28,211.34 455.23,208.29" fill="#fff"/>
<polygon points="458.28,206.54 460.03,208.29 458.28,210.04 456.53,208.29" fill="#d95f02"/>
<circle cx="462.13" cy="208.29" r="2.6" fill="#fff"/>
<circle cx="462.13" cy="208.29" r="1.5" fill="#1b9e77"/>
<rect x="446.35" y="212.62" width="17.03" height="4" fill="#fcba7a"/>
<polygon points="446.35,212.82 444.5,216.22 448.2,216.22" fill="#fff" stroke="#fff" stroke-width="2.4" stroke-linejoin="miter"/>
<polygon points="446.35,212.82 444.5,216.22 448.2,216.22" fill="#e7298a"/>
<rect x="447.41" y="212.22" width="4.8" height="4.8" fill="#fff"/>
<rect x="448.51" y="213.32" width="2.6" height="2.6" fill="#7570b3"/>
<circle cx="463.39" cy="214.62" r="2.6" fill="#fff"/>
<circle cx="463.39" cy="214.62" r="1.5" fill="#1b9e77"/>
<rect x="444.63" y="218.95" width="10.28" height="4" fill="#fcba7a"/>
<polygon points="444.63,217.9 447.68,220.95 444.63,224 441.58,220.95" fill="#fff"/>
<polygon points="444.63,219.2 446.38,220.95 444.63,222.7 442.88,220.95" fill="#d95f02"/>
<rect x="446.54" y="218.55" width="4.8" height="4.8" fill="#fff"/>
<rect x="447.64" y="219.65" width="2.6" height="2.6" fill="#7570b3"/>
<polygon points="454.91,219.15 453.06,222.55 456.76,222.55" fill="#fff" stroke="#fff" stroke-width="2.4" stroke-linejoin="miter"/>
<polygon points="454.91,219.15 453.06,222.55 456.76,222.55" fill="#e7298a"/>
<rect x="438.66" y="225.28" width="37.83" height="4" fill="#fcba7a"/>
<polygon points="438.66,225.48 436.81,228.88 440.51,228.88" fill="#fff" stroke="#fff" stroke-width="2.4" stroke-linejoin="miter"/>
<polygon points="438.66,225.48 436.81,228.88 440.51,228.88" fill="#e7298a"/>
<rect x="443.33" y="224.88" width="4.8" height="4.8" fill="#fff"/>
<rect x="444.43" y="225.98" width="2.6" height="2.6" fill="#7570b3"/>
<polygon points="458.83,224.23 461.88,227.28 458.83,230.33 455.78,227.28" fill="#fff"/>
<polygon points="458.83,225.53 460.58,227.28 458.83,229.03 457.08,227.28" fill="#d95f02"/>
<circle cx="476.49" cy="227.28" r="2.6" fill="#fff"/>
<circle cx="476.49" cy="227.28" r="1.5" fill="#1b9e77"/>
<rect x="441.57" y="231.61" width="20.17" height="4" fill="#fcba7a"/>
<polygon points="441.57,231.81 439.72,235.21 443.42,235.21" fill="#fff" stroke="#fff" stroke-width="2.4" stroke-linejoin="miter"/>
<polygon points="441.57,231.81 439.72,235.21 443.42,235.21" fill="#e7298a"/>
<rect x="444.82" y="231.21" width="4.8" height="4.8" fill="#fff"/>
<rect x="445.92" y="232.31" width="2.6" height="2.6" fill="#7570b3"/>
<polygon points="453.65,230.56 456.7,233.61 453.65,236.66 450.6,233.61" fill="#fff"/>
<polygon points="453.65,231.86 455.4,233.61 453.65,235.36 451.9,233.61" fill="#d95f02"/>
<circle cx="461.74" cy="233.61" r="2.6" fill="#fff"/>
<circle cx="461.74" cy="233.61" r="1.5" fill="#1b9e77"/>
<rect x="477.2" y="237.94" width="20.17" height="4" fill="#fcba7a"/>
<rect x="474.8" y="237.54" width="4.8" height="4.8" fill="#fff"/>
<rect x="475.9" y="238.64" width="2.6" height="2.6" fill="#7570b3"/>
<polygon points="484.27,238.14 482.42,241.54 486.12,241.54" fill="#fff" stroke="#fff" stroke-width="2.4" stroke-linejoin="miter"/>
<polygon points="484.27,238.14 482.42,241.54 486.12,241.54" fill="#e7298a"/>
<circle cx="497.37" cy="239.94" r="2.6" fill="#fff"/>
<circle cx="497.37" cy="239.94" r="1.5" fill="#1b9e77"/>
<rect x="436.07" y="244.27" width="44.58" height="4" fill="#fcba7a"/>
<polygon points="436.07,244.47 434.22,247.87 437.92,247.87" fill="#fff" stroke="#fff" stroke-width="2.4" stroke-linejoin="miter"/>
<polygon points="436.07,244.47 434.22,247.87 437.92,247.87" fill="#e7298a"/>
<rect x="444.35" y="243.87" width="4.8" height="4.8" fill="#fff"/>
<rect x="445.45" y="244.97" width="2.6" height="2.6" fill="#7570b3"/>
<circle cx="462.68" cy="246.27" r="2.6" fill="#fff"/>
<circle cx="462.68" cy="246.27" r="1.5" fill="#1b9e77"/>
<polygon points="480.65,243.22 483.7,246.27 480.65,249.32 477.6,246.27" fill="#fff"/>
<polygon points="480.65,244.52 482.4,246.27 480.65,248.02 478.9,246.27" fill="#d95f02"/>
<rect x="421.87" y="185.2" width="85.5" height="64.65" fill="none" stroke="#999" stroke-width="0.9"/>
<line x1="425.52" y1="250.3" x2="425.52" y2="252.6" stroke="#555" stroke-width="0.7"/>
<text x="425.52" y="262.3" font-size="7.6" fill="#1a1a1a" text-anchor="middle">0</text>
<line x1="445.12" y1="250.3" x2="445.12" y2="252.6" stroke="#555" stroke-width="0.7"/>
<text x="445.12" y="262.3" font-size="7.6" fill="#1a1a1a" text-anchor="middle">0.25</text>
<line x1="464.72" y1="250.3" x2="464.72" y2="252.6" stroke="#555" stroke-width="0.7"/>
<text x="464.72" y="262.3" font-size="7.6" fill="#1a1a1a" text-anchor="middle">0.50</text>
<line x1="484.32" y1="250.3" x2="484.32" y2="252.6" stroke="#555" stroke-width="0.7"/>
<text x="484.32" y="262.3" font-size="7.6" fill="#1a1a1a" text-anchor="middle">0.75</text>
<line x1="503.92" y1="250.3" x2="503.92" y2="252.6" stroke="#555" stroke-width="0.7"/>
<text x="503.92" y="262.3" font-size="7.6" fill="#1a1a1a" text-anchor="middle">1.00</text>
<text x="376.4" y="275.6" font-size="9.1" fill="#1a1a1a" text-anchor="middle">Metric value (higher is better)</text>
<text x="518.9" y="192.8" font-size="8.9" fill="#1a1a1a">Baseline method</text>
<text x="604" y="193.1" font-size="9.2" fill="#1a1a1a">Metric type</text>
<circle cx="515.9" cy="211" r="1.35" fill="#1b9e77"/>
<text x="520.8" y="209.1" font-size="7.3" fill="#1a1a1a">Scanpy–Cell Ranger</text>
<text x="520.8" y="217.5" font-size="7.3" fill="#1a1a1a">(<tspan font-style="italic">n</tspan> = 2,000, batch = true)</text>
<polygon points="515.9,226 517.3,227.4 515.9,228.8 514.5,227.4" fill="#d95f02"/>
<text x="520.8" y="229.8" font-size="7.3" fill="#1a1a1a">All</text>
<rect x="514.9" y="238.4" width="2" height="2" fill="#7570b3"/>
<text x="520.8" y="241.8" font-size="7.3" fill="#1a1a1a">Random (<tspan font-style="italic">n</tspan> = 500)</text>
<polygon points="515.9,249.7 517.4,252.4 514.4,252.4" fill="#e7298a"/>
<text x="520.8" y="253.6" font-size="7.3" fill="#1a1a1a">scSEGIndex</text>
<rect x="606.4" y="207.9" width="9.5" height="4.8" fill="#f08c8d"/>
<text x="618.9" y="212.9" font-size="7.45" fill="#1a1a1a">Integration (Batch)</text>
<rect x="606.4" y="218.05" width="9.5" height="4.8" fill="#99bbda"/>
<text x="618.9" y="223.05" font-size="7.45" fill="#1a1a1a">Integration (Bio)</text>
<rect x="606.4" y="228.2" width="9.5" height="4.8" fill="#a7d5a2"/>
<text x="618.9" y="233.2" font-size="7.45" fill="#1a1a1a">Mapping</text>
<rect x="606.4" y="238.35" width="9.5" height="4.8" fill="#c9a2d0"/>
<text x="618.9" y="243.35" font-size="7.45" fill="#1a1a1a">Classification</text>
<rect x="606.4" y="248.5" width="9.5" height="4.8" fill="#fcba7a"/>
<text x="618.9" y="253.5" font-size="7.45" fill="#1a1a1a">Unseen populations</text>
<text x="0" y="290.1" font-size="12.6" fill="#000" font-weight="bold" stroke="#000" stroke-width="0.45">b</text>
<rect x="10.6" y="302" width="673.8" height="31.8" rx="15.9" ry="15.9" fill="#e8f0b4"/>
<rect x="10.6" y="335.0" width="673.8" height="122.6" rx="15.5" ry="15.5" fill="#b3e6df"/>
<rect x="10.6" y="458.8" width="673.8" height="31.0" rx="15.5" ry="15.5" fill="#f8b3d9"/>
<line x1="142.81" y1="304.7" x2="142.81" y2="330.6" stroke="#fff" stroke-opacity="0.6" stroke-width="0.6"/>
<line x1="158.03" y1="304.7" x2="158.03" y2="330.6" stroke="#fff" stroke-opacity="0.6" stroke-width="0.6"/>
<line x1="173.24" y1="304.7" x2="173.24" y2="330.6" stroke="#fff" stroke-opacity="0.6" stroke-width="0.6"/>
<line x1="188.45" y1="304.7" x2="188.45" y2="330.6" stroke="#fff" stroke-opacity="0.6" stroke-width="0.6"/>
<line x1="203.66" y1="304.7" x2="203.66" y2="330.6" stroke="#fff" stroke-opacity="0.6" stroke-width="0.6"/>
<line x1="218.88" y1="304.7" x2="218.88" y2="330.6" stroke="#fff" stroke-opacity="0.6" stroke-width="0.6"/>
<line x1="234.09" y1="304.7" x2="234.09" y2="330.6" stroke="#fff" stroke-opacity="0.6" stroke-width="0.6"/>
<line x1="249.3" y1="304.7" x2="249.3" y2="330.6" stroke="#fff" stroke-opacity="0.6" stroke-width="0.6"/>
<line x1="301.1" y1="304.7" x2="301.1" y2="330.6" stroke="#fff" stroke-opacity="0.6" stroke-width="0.6"/>
<line x1="325.8" y1="304.7" x2="325.8" y2="330.6" stroke="#fff" stroke-opacity="0.6" stroke-width="0.6"/>
<line x1="350.5" y1="304.7" x2="350.5" y2="330.6" stroke="#fff" stroke-opacity="0.6" stroke-width="0.6"/>
<line x1="375.2" y1="304.7" x2="375.2" y2="330.6" stroke="#fff" stroke-opacity="0.6" stroke-width="0.6"/>
<line x1="441" y1="304.7" x2="441" y2="330.6" stroke="#fff" stroke-opacity="0.6" stroke-width="0.6"/>
<line x1="471.5" y1="304.7" x2="471.5" y2="330.6" stroke="#fff" stroke-opacity="0.6" stroke-width="0.6"/>
<line x1="502" y1="304.7" x2="502" y2="330.6" stroke="#fff" stroke-opacity="0.6" stroke-width="0.6"/>
<line x1="532.5" y1="304.7" x2="532.5" y2="330.6" stroke="#fff" stroke-opacity="0.6" stroke-width="0.6"/>
<line x1="583" y1="304.7" x2="583" y2="330.6" stroke="#fff" stroke-opacity="0.6" stroke-width="0.6"/>
<line x1="613.4" y1="304.7" x2="613.4" y2="330.6" stroke="#fff" stroke-opacity="0.6" stroke-width="0.6"/>
<line x1="643.8" y1="304.7" x2="643.8" y2="330.6" stroke="#fff" stroke-opacity="0.6" stroke-width="0.6"/>
<line x1="674.2" y1="304.7" x2="674.2" y2="330.6" stroke="#fff" stroke-opacity="0.6" stroke-width="0.6"/>
<rect x="127.6" y="307.9" width="110.75" height="1.43" fill="#ff7f00"/>
<rect x="127.6" y="308.93" width="62.07" height="1.43" fill="#ff7f00"/>
<rect x="127.6" y="309.95" width="88.84" height="1.43" fill="#ff7f00"/>
<rect x="127.6" y="310.98" width="51.11" height="1.43" fill="#984ea3"/>
<rect x="127.6" y="312.01" width="57.2" height="1.43" fill="#984ea3"/>
<rect x="127.6" y="313.03" width="92.49" height="1.43" fill="#984ea3"/>
<rect x="127.6" y="314.06" width="115.61" height="1.43" fill="#984ea3"/>
<rect x="127.6" y="315.08" width="79.1" height="1.43" fill="#4daf4a"/>
<rect x="127.6" y="316.11" width="118.05" height="1.43" fill="#4daf4a"/>
<rect x="127.6" y="317.14" width="104.66" height="1.43" fill="#4daf4a"/>
<rect x="127.6" y="318.16" width="109.53" height="1.43" fill="#4daf4a"/>
<rect x="127.6" y="319.19" width="73.02" height="1.43" fill="#4daf4a"/>
<rect x="127.6" y="320.22" width="111.96" height="1.43" fill="#4daf4a"/>
<rect x="127.6" y="321.24" width="57.2" height="1.43" fill="#377eb8"/>
<rect x="127.6" y="322.27" width="75.45" height="1.43" fill="#377eb8"/>
<rect x="127.6" y="323.29" width="120.48" height="1.43" fill="#377eb8"/>
<rect x="127.6" y="324.32" width="118.05" height="1.43" fill="#e41a1c"/>
<rect x="127.6" y="325.35" width="115.61" height="1.43" fill="#e41a1c"/>
<rect x="127.6" y="326.37" width="82.76" height="1.43" fill="#e41a1c"/>
<rect x="276.4" y="307.9" width="94.85" height="1.43" fill="#ff7f00"/>
<rect x="276.4" y="308.93" width="96.82" height="1.43" fill="#ff7f00"/>
<rect x="276.4" y="309.95" width="99.79" height="1.43" fill="#ff7f00"/>
<rect x="276.4" y="310.98" width="81.02" height="1.43" fill="#984ea3"/>
<rect x="276.4" y="312.01" width="87.93" height="1.43" fill="#984ea3"/>
<rect x="276.4" y="313.03" width="114.61" height="1.43" fill="#984ea3"/>
<rect x="276.4" y="314.06" width="22.72" height="1.43" fill="#984ea3"/>
<rect x="276.4" y="315.08" width="50.39" height="1.43" fill="#4daf4a"/>
<rect x="276.4" y="316.11" width="81.02" height="1.43" fill="#4daf4a"/>
<rect x="276.4" y="317.14" width="93.86" height="1.43" fill="#4daf4a"/>
<rect x="276.4" y="318.16" width="102.75" height="1.43" fill="#4daf4a"/>
<rect x="276.4" y="319.19" width="49.4" height="1.43" fill="#4daf4a"/>
<rect x="276.4" y="320.22" width="71.14" height="1.43" fill="#4daf4a"/>
<rect x="276.4" y="321.24" width="86.94" height="1.43" fill="#377eb8"/>
<rect x="276.4" y="322.27" width="90.9" height="1.43" fill="#377eb8"/>
<rect x="276.4" y="323.29" width="67.18" height="1.43" fill="#377eb8"/>
<rect x="276.4" y="324.32" width="95.84" height="1.43" fill="#e41a1c"/>
<rect x="276.4" y="325.35" width="101.76" height="1.43" fill="#e41a1c"/>
<rect x="276.4" y="326.37" width="95.84" height="1.43" fill="#e41a1c"/>
<rect x="410.5" y="307.9" width="120.17" height="3.9" fill="#ff7f00"/>
<rect x="410.5" y="311.8" width="94.43" height="3.9" fill="#984ea3"/>
<rect x="410.5" y="315.7" width="92.11" height="3.9" fill="#4daf4a"/>
<rect x="410.5" y="319.6" width="101.26" height="3.9" fill="#377eb8"/>
<rect x="410.5" y="323.5" width="120.78" height="3.9" fill="#e41a1c"/>
<rect x="552.6" y="307.9" width="103.85" height="19.5" fill="#f781bf"/>
<line x1="127.6" y1="304.7" x2="127.6" y2="330.6" stroke="#444" stroke-width="0.8"/>
<line x1="276.4" y1="304.7" x2="276.4" y2="330.6" stroke="#444" stroke-width="0.8"/>
<line x1="410.5" y1="304.7" x2="410.5" y2="330.6" stroke="#444" stroke-width="0.8"/>
<line x1="552.6" y1="304.7" x2="552.6" y2="330.6" stroke="#444" stroke-width="0.8"/>
<line x1="142.81" y1="336" x2="142.81" y2="361.9" stroke="#fff" stroke-opacity="0.6" stroke-width="0.6"/>
<line x1="158.03" y1="336" x2="158.03" y2="361.9" stroke="#fff" stroke-opacity="0.6" stroke-width="0.6"/>
<line x1="173.24" y1="336" x2="173.24" y2="361.9" stroke="#fff" stroke-opacity="0.6" stroke-width="0.6"/>
<line x1="188.45" y1="336" x2="188.45" y2="361.9" stroke="#fff" stroke-opacity="0.6" stroke-width="0.6"/>
<line x1="203.66" y1="336" x2="203.66" y2="361.9" stroke="#fff" stroke-opacity="0.6" stroke-width="0.6"/>
<line x1="218.88" y1="336" x2="218.88" y2="361.9" stroke="#fff" stroke-opacity="0.6" stroke-width="0.6"/>
<line x1="234.09" y1="336" x2="234.09" y2="361.9" stroke="#fff" stroke-opacity="0.6" stroke-width="0.6"/>
<line x1="249.3" y1="336" x2="249.3" y2="361.9" stroke="#fff" stroke-opacity="0.6" stroke-width="0.6"/>
<line x1="301.1" y1="336" x2="301.1" y2="361.9" stroke="#fff" stroke-opacity="0.6" stroke-width="0.6"/>
<line x1="325.8" y1="336" x2="325.8" y2="361.9" stroke="#fff" stroke-opacity="0.6" stroke-width="0.6"/>
<line x1="350.5" y1="336" x2="350.5" y2="361.9" stroke="#fff" stroke-opacity="0.6" stroke-width="0.6"/>
<line x1="375.2" y1="336" x2="375.2" y2="361.9" stroke="#fff" stroke-opacity="0.6" stroke-width="0.6"/>
<line x1="441" y1="336" x2="441" y2="361.9" stroke="#fff" stroke-opacity="0.6" stroke-width="0.6"/>
<line x1="471.5" y1="336" x2="471.5" y2="361.9" stroke="#fff" stroke-opacity="0.6" stroke-width="0.6"/>
<line x1="502" y1="336" x2="502" y2="361.9" stroke="#fff" stroke-opacity="0.6" stroke-width="0.6"/>
<line x1="532.5" y1="336" x2="532.5" y2="361.9" stroke="#fff" stroke-opacity="0.6" stroke-width="0.6"/>
<line x1="583" y1="336" x2="583" y2="361.9" stroke="#fff" stroke-opacity="0.6" stroke-width="0.6"/>
<line x1="613.4" y1="336" x2="613.4" y2="361.9" stroke="#fff" stroke-opacity="0.6" stroke-width="0.6"/>
<line x1="643.8" y1="336" x2="643.8" y2="361.9" stroke="#fff" stroke-opacity="0.6" stroke-width="0.6"/>
<line x1="674.2" y1="336" x2="674.2" y2="361.9" stroke="#fff" stroke-opacity="0.6" stroke-width="0.6"/>
<rect x="127.6" y="339.2" width="111.96" height="1.43" fill="#ff7f00"/>
<rect x="127.6" y="340.23" width="43.81" height="1.43" fill="#ff7f00"/>
<rect x="127.6" y="341.25" width="82.76" height="1.43" fill="#ff7f00"/>
<rect x="127.6" y="342.28" width="40.16" height="1.43" fill="#984ea3"/>
<rect x="127.6" y="343.31" width="81.54" height="1.43" fill="#984ea3"/>
<rect x="127.6" y="344.33" width="81.54" height="1.43" fill="#984ea3"/>
<rect x="127.6" y="345.36" width="114.4" height="1.43" fill="#984ea3"/>
<rect x="127.6" y="346.38" width="121.7" height="1.43" fill="#4daf4a"/>
<rect x="127.6" y="347.41" width="107.1" height="1.43" fill="#4daf4a"/>
<rect x="127.6" y="348.44" width="85.19" height="1.43" fill="#4daf4a"/>
<rect x="127.6" y="349.46" width="119.27" height="1.43" fill="#4daf4a"/>
<rect x="127.6" y="350.49" width="81.54" height="1.43" fill="#4daf4a"/>
<rect x="127.6" y="351.52" width="115.61" height="1.43" fill="#4daf4a"/>
<rect x="127.6" y="352.54" width="53.55" height="1.43" fill="#377eb8"/>
<rect x="127.6" y="353.57" width="68.15" height="1.43" fill="#377eb8"/>
<rect x="127.6" y="354.59" width="119.27" height="1.43" fill="#377eb8"/>
<rect x="127.6" y="355.62" width="119.27" height="1.43" fill="#e41a1c"/>
<rect x="127.6" y="356.65" width="115.61" height="1.43" fill="#e41a1c"/>
<rect x="127.6" y="357.67" width="81.54" height="1.43" fill="#e41a1c"/>
<rect x="276.4" y="339.2" width="98.8" height="1.43" fill="#ff7f00"/>
<rect x="276.4" y="340.23" width="67.18" height="1.43" fill="#ff7f00"/>
<rect x="276.4" y="341.25" width="93.86" height="1.43" fill="#ff7f00"/>
<rect x="276.4" y="342.28" width="98.8" height="1.43" fill="#984ea3"/>
<rect x="276.4" y="343.31" width="69.16" height="1.43" fill="#984ea3"/>
<rect x="276.4" y="344.33" width="53.35" height="1.43" fill="#984ea3"/>
<rect x="276.4" y="346.38" width="98.8" height="1.43" fill="#4daf4a"/>
<rect x="276.4" y="347.41" width="98.8" height="1.43" fill="#4daf4a"/>
<rect x="276.4" y="348.44" width="98.8" height="1.43" fill="#4daf4a"/>
<rect x="276.4" y="349.46" width="98.8" height="1.43" fill="#4daf4a"/>
<rect x="276.4" y="350.49" width="98.8" height="1.43" fill="#4daf4a"/>
<rect x="276.4" y="351.52" width="98.8" height="1.43" fill="#4daf4a"/>
<rect x="276.4" y="352.54" width="67.18" height="1.43" fill="#377eb8"/>
<rect x="276.4" y="353.57" width="76.08" height="1.43" fill="#377eb8"/>
<rect x="276.4" y="354.59" width="46.44" height="1.43" fill="#377eb8"/>
<rect x="276.4" y="355.62" width="98.8" height="1.43" fill="#e41a1c"/>
<rect x="276.4" y="356.65" width="98.8" height="1.43" fill="#e41a1c"/>
<rect x="276.4" y="357.67" width="98.8" height="1.43" fill="#e41a1c"/>
<rect x="410.5" y="339.2" width="107.48" height="3.9" fill="#ff7f00"/>
<rect x="410.5" y="343.1" width="68.93" height="3.9" fill="#984ea3"/>
<rect x="410.5" y="347" width="122" height="3.9" fill="#4daf4a"/>
<rect x="410.5" y="350.9" width="78.32" height="3.9" fill="#377eb8"/>
<rect x="410.5" y="354.8" width="122" height="3.9" fill="#e41a1c"/>
<rect x="552.6" y="339.2" width="99.35" height="19.5" fill="#f781bf"/>
<line x1="127.6" y1="336" x2="127.6" y2="361.9" stroke="#444" stroke-width="0.8"/>
<line x1="276.4" y1="336" x2="276.4" y2="361.9" stroke="#444" stroke-width="0.8"/>
<line x1="410.5" y1="336" x2="410.5" y2="361.9" stroke="#444" stroke-width="0.8"/>
<line x1="552.6" y1="336" x2="552.6" y2="361.9" stroke="#444" stroke-width="0.8"/>
<line x1="142.81" y1="367.5" x2="142.81" y2="393.4" stroke="#fff" stroke-opacity="0.6" stroke-width="0.6"/>
<line x1="158.03" y1="367.5" x2="158.03" y2="393.4" stroke="#fff" stroke-opacity="0.6" stroke-width="0.6"/>
<line x1="173.24" y1="367.5" x2="173.24" y2="393.4" stroke="#fff" stroke-opacity="0.6" stroke-width="0.6"/>
<line x1="188.45" y1="367.5" x2="188.45" y2="393.4" stroke="#fff" stroke-opacity="0.6" stroke-width="0.6"/>
<line x1="203.66" y1="367.5" x2="203.66" y2="393.4" stroke="#fff" stroke-opacity="0.6" stroke-width="0.6"/>
<line x1="218.88" y1="367.5" x2="218.88" y2="393.4" stroke="#fff" stroke-opacity="0.6" stroke-width="0.6"/>
<line x1="234.09" y1="367.5" x2="234.09" y2="393.4" stroke="#fff" stroke-opacity="0.6" stroke-width="0.6"/>
<line x1="249.3" y1="367.5" x2="249.3" y2="393.4" stroke="#fff" stroke-opacity="0.6" stroke-width="0.6"/>
<line x1="301.1" y1="367.5" x2="301.1" y2="393.4" stroke="#fff" stroke-opacity="0.6" stroke-width="0.6"/>
<line x1="325.8" y1="367.5" x2="325.8" y2="393.4" stroke="#fff" stroke-opacity="0.6" stroke-width="0.6"/>
<line x1="350.5" y1="367.5" x2="350.5" y2="393.4" stroke="#fff" stroke-opacity="0.6" stroke-width="0.6"/>
<line x1="375.2" y1="367.5" x2="375.2" y2="393.4" stroke="#fff" stroke-opacity="0.6" stroke-width="0.6"/>
<line x1="441" y1="367.5" x2="441" y2="393.4" stroke="#fff" stroke-opacity="0.6" stroke-width="0.6"/>
<line x1="471.5" y1="367.5" x2="471.5" y2="393.4" stroke="#fff" stroke-opacity="0.6" stroke-width="0.6"/>
<line x1="502" y1="367.5" x2="502" y2="393.4" stroke="#fff" stroke-opacity="0.6" stroke-width="0.6"/>
<line x1="532.5" y1="367.5" x2="532.5" y2="393.4" stroke="#fff" stroke-opacity="0.6" stroke-width="0.6"/>
<line x1="583" y1="367.5" x2="583" y2="393.4" stroke="#fff" stroke-opacity="0.6" stroke-width="0.6"/>
<line x1="613.4" y1="367.5" x2="613.4" y2="393.4" stroke="#fff" stroke-opacity="0.6" stroke-width="0.6"/>
<line x1="643.8" y1="367.5" x2="643.8" y2="393.4" stroke="#fff" stroke-opacity="0.6" stroke-width="0.6"/>
<line x1="674.2" y1="367.5" x2="674.2" y2="393.4" stroke="#fff" stroke-opacity="0.6" stroke-width="0.6"/>
<rect x="127.6" y="370.7" width="110.75" height="1.43" fill="#ff7f00"/>
<rect x="127.6" y="371.73" width="63.28" height="1.43" fill="#ff7f00"/>
<rect x="127.6" y="372.75" width="87.62" height="1.43" fill="#ff7f00"/>
<rect x="127.6" y="373.78" width="8.52" height="1.43" fill="#984ea3"/>
<rect x="127.6" y="374.81" width="13.39" height="1.43" fill="#984ea3"/>
<rect x="127.6" y="375.83" width="64.5" height="1.43" fill="#984ea3"/>
<rect x="127.6" y="376.86" width="118.05" height="1.43" fill="#984ea3"/>
<rect x="127.6" y="377.88" width="75.45" height="1.43" fill="#4daf4a"/>
<rect x="127.6" y="378.91" width="121.7" height="1.43" fill="#4daf4a"/>
<rect x="127.6" y="379.94" width="85.19" height="1.43" fill="#4daf4a"/>
<rect x="127.6" y="380.96" width="97.36" height="1.43" fill="#4daf4a"/>
<rect x="127.6" y="381.99" width="75.45" height="1.43" fill="#4daf4a"/>
<rect x="127.6" y="383.02" width="115.61" height="1.43" fill="#4daf4a"/>
<rect x="127.6" y="384.04" width="48.68" height="1.43" fill="#377eb8"/>
<rect x="127.6" y="385.07" width="51.11" height="1.43" fill="#377eb8"/>
<rect x="127.6" y="386.09" width="116.83" height="1.43" fill="#377eb8"/>
<rect x="127.6" y="387.12" width="119.27" height="1.43" fill="#e41a1c"/>
<rect x="127.6" y="388.15" width="114.4" height="1.43" fill="#e41a1c"/>
<rect x="127.6" y="389.17" width="80.32" height="1.43" fill="#e41a1c"/>
<rect x="276.4" y="370.7" width="92.87" height="1.43" fill="#ff7f00"/>
<rect x="276.4" y="371.73" width="98.8" height="1.43" fill="#ff7f00"/>
<rect x="276.4" y="372.75" width="93.86" height="1.43" fill="#ff7f00"/>
<rect x="276.4" y="375.83" width="92.87" height="1.43" fill="#984ea3"/>
<rect x="276.4" y="377.88" width="62.24" height="1.43" fill="#4daf4a"/>
<rect x="276.4" y="378.91" width="97.81" height="1.43" fill="#4daf4a"/>
<rect x="276.4" y="379.94" width="81.02" height="1.43" fill="#4daf4a"/>
<rect x="276.4" y="380.96" width="62.24" height="1.43" fill="#4daf4a"/>
<rect x="276.4" y="381.99" width="59.28" height="1.43" fill="#4daf4a"/>
<rect x="276.4" y="383.02" width="84.97" height="1.43" fill="#4daf4a"/>
<rect x="276.4" y="384.04" width="42.48" height="1.43" fill="#377eb8"/>
<rect x="276.4" y="387.12" width="97.81" height="1.43" fill="#e41a1c"/>
<rect x="276.4" y="388.15" width="96.82" height="1.43" fill="#e41a1c"/>
<rect x="276.4" y="389.17" width="96.82" height="1.43" fill="#e41a1c"/>
<rect x="410.5" y="370.7" width="120.29" height="3.9" fill="#ff7f00"/>
<rect x="410.5" y="374.6" width="29.16" height="3.9" fill="#984ea3"/>
<rect x="410.5" y="378.5" width="92.35" height="3.9" fill="#4daf4a"/>
<rect x="410.5" y="382.4" width="35.38" height="3.9" fill="#377eb8"/>
<rect x="410.5" y="386.3" width="119.8" height="3.9" fill="#e41a1c"/>
<rect x="552.6" y="370.7" width="76.24" height="19.5" fill="#f781bf"/>
<line x1="127.6" y1="367.5" x2="127.6" y2="393.4" stroke="#444" stroke-width="0.8"/>
<line x1="276.4" y1="367.5" x2="276.4" y2="393.4" stroke="#444" stroke-width="0.8"/>
<line x1="410.5" y1="367.5" x2="410.5" y2="393.4" stroke="#444" stroke-width="0.8"/>
<line x1="552.6" y1="367.5" x2="552.6" y2="393.4" stroke="#444" stroke-width="0.8"/>
<line x1="142.81" y1="398.9" x2="142.81" y2="424.8" stroke="#fff" stroke-opacity="0.6" stroke-width="0.6"/>
<line x1="158.03" y1="398.9" x2="158.03" y2="424.8" stroke="#fff" stroke-opacity="0.6" stroke-width="0.6"/>
<line x1="173.24" y1="398.9" x2="173.24" y2="424.8" stroke="#fff" stroke-opacity="0.6" stroke-width="0.6"/>
<line x1="188.45" y1="398.9" x2="188.45" y2="424.8" stroke="#fff" stroke-opacity="0.6" stroke-width="0.6"/>
<line x1="203.66" y1="398.9" x2="203.66" y2="424.8" stroke="#fff" stroke-opacity="0.6" stroke-width="0.6"/>
<line x1="218.88" y1="398.9" x2="218.88" y2="424.8" stroke="#fff" stroke-opacity="0.6" stroke-width="0.6"/>
<line x1="234.09" y1="398.9" x2="234.09" y2="424.8" stroke="#fff" stroke-opacity="0.6" stroke-width="0.6"/>
<line x1="249.3" y1="398.9" x2="249.3" y2="424.8" stroke="#fff" stroke-opacity="0.6" stroke-width="0.6"/>
<line x1="301.1" y1="398.9" x2="301.1" y2="424.8" stroke="#fff" stroke-opacity="0.6" stroke-width="0.6"/>
<line x1="325.8" y1="398.9" x2="325.8" y2="424.8" stroke="#fff" stroke-opacity="0.6" stroke-width="0.6"/>
<line x1="350.5" y1="398.9" x2="350.5" y2="424.8" stroke="#fff" stroke-opacity="0.6" stroke-width="0.6"/>
<line x1="375.2" y1="398.9" x2="375.2" y2="424.8" stroke="#fff" stroke-opacity="0.6" stroke-width="0.6"/>
<line x1="441" y1="398.9" x2="441" y2="424.8" stroke="#fff" stroke-opacity="0.6" stroke-width="0.6"/>
<line x1="471.5" y1="398.9" x2="471.5" y2="424.8" stroke="#fff" stroke-opacity="0.6" stroke-width="0.6"/>
<line x1="502" y1="398.9" x2="502" y2="424.8" stroke="#fff" stroke-opacity="0.6" stroke-width="0.6"/>
<line x1="532.5" y1="398.9" x2="532.5" y2="424.8" stroke="#fff" stroke-opacity="0.6" stroke-width="0.6"/>
<line x1="583" y1="398.9" x2="583" y2="424.8" stroke="#fff" stroke-opacity="0.6" stroke-width="0.6"/>
<line x1="613.4" y1="398.9" x2="613.4" y2="424.8" stroke="#fff" stroke-opacity="0.6" stroke-width="0.6"/>
<line x1="643.8" y1="398.9" x2="643.8" y2="424.8" stroke="#fff" stroke-opacity="0.6" stroke-width="0.6"/>
<line x1="674.2" y1="398.9" x2="674.2" y2="424.8" stroke="#fff" stroke-opacity="0.6" stroke-width="0.6"/>
<rect x="127.6" y="402.1" width="80.32" height="1.43" fill="#ff7f00"/>
<rect x="127.6" y="403.13" width="9.13" height="1.43" fill="#ff7f00"/>
<rect x="127.6" y="405.18" width="59.63" height="1.43" fill="#984ea3"/>
<rect x="127.6" y="406.21" width="51.11" height="1.43" fill="#984ea3"/>
<rect x="127.6" y="407.23" width="96.14" height="1.43" fill="#984ea3"/>
<rect x="127.6" y="408.26" width="119.27" height="1.43" fill="#984ea3"/>
<rect x="127.6" y="409.28" width="80.32" height="1.43" fill="#4daf4a"/>
<rect x="127.6" y="410.31" width="114.4" height="1.43" fill="#4daf4a"/>
<rect x="127.6" y="411.34" width="59.63" height="1.43" fill="#4daf4a"/>
<rect x="127.6" y="412.36" width="64.5" height="1.43" fill="#4daf4a"/>
<rect x="127.6" y="413.39" width="97.36" height="1.43" fill="#4daf4a"/>
<rect x="127.6" y="414.42" width="55.98" height="1.43" fill="#4daf4a"/>
<rect x="127.6" y="415.44" width="59.63" height="1.43" fill="#377eb8"/>
<rect x="127.6" y="416.47" width="77.89" height="1.43" fill="#377eb8"/>
<rect x="127.6" y="417.49" width="121.7" height="1.43" fill="#377eb8"/>
<rect x="127.6" y="418.52" width="93.71" height="1.43" fill="#e41a1c"/>
<rect x="127.6" y="419.55" width="88.84" height="1.43" fill="#e41a1c"/>
<rect x="127.6" y="420.57" width="52.33" height="1.43" fill="#e41a1c"/>
<rect x="276.4" y="403.13" width="10.87" height="1.43" fill="#ff7f00"/>
<rect x="276.4" y="405.18" width="97.81" height="1.43" fill="#984ea3"/>
<rect x="276.4" y="406.21" width="97.81" height="1.43" fill="#984ea3"/>
<rect x="276.4" y="407.23" width="97.81" height="1.43" fill="#984ea3"/>
<rect x="276.4" y="408.26" width="97.81" height="1.43" fill="#984ea3"/>
<rect x="276.4" y="409.28" width="88.92" height="1.43" fill="#4daf4a"/>
<rect x="276.4" y="410.31" width="12.84" height="1.43" fill="#4daf4a"/>
<rect x="276.4" y="411.34" width="23.71" height="1.43" fill="#4daf4a"/>
<rect x="276.4" y="412.36" width="12.84" height="1.43" fill="#4daf4a"/>
<rect x="276.4" y="413.39" width="4.94" height="1.43" fill="#4daf4a"/>
<rect x="276.4" y="414.42" width="4.94" height="1.43" fill="#4daf4a"/>
<rect x="276.4" y="415.44" width="98.8" height="1.43" fill="#377eb8"/>
<rect x="276.4" y="416.47" width="98.8" height="1.43" fill="#377eb8"/>
<rect x="276.4" y="417.49" width="98.8" height="1.43" fill="#377eb8"/>
<rect x="276.4" y="418.52" width="40.51" height="1.43" fill="#e41a1c"/>
<rect x="276.4" y="419.55" width="38.53" height="1.43" fill="#e41a1c"/>
<rect x="276.4" y="420.57" width="21.74" height="1.43" fill="#e41a1c"/>
<rect x="410.5" y="402.1" width="4.88" height="3.9" fill="#ff7f00"/>
<rect x="410.5" y="406" width="121.51" height="3.9" fill="#984ea3"/>
<rect x="410.5" y="409.9" width="31.48" height="3.9" fill="#4daf4a"/>
<rect x="410.5" y="413.8" width="122" height="3.9" fill="#377eb8"/>
<rect x="410.5" y="417.7" width="42.33" height="3.9" fill="#e41a1c"/>
<rect x="552.6" y="402.1" width="65.66" height="19.5" fill="#f781bf"/>
<line x1="127.6" y1="398.9" x2="127.6" y2="424.8" stroke="#444" stroke-width="0.8"/>
<line x1="276.4" y1="398.9" x2="276.4" y2="424.8" stroke="#444" stroke-width="0.8"/>
<line x1="410.5" y1="398.9" x2="410.5" y2="424.8" stroke="#444" stroke-width="0.8"/>
<line x1="552.6" y1="398.9" x2="552.6" y2="424.8" stroke="#444" stroke-width="0.8"/>
<line x1="142.81" y1="430.3" x2="142.81" y2="456.2" stroke="#fff" stroke-opacity="0.6" stroke-width="0.6"/>
<line x1="158.03" y1="430.3" x2="158.03" y2="456.2" stroke="#fff" stroke-opacity="0.6" stroke-width="0.6"/>
<line x1="173.24" y1="430.3" x2="173.24" y2="456.2" stroke="#fff" stroke-opacity="0.6" stroke-width="0.6"/>
<line x1="188.45" y1="430.3" x2="188.45" y2="456.2" stroke="#fff" stroke-opacity="0.6" stroke-width="0.6"/>
<line x1="203.66" y1="430.3" x2="203.66" y2="456.2" stroke="#fff" stroke-opacity="0.6" stroke-width="0.6"/>
<line x1="218.88" y1="430.3" x2="218.88" y2="456.2" stroke="#fff" stroke-opacity="0.6" stroke-width="0.6"/>
<line x1="234.09" y1="430.3" x2="234.09" y2="456.2" stroke="#fff" stroke-opacity="0.6" stroke-width="0.6"/>
<line x1="249.3" y1="430.3" x2="249.3" y2="456.2" stroke="#fff" stroke-opacity="0.6" stroke-width="0.6"/>
<line x1="301.1" y1="430.3" x2="301.1" y2="456.2" stroke="#fff" stroke-opacity="0.6" stroke-width="0.6"/>
<line x1="325.8" y1="430.3" x2="325.8" y2="456.2" stroke="#fff" stroke-opacity="0.6" stroke-width="0.6"/>
<line x1="350.5" y1="430.3" x2="350.5" y2="456.2" stroke="#fff" stroke-opacity="0.6" stroke-width="0.6"/>
<line x1="375.2" y1="430.3" x2="375.2" y2="456.2" stroke="#fff" stroke-opacity="0.6" stroke-width="0.6"/>
<line x1="441" y1="430.3" x2="441" y2="456.2" stroke="#fff" stroke-opacity="0.6" stroke-width="0.6"/>
<line x1="471.5" y1="430.3" x2="471.5" y2="456.2" stroke="#fff" stroke-opacity="0.6" stroke-width="0.6"/>
<line x1="502" y1="430.3" x2="502" y2="456.2" stroke="#fff" stroke-opacity="0.6" stroke-width="0.6"/>
<line x1="532.5" y1="430.3" x2="532.5" y2="456.2" stroke="#fff" stroke-opacity="0.6" stroke-width="0.6"/>
<line x1="583" y1="430.3" x2="583" y2="456.2" stroke="#fff" stroke-opacity="0.6" stroke-width="0.6"/>
<line x1="613.4" y1="430.3" x2="613.4" y2="456.2" stroke="#fff" stroke-opacity="0.6" stroke-width="0.6"/>
<line x1="643.8" y1="430.3" x2="643.8" y2="456.2" stroke="#fff" stroke-opacity="0.6" stroke-width="0.6"/>
<line x1="674.2" y1="430.3" x2="674.2" y2="456.2" stroke="#fff" stroke-opacity="0.6" stroke-width="0.6"/>
<rect x="127.6" y="433.5" width="91.28" height="1.43" fill="#ff7f00"/>
<rect x="127.6" y="436.58" width="32.86" height="1.43" fill="#984ea3"/>
<rect x="127.6" y="437.61" width="42.59" height="1.43" fill="#984ea3"/>
<rect x="127.6" y="438.63" width="85.19" height="1.43" fill="#984ea3"/>
<rect x="127.6" y="439.66" width="114.4" height="1.43" fill="#984ea3"/>
<rect x="127.6" y="440.68" width="63.28" height="1.43" fill="#4daf4a"/>
<rect x="127.6" y="441.71" width="115.61" height="1.43" fill="#4daf4a"/>
<rect x="127.6" y="442.74" width="49.9" height="1.43" fill="#4daf4a"/>
<rect x="127.6" y="443.76" width="46.25" height="1.43" fill="#4daf4a"/>
<rect x="127.6" y="444.79" width="60.85" height="1.43" fill="#4daf4a"/>
<rect x="127.6" y="445.82" width="93.71" height="1.43" fill="#4daf4a"/>
<rect x="127.6" y="446.84" width="31.64" height="1.43" fill="#377eb8"/>
<rect x="127.6" y="447.87" width="40.16" height="1.43" fill="#377eb8"/>
<rect x="127.6" y="448.89" width="120.48" height="1.43" fill="#377eb8"/>
<rect x="127.6" y="449.92" width="68.15" height="1.43" fill="#e41a1c"/>
<rect x="127.6" y="450.95" width="80.32" height="1.43" fill="#e41a1c"/>
<rect x="127.6" y="451.97" width="42.59" height="1.43" fill="#e41a1c"/>
<rect x="276.4" y="433.5" width="34.58" height="1.43" fill="#ff7f00"/>
<rect x="276.4" y="436.58" width="65.21" height="1.43" fill="#984ea3"/>
<rect x="276.4" y="437.61" width="51.38" height="1.43" fill="#984ea3"/>
<rect x="276.4" y="438.63" width="27.66" height="1.43" fill="#984ea3"/>
<rect x="276.4" y="440.68" width="19.76" height="1.43" fill="#4daf4a"/>
<rect x="276.4" y="448.89" width="85.96" height="1.43" fill="#377eb8"/>
<rect x="410.5" y="433.5" width="14.52" height="3.9" fill="#ff7f00"/>
<rect x="410.5" y="437.4" width="64.66" height="3.9" fill="#984ea3"/>
<rect x="410.5" y="441.3" width="4.51" height="3.9" fill="#4daf4a"/>
<rect x="410.5" y="445.2" width="35.38" height="3.9" fill="#377eb8"/>
<rect x="552.6" y="433.5" width="22.62" height="19.5" fill="#f781bf"/>
<line x1="127.6" y1="430.3" x2="127.6" y2="456.2" stroke="#444" stroke-width="0.8"/>
<line x1="276.4" y1="430.3" x2="276.4" y2="456.2" stroke="#444" stroke-width="0.8"/>
<line x1="410.5" y1="430.3" x2="410.5" y2="456.2" stroke="#444" stroke-width="0.8"/>
<line x1="552.6" y1="430.3" x2="552.6" y2="456.2" stroke="#444" stroke-width="0.8"/>
<line x1="142.81" y1="461.7" x2="142.81" y2="487.6" stroke="#fff" stroke-opacity="0.6" stroke-width="0.6"/>
<line x1="158.03" y1="461.7" x2="158.03" y2="487.6" stroke="#fff" stroke-opacity="0.6" stroke-width="0.6"/>
<line x1="173.24" y1="461.7" x2="173.24" y2="487.6" stroke="#fff" stroke-opacity="0.6" stroke-width="0.6"/>
<line x1="188.45" y1="461.7" x2="188.45" y2="487.6" stroke="#fff" stroke-opacity="0.6" stroke-width="0.6"/>
<line x1="203.66" y1="461.7" x2="203.66" y2="487.6" stroke="#fff" stroke-opacity="0.6" stroke-width="0.6"/>
<line x1="218.88" y1="461.7" x2="218.88" y2="487.6" stroke="#fff" stroke-opacity="0.6" stroke-width="0.6"/>
<line x1="234.09" y1="461.7" x2="234.09" y2="487.6" stroke="#fff" stroke-opacity="0.6" stroke-width="0.6"/>
<line x1="249.3" y1="461.7" x2="249.3" y2="487.6" stroke="#fff" stroke-opacity="0.6" stroke-width="0.6"/>
<line x1="301.1" y1="461.7" x2="301.1" y2="487.6" stroke="#fff" stroke-opacity="0.6" stroke-width="0.6"/>
<line x1="325.8" y1="461.7" x2="325.8" y2="487.6" stroke="#fff" stroke-opacity="0.6" stroke-width="0.6"/>
<line x1="350.5" y1="461.7" x2="350.5" y2="487.6" stroke="#fff" stroke-opacity="0.6" stroke-width="0.6"/>
<line x1="375.2" y1="461.7" x2="375.2" y2="487.6" stroke="#fff" stroke-opacity="0.6" stroke-width="0.6"/>
<line x1="441" y1="461.7" x2="441" y2="487.6" stroke="#fff" stroke-opacity="0.6" stroke-width="0.6"/>
<line x1="471.5" y1="461.7" x2="471.5" y2="487.6" stroke="#fff" stroke-opacity="0.6" stroke-width="0.6"/>
<line x1="502" y1="461.7" x2="502" y2="487.6" stroke="#fff" stroke-opacity="0.6" stroke-width="0.6"/>
<line x1="532.5" y1="461.7" x2="532.5" y2="487.6" stroke="#fff" stroke-opacity="0.6" stroke-width="0.6"/>
<line x1="583" y1="461.7" x2="583" y2="487.6" stroke="#fff" stroke-opacity="0.6" stroke-width="0.6"/>
<line x1="613.4" y1="461.7" x2="613.4" y2="487.6" stroke="#fff" stroke-opacity="0.6" stroke-width="0.6"/>
<line x1="643.8" y1="461.7" x2="643.8" y2="487.6" stroke="#fff" stroke-opacity="0.6" stroke-width="0.6"/>
<line x1="674.2" y1="461.7" x2="674.2" y2="487.6" stroke="#fff" stroke-opacity="0.6" stroke-width="0.6"/>
<rect x="127.6" y="464.9" width="83.97" height="1.43" fill="#ff7f00"/>
<rect x="127.6" y="465.93" width="3.65" height="1.43" fill="#ff7f00"/>
<rect x="127.6" y="467.98" width="15.82" height="1.43" fill="#984ea3"/>
<rect x="127.6" y="469.01" width="19.47" height="1.43" fill="#984ea3"/>
<rect x="127.6" y="470.03" width="71.8" height="1.43" fill="#984ea3"/>
<rect x="127.6" y="471.06" width="114.4" height="1.43" fill="#984ea3"/>
<rect x="127.6" y="472.08" width="63.28" height="1.43" fill="#4daf4a"/>
<rect x="127.6" y="473.11" width="114.4" height="1.43" fill="#4daf4a"/>
<rect x="127.6" y="474.14" width="54.77" height="1.43" fill="#4daf4a"/>
<rect x="127.6" y="475.16" width="46.25" height="1.43" fill="#4daf4a"/>
<rect x="127.6" y="476.19" width="68.15" height="1.43" fill="#4daf4a"/>
<rect x="127.6" y="477.22" width="92.49" height="1.43" fill="#4daf4a"/>
<rect x="127.6" y="478.24" width="34.08" height="1.43" fill="#377eb8"/>
<rect x="127.6" y="479.27" width="41.38" height="1.43" fill="#377eb8"/>
<rect x="127.6" y="480.29" width="116.83" height="1.43" fill="#377eb8"/>
<rect x="127.6" y="481.32" width="68.15" height="1.43" fill="#e41a1c"/>
<rect x="127.6" y="482.35" width="80.32" height="1.43" fill="#e41a1c"/>
<rect x="127.6" y="483.37" width="46.25" height="1.43" fill="#e41a1c"/>
<rect x="276.4" y="464.9" width="11.56" height="1.43" fill="#ff7f00"/>
<rect x="276.4" y="465.93" width="1.98" height="1.43" fill="#ff7f00"/>
<rect x="276.4" y="466.95" width="4.64" height="1.43" fill="#ff7f00"/>
<rect x="276.4" y="467.98" width="13.83" height="1.43" fill="#984ea3"/>
<rect x="276.4" y="469.01" width="15.81" height="1.43" fill="#984ea3"/>
<rect x="276.4" y="470.03" width="19.76" height="1.43" fill="#984ea3"/>
<rect x="276.4" y="471.06" width="9.88" height="1.43" fill="#984ea3"/>
<rect x="276.4" y="472.08" width="6.42" height="1.43" fill="#4daf4a"/>
<rect x="276.4" y="473.11" width="17.29" height="1.43" fill="#4daf4a"/>
<rect x="276.4" y="474.14" width="8.6" height="1.43" fill="#4daf4a"/>
<rect x="276.4" y="475.16" width="2.47" height="1.43" fill="#4daf4a"/>
<rect x="276.4" y="476.19" width="29.64" height="1.43" fill="#4daf4a"/>
<rect x="271.76" y="477.22" width="4.64" height="1.43" fill="#4daf4a"/>
<rect x="276.4" y="478.24" width="11.86" height="1.43" fill="#377eb8"/>
<rect x="276.4" y="479.27" width="5.53" height="1.43" fill="#377eb8"/>
<rect x="269.19" y="480.29" width="7.21" height="1.43" fill="#377eb8"/>
<rect x="274.03" y="481.32" width="2.37" height="1.43" fill="#e41a1c"/>
<rect x="276.4" y="482.35" width="3.26" height="1.43" fill="#e41a1c"/>
<rect x="276.4" y="483.37" width="6.42" height="1.43" fill="#e41a1c"/>
<rect x="410.5" y="464.9" width="7.44" height="3.9" fill="#ff7f00"/>
<rect x="410.5" y="468.8" width="18.67" height="3.9" fill="#984ea3"/>
<rect x="410.5" y="472.7" width="12.32" height="3.9" fill="#4daf4a"/>
<rect x="410.5" y="476.6" width="4.51" height="3.9" fill="#377eb8"/>
<rect x="410.5" y="480.5" width="3.05" height="3.9" fill="#e41a1c"/>
<rect x="552.6" y="464.9" width="8.51" height="19.5" fill="#f781bf"/>
<line x1="127.6" y1="461.7" x2="127.6" y2="487.6" stroke="#444" stroke-width="0.8"/>
<line x1="276.4" y1="461.7" x2="276.4" y2="487.6" stroke="#444" stroke-width="0.8"/>
<line x1="410.5" y1="461.7" x2="410.5" y2="487.6" stroke="#444" stroke-width="0.8"/>
<line x1="552.6" y1="461.7" x2="552.6" y2="487.6" stroke="#444" stroke-width="0.8"/>
<text x="129.3" y="296.8" font-size="9.3" fill="#1a1a1a" text-anchor="middle">1</text>
<text x="136.6" y="296.8" font-size="9.3" fill="#1a1a1a" textLength="66.2" lengthAdjust="spacingAndGlyphs">Measure metrics</text>
<text x="279.1" y="296.8" font-size="9.3" fill="#1a1a1a" text-anchor="middle">2</text>
<text x="286.8" y="296.8" font-size="9.3" fill="#1a1a1a" textLength="87.1" lengthAdjust="spacingAndGlyphs">Scale using baselines</text>
<text x="413.5" y="296.8" font-size="9.3" fill="#1a1a1a" text-anchor="middle">3</text>
<text x="421.4" y="296.8" font-size="9.3" fill="#1a1a1a" textLength="99" lengthAdjust="spacingAndGlyphs">Average by metric type</text>
<text x="555.3" y="296.8" font-size="9.3" fill="#1a1a1a" text-anchor="middle">4</text>
<text x="563.1" y="296.8" font-size="9.3" fill="#1a1a1a" textLength="95.7" lengthAdjust="spacingAndGlyphs">Calculate overall score</text>
<text x="127.6" y="500.3" font-size="8" fill="#1a1a1a" text-anchor="middle">0</text>
<text x="158.03" y="500.3" font-size="8" fill="#1a1a1a" text-anchor="middle">0.25</text>
<text x="188.45" y="500.3" font-size="8" fill="#1a1a1a" text-anchor="middle">0.50</text>
<text x="218.88" y="500.3" font-size="8" fill="#1a1a1a" text-anchor="middle">0.75</text>
<text x="249.3" y="500.3" font-size="8" fill="#1a1a1a" text-anchor="middle">1.00</text>
<text x="191.5" y="512.8" font-size="8.9" fill="#1a1a1a" text-anchor="middle">Value</text>
<text x="276.4" y="500.3" font-size="8" fill="#1a1a1a" text-anchor="middle">0</text>
<text x="301.1" y="500.3" font-size="8" fill="#1a1a1a" text-anchor="middle">0.25</text>
<text x="325.8" y="500.3" font-size="8" fill="#1a1a1a" text-anchor="middle">0.50</text>
<text x="350.5" y="500.3" font-size="8" fill="#1a1a1a" text-anchor="middle">0.75</text>
<text x="375.2" y="500.3" font-size="8" fill="#1a1a1a" text-anchor="middle">1.00</text>
<text x="333.2" y="512.8" font-size="8.9" fill="#1a1a1a" text-anchor="middle">Scaled value</text>
<text x="410.5" y="500.3" font-size="8" fill="#1a1a1a" text-anchor="middle">0</text>
<text x="441" y="500.3" font-size="8" fill="#1a1a1a" text-anchor="middle">0.25</text>
<text x="471.5" y="500.3" font-size="8" fill="#1a1a1a" text-anchor="middle">0.50</text>
<text x="502" y="500.3" font-size="8" fill="#1a1a1a" text-anchor="middle">0.75</text>
<text x="532.5" y="500.3" font-size="8" fill="#1a1a1a" text-anchor="middle">1.00</text>
<text x="474.9" y="512.8" font-size="8.9" fill="#1a1a1a" text-anchor="middle">Type mean value</text>
<text x="552.6" y="500.3" font-size="8" fill="#1a1a1a" text-anchor="middle">0</text>
<text x="583" y="500.3" font-size="8" fill="#1a1a1a" text-anchor="middle">0.25</text>
<text x="613.4" y="500.3" font-size="8" fill="#1a1a1a" text-anchor="middle">0.50</text>
<text x="643.8" y="500.3" font-size="8" fill="#1a1a1a" text-anchor="middle">0.75</text>
<text x="674.2" y="500.3" font-size="8" fill="#1a1a1a" text-anchor="middle">1.00</text>
<text x="616.5" y="512.8" font-size="8.9" fill="#1a1a1a" text-anchor="middle">Overall score</text>
<text x="123.4" y="320.2" font-size="7.6" fill="#1a1a1a" text-anchor="end">‘Good’ method</text>
<text x="123.7" y="347.4" font-size="7.6" fill="#1a1a1a" text-anchor="end">Scanpy–Cell Ranger</text>
<text x="123.7" y="356" font-size="7.6" fill="#1a1a1a" text-anchor="end">(<tspan font-style="italic">n</tspan> = 2,000, batch = true)</text>
<text x="123.4" y="382.4" font-size="7.6" fill="#1a1a1a" text-anchor="end">All</text>
<text x="123.7" y="409.8" font-size="7.6" fill="#1a1a1a" text-anchor="end">Random</text>
<text x="123.7" y="418.4" font-size="7.6" fill="#1a1a1a" text-anchor="end">(<tspan font-style="italic">n</tspan> = 500)</text>
<text x="123.4" y="445" font-size="7.6" fill="#1a1a1a" text-anchor="end">scSEGIndex</text>
<text x="123.4" y="476.7" font-size="7.6" fill="#1a1a1a" text-anchor="end">‘Bad’ method</text>
<text transform="translate(23.6 396.6) rotate(-90)" font-size="8.4" text-anchor="middle" fill="#1a1a1a">Real baselines</text>
<text transform="translate(34.5 396.6) rotate(-90)" font-size="8.4" text-anchor="middle" fill="#1a1a1a">(scIB pancreas)</text>
<text x="205.4" y="543.6" font-size="11.3" fill="#f781bf" font-style="italic" textLength="35" lengthAdjust="spacingAndGlyphs">Overall</text>
<rect x="244.1" y="538.3" width="3.8" height="3.4" fill="#9c9c9c"/>
<text x="255.8" y="537.2" font-size="10.5" fill="#1a1a1a" text-anchor="middle">1</text>
<line x1="251.85" y1="539.4" x2="259.75" y2="539.4" stroke="#333" stroke-width="0.8"/>
<text x="255.8" y="548.9" font-size="10.5" fill="#1a1a1a" text-anchor="middle">2</text>
<text x="265.9" y="544.5" font-size="9" fill="#1a1a1a" text-anchor="middle">×</text>
<text x="271.3" y="543.8" font-size="12.5" fill="#1a1a1a" text-anchor="middle">(</text>
<text x="298.3" y="537.2" font-size="11.3" fill="#e41a1c" text-anchor="middle" font-style="italic" textLength="46.8" lengthAdjust="spacingAndGlyphs">Int. batch</text>
<line x1="274.4" y1="539.4" x2="322.2" y2="539.4" stroke="#333" stroke-width="0.8"/>
<text x="298.3" y="548.9" font-size="10.5" fill="#1a1a1a" text-anchor="middle">2</text>
<text x="328.3" y="543.2" font-size="9.5" fill="#1a1a1a" text-anchor="middle">+</text>
<text x="352.9" y="537.2" font-size="11.3" fill="#377eb8" text-anchor="middle" font-style="italic" textLength="34.7" lengthAdjust="spacingAndGlyphs">Int. bio</text>
<line x1="334.55" y1="539.4" x2="371.25" y2="539.4" stroke="#333" stroke-width="0.8"/>
<text x="352.9" y="548.9" font-size="10.5" fill="#1a1a1a" text-anchor="middle">2</text>
<text x="374.4" y="543.8" font-size="12.5" fill="#1a1a1a" text-anchor="middle">)</text>
<text x="380.5" y="543.2" font-size="9.5" fill="#1a1a1a" text-anchor="middle">+</text>
<text x="390.1" y="537.2" font-size="10.5" fill="#1a1a1a" text-anchor="middle">1</text>
<line x1="386.15" y1="539.4" x2="394.05" y2="539.4" stroke="#333" stroke-width="0.8"/>
<text x="390.1" y="548.9" font-size="10.5" fill="#1a1a1a" text-anchor="middle">2</text>
<text x="400.1" y="544.5" font-size="9" fill="#1a1a1a" text-anchor="middle">×</text>
<text x="406.4" y="543.8" font-size="12.5" fill="#1a1a1a" text-anchor="middle">(</text>
<text x="433.1" y="537.2" font-size="11.3" fill="#4daf4a" text-anchor="middle" font-style="italic" textLength="44.1" lengthAdjust="spacingAndGlyphs">Mapping</text>
<line x1="409.45" y1="539.4" x2="456.75" y2="539.4" stroke="#333" stroke-width="0.8"/>
<text x="433.1" y="548.9" font-size="10.5" fill="#1a1a1a" text-anchor="middle">3</text>
<text x="462.9" y="543.2" font-size="9.5" fill="#1a1a1a" text-anchor="middle">+</text>
<text x="487.5" y="537.2" font-size="11.3" fill="#984ea3" text-anchor="middle" font-style="italic" textLength="28" lengthAdjust="spacingAndGlyphs">Class.</text>
<line x1="469.1" y1="539.4" x2="505.9" y2="539.4" stroke="#333" stroke-width="0.8"/>
<text x="487.5" y="548.9" font-size="10.5" fill="#1a1a1a" text-anchor="middle">3</text>
<text x="511.7" y="543.2" font-size="9.5" fill="#1a1a1a" text-anchor="middle">+</text>
<text x="536.7" y="537.2" font-size="11.3" fill="#ff7f00" text-anchor="middle" font-style="italic" textLength="35.9" lengthAdjust="spacingAndGlyphs">Unseen</text>
<line x1="517.85" y1="539.4" x2="555.55" y2="539.4" stroke="#333" stroke-width="0.8"/>
<text x="536.7" y="548.9" font-size="10.5" fill="#1a1a1a" text-anchor="middle">3</text>
<text x="559.2" y="543.8" font-size="12.5" fill="#1a1a1a" text-anchor="middle">)</text>
<path d="M 272.3 550 V 556.5 H 373.9 V 550 M 323.1 556.5 V 559.5" fill="none" stroke="#888" stroke-width="0.8"/>
<path d="M 408.2 550 V 556.5 H 555.5 V 550 M 481.9 556.5 V 559.5" fill="none" stroke="#888" stroke-width="0.8"/>
<text x="323.3" y="572.6" font-size="10.6" fill="#1a1a1a" text-anchor="middle">Reference</text>
<text x="481.2" y="572.6" font-size="10.6" fill="#1a1a1a" text-anchor="middle">Query</text>
</g>
</svg>
</body></html>
